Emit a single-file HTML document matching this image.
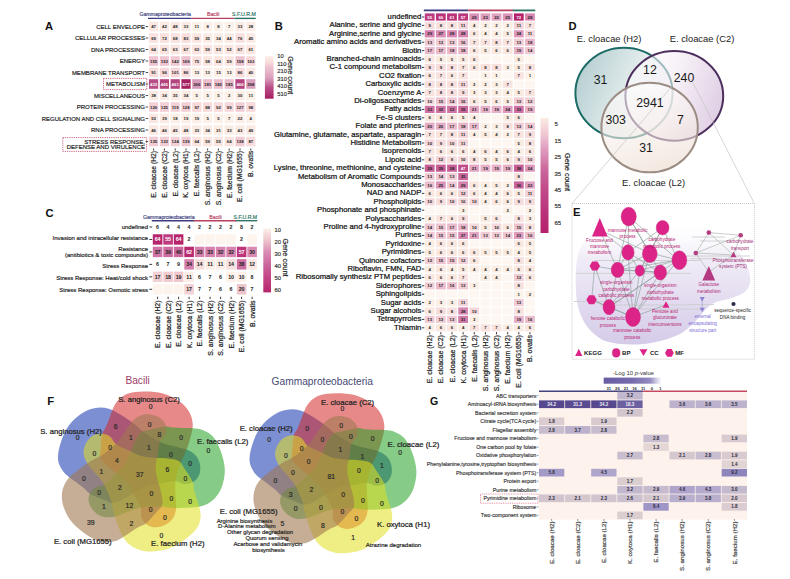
<!DOCTYPE html>
<html><head><meta charset="utf-8"><title>Figure</title>
<style>
html,body{margin:0;padding:0;background:#fff;}
body{width:790px;height:579px;overflow:hidden;}
svg{display:block;font-family:"Liberation Sans", Arial, sans-serif;}
</style></head>
<body>
<svg width="790" height="579" viewBox="0 0 790 579">
<rect width="790" height="579" fill="#fff"/>
<text x="45.00" y="30.03" font-size="11.2" text-anchor="start" fill="#111" font-weight="bold">A</text>
<line x1="148.00" y1="18.40" x2="191.00" y2="18.40" stroke="#3b3d7e" stroke-width="1.4"/>
<text x="165.20" y="16.17" font-size="5.2" text-anchor="middle" fill="#3b3d7e" stroke="#3b3d7e" stroke-width="0.16">Gammaproteobacteria</text>
<line x1="191.20" y1="18.40" x2="234.20" y2="18.40" stroke="#b8405f" stroke-width="1.4"/>
<text x="213.20" y="16.17" font-size="5.2" text-anchor="middle" fill="#b8405f" stroke="#b8405f" stroke-width="0.16">Bacili</text>
<line x1="234.40" y1="18.40" x2="255.80" y2="18.40" stroke="#2e7466" stroke-width="1.4"/>
<text x="243.90" y="16.17" font-size="5.2" text-anchor="middle" fill="#2e7466" stroke="#2e7466" stroke-width="0.16">S.F.U.R.M</text>
<text x="145.00" y="28.66" font-size="6" text-anchor="end" fill="#222" stroke="#222" stroke-width="0.18">CELL ENVELOPE</text>
<line x1="145.60" y1="26.50" x2="148.20" y2="26.50" stroke="#222" stroke-width="0.8"/>
<rect x="149.00" y="21.70" width="9.20" height="9.60" fill="#fbe8e2"/>
<text x="153.60" y="28.05" font-size="4.3" text-anchor="middle" fill="#222" font-weight="bold">47</text>
<rect x="159.80" y="21.70" width="9.20" height="9.60" fill="#fbe9e3"/>
<text x="164.40" y="28.05" font-size="4.3" text-anchor="middle" fill="#222" font-weight="bold">42</text>
<rect x="170.60" y="21.70" width="9.20" height="9.60" fill="#fae8e2"/>
<text x="175.20" y="28.05" font-size="4.3" text-anchor="middle" fill="#222" font-weight="bold">48</text>
<rect x="181.40" y="21.70" width="9.20" height="9.60" fill="#fbebe5"/>
<text x="186.00" y="28.05" font-size="4.3" text-anchor="middle" fill="#222" font-weight="bold">33</text>
<rect x="192.20" y="21.70" width="9.20" height="9.60" fill="#fcf1e9"/>
<text x="196.80" y="28.05" font-size="4.3" text-anchor="middle" fill="#222" font-weight="bold">11</text>
<rect x="203.00" y="21.70" width="9.20" height="9.60" fill="#fcf1e9"/>
<text x="207.60" y="28.05" font-size="4.3" text-anchor="middle" fill="#222" font-weight="bold">8</text>
<rect x="213.80" y="21.70" width="9.20" height="9.60" fill="#fcf1e9"/>
<text x="218.40" y="28.05" font-size="4.3" text-anchor="middle" fill="#222" font-weight="bold">8</text>
<rect x="224.60" y="21.70" width="9.20" height="9.60" fill="#fcf1e9"/>
<text x="229.20" y="28.05" font-size="4.3" text-anchor="middle" fill="#222" font-weight="bold">7</text>
<rect x="235.40" y="21.70" width="9.20" height="9.60" fill="#fbebe5"/>
<text x="240.00" y="28.05" font-size="4.3" text-anchor="middle" fill="#222" font-weight="bold">33</text>
<rect x="246.20" y="21.70" width="9.20" height="9.60" fill="#fbede6"/>
<text x="250.80" y="28.05" font-size="4.3" text-anchor="middle" fill="#222" font-weight="bold">28</text>
<text x="145.00" y="40.16" font-size="6" text-anchor="end" fill="#222" stroke="#222" stroke-width="0.18">CELLULAR PROCESSES</text>
<line x1="145.60" y1="38.00" x2="148.20" y2="38.00" stroke="#222" stroke-width="0.8"/>
<rect x="149.00" y="33.20" width="9.20" height="9.60" fill="#f9e2df"/>
<text x="153.60" y="39.55" font-size="4.3" text-anchor="middle" fill="#222" font-weight="bold">69</text>
<rect x="159.80" y="33.20" width="9.20" height="9.60" fill="#f9e1de"/>
<text x="164.40" y="39.55" font-size="4.3" text-anchor="middle" fill="#222" font-weight="bold">72</text>
<rect x="170.60" y="33.20" width="9.20" height="9.60" fill="#f9e2df"/>
<text x="175.20" y="39.55" font-size="4.3" text-anchor="middle" fill="#222" font-weight="bold">68</text>
<rect x="181.40" y="33.20" width="9.20" height="9.60" fill="#f8dedd"/>
<text x="186.00" y="39.55" font-size="4.3" text-anchor="middle" fill="#222" font-weight="bold">83</text>
<rect x="192.20" y="33.20" width="9.20" height="9.60" fill="#fae5e0"/>
<text x="196.80" y="39.55" font-size="4.3" text-anchor="middle" fill="#222" font-weight="bold">59</text>
<rect x="203.00" y="33.20" width="9.20" height="9.60" fill="#fbebe4"/>
<text x="207.60" y="39.55" font-size="4.3" text-anchor="middle" fill="#222" font-weight="bold">35</text>
<rect x="213.80" y="33.20" width="9.20" height="9.60" fill="#fbebe5"/>
<text x="218.40" y="39.55" font-size="4.3" text-anchor="middle" fill="#222" font-weight="bold">34</text>
<rect x="224.60" y="33.20" width="9.20" height="9.60" fill="#fbe9e3"/>
<text x="229.20" y="39.55" font-size="4.3" text-anchor="middle" fill="#222" font-weight="bold">44</text>
<rect x="235.40" y="33.20" width="9.20" height="9.60" fill="#f9e0de"/>
<text x="240.00" y="39.55" font-size="4.3" text-anchor="middle" fill="#222" font-weight="bold">76</text>
<rect x="246.20" y="33.20" width="9.20" height="9.60" fill="#fbe9e3"/>
<text x="250.80" y="39.55" font-size="4.3" text-anchor="middle" fill="#222" font-weight="bold">45</text>
<text x="145.00" y="51.66" font-size="6" text-anchor="end" fill="#222" stroke="#222" stroke-width="0.18">DNA PROCESSING</text>
<line x1="145.60" y1="49.50" x2="148.20" y2="49.50" stroke="#222" stroke-width="0.8"/>
<rect x="149.00" y="44.70" width="9.20" height="9.60" fill="#fae4df"/>
<text x="153.60" y="51.05" font-size="4.3" text-anchor="middle" fill="#222" font-weight="bold">64</text>
<rect x="159.80" y="44.70" width="9.20" height="9.60" fill="#fae3df"/>
<text x="164.40" y="51.05" font-size="4.3" text-anchor="middle" fill="#222" font-weight="bold">65</text>
<rect x="170.60" y="44.70" width="9.20" height="9.60" fill="#fae4e0"/>
<text x="175.20" y="51.05" font-size="4.3" text-anchor="middle" fill="#222" font-weight="bold">63</text>
<rect x="181.40" y="44.70" width="9.20" height="9.60" fill="#f9e3df"/>
<text x="186.00" y="51.05" font-size="4.3" text-anchor="middle" fill="#222" font-weight="bold">67</text>
<rect x="192.20" y="44.70" width="9.20" height="9.60" fill="#fae4e0"/>
<text x="196.80" y="51.05" font-size="4.3" text-anchor="middle" fill="#222" font-weight="bold">63</text>
<rect x="203.00" y="44.70" width="9.20" height="9.60" fill="#fae5e0"/>
<text x="207.60" y="51.05" font-size="4.3" text-anchor="middle" fill="#222" font-weight="bold">59</text>
<rect x="213.80" y="44.70" width="9.20" height="9.60" fill="#fae7e1"/>
<text x="218.40" y="51.05" font-size="4.3" text-anchor="middle" fill="#222" font-weight="bold">53</text>
<rect x="224.60" y="44.70" width="9.20" height="9.60" fill="#fae7e1"/>
<text x="229.20" y="51.05" font-size="4.3" text-anchor="middle" fill="#222" font-weight="bold">52</text>
<rect x="235.40" y="44.70" width="9.20" height="9.60" fill="#f9e3df"/>
<text x="240.00" y="51.05" font-size="4.3" text-anchor="middle" fill="#222" font-weight="bold">67</text>
<rect x="246.20" y="44.70" width="9.20" height="9.60" fill="#fae5e0"/>
<text x="250.80" y="51.05" font-size="4.3" text-anchor="middle" fill="#222" font-weight="bold">61</text>
<text x="145.00" y="63.16" font-size="6" text-anchor="end" fill="#222" stroke="#222" stroke-width="0.18">ENERGY</text>
<line x1="145.60" y1="61.00" x2="148.20" y2="61.00" stroke="#222" stroke-width="0.8"/>
<rect x="149.00" y="56.20" width="9.20" height="9.60" fill="#efc4d1"/>
<text x="153.60" y="62.55" font-size="4.3" text-anchor="middle" fill="#222" font-weight="bold">155</text>
<rect x="159.80" y="56.20" width="9.20" height="9.60" fill="#efc5d1"/>
<text x="164.40" y="62.55" font-size="4.3" text-anchor="middle" fill="#222" font-weight="bold">153</text>
<rect x="170.60" y="56.20" width="9.20" height="9.60" fill="#f1c9d3"/>
<text x="175.20" y="62.55" font-size="4.3" text-anchor="middle" fill="#222" font-weight="bold">142</text>
<rect x="181.40" y="56.20" width="9.20" height="9.60" fill="#edc0cf"/>
<text x="186.00" y="62.55" font-size="4.3" text-anchor="middle" fill="#222" font-weight="bold">169</text>
<rect x="192.20" y="56.20" width="9.20" height="9.60" fill="#f9e0de"/>
<text x="196.80" y="62.55" font-size="4.3" text-anchor="middle" fill="#222" font-weight="bold">75</text>
<rect x="203.00" y="56.20" width="9.20" height="9.60" fill="#fae5e0"/>
<text x="207.60" y="62.55" font-size="4.3" text-anchor="middle" fill="#222" font-weight="bold">58</text>
<rect x="213.80" y="56.20" width="9.20" height="9.60" fill="#fae4df"/>
<text x="218.40" y="62.55" font-size="4.3" text-anchor="middle" fill="#222" font-weight="bold">64</text>
<rect x="224.60" y="56.20" width="9.20" height="9.60" fill="#fae5e0"/>
<text x="229.20" y="62.55" font-size="4.3" text-anchor="middle" fill="#222" font-weight="bold">59</text>
<rect x="235.40" y="56.20" width="9.20" height="9.60" fill="#eec3d0"/>
<text x="240.00" y="62.55" font-size="4.3" text-anchor="middle" fill="#222" font-weight="bold">158</text>
<rect x="246.20" y="56.20" width="9.20" height="9.60" fill="#f7d7da"/>
<text x="250.80" y="62.55" font-size="4.3" text-anchor="middle" fill="#222" font-weight="bold">103</text>
<text x="145.00" y="74.66" font-size="6" text-anchor="end" fill="#222" stroke="#222" stroke-width="0.18">MEMBRANE TRANSPORT</text>
<line x1="145.60" y1="72.50" x2="148.20" y2="72.50" stroke="#222" stroke-width="0.8"/>
<rect x="149.00" y="67.70" width="9.20" height="9.60" fill="#f8dbdb"/>
<text x="153.60" y="74.05" font-size="4.3" text-anchor="middle" fill="#222" font-weight="bold">91</text>
<rect x="159.80" y="67.70" width="9.20" height="9.60" fill="#f7d9db"/>
<text x="164.40" y="74.05" font-size="4.3" text-anchor="middle" fill="#222" font-weight="bold">96</text>
<rect x="170.60" y="67.70" width="9.20" height="9.60" fill="#f7d8da"/>
<text x="175.20" y="74.05" font-size="4.3" text-anchor="middle" fill="#222" font-weight="bold">101</text>
<rect x="181.40" y="67.70" width="9.20" height="9.60" fill="#f8dddc"/>
<text x="186.00" y="74.05" font-size="4.3" text-anchor="middle" fill="#222" font-weight="bold">86</text>
<rect x="192.20" y="67.70" width="9.20" height="9.60" fill="#fcf0e8"/>
<text x="196.80" y="74.05" font-size="4.3" text-anchor="middle" fill="#222" font-weight="bold">13</text>
<rect x="203.00" y="67.70" width="9.20" height="9.60" fill="#fcf0e8"/>
<text x="207.60" y="74.05" font-size="4.3" text-anchor="middle" fill="#222" font-weight="bold">13</text>
<rect x="213.80" y="67.70" width="9.20" height="9.60" fill="#fcf0e8"/>
<text x="218.40" y="74.05" font-size="4.3" text-anchor="middle" fill="#222" font-weight="bold">15</text>
<rect x="224.60" y="67.70" width="9.20" height="9.60" fill="#fcf0e8"/>
<text x="229.20" y="74.05" font-size="4.3" text-anchor="middle" fill="#222" font-weight="bold">13</text>
<rect x="235.40" y="67.70" width="9.20" height="9.60" fill="#f8dddc"/>
<text x="240.00" y="74.05" font-size="4.3" text-anchor="middle" fill="#222" font-weight="bold">86</text>
<rect x="246.20" y="67.70" width="9.20" height="9.60" fill="#fbeae4"/>
<text x="250.80" y="74.05" font-size="4.3" text-anchor="middle" fill="#222" font-weight="bold">40</text>
<text x="145.00" y="86.16" font-size="6" text-anchor="end" fill="#222" stroke="#222" stroke-width="0.18">METABOLISM</text>
<line x1="145.60" y1="84.00" x2="148.20" y2="84.00" stroke="#222" stroke-width="0.8"/>
<rect x="149.00" y="79.20" width="9.20" height="9.60" fill="#b84d87"/>
<text x="153.60" y="85.55" font-size="4.3" text-anchor="middle" fill="#fff" font-weight="bold">433</text>
<rect x="159.80" y="79.20" width="9.20" height="9.60" fill="#b4437e"/>
<text x="164.40" y="85.55" font-size="4.3" text-anchor="middle" fill="#fff" font-weight="bold">465</text>
<rect x="170.60" y="79.20" width="9.20" height="9.60" fill="#b44480"/>
<text x="175.20" y="85.55" font-size="4.3" text-anchor="middle" fill="#fff" font-weight="bold">461</text>
<rect x="181.40" y="79.20" width="9.20" height="9.60" fill="#a61e60"/>
<text x="186.00" y="85.55" font-size="4.3" text-anchor="middle" fill="#fff" font-weight="bold">577</text>
<rect x="192.20" y="79.20" width="9.20" height="9.60" fill="#d89cbc"/>
<text x="196.80" y="85.55" font-size="4.3" text-anchor="middle" fill="#222" font-weight="bold">306</text>
<rect x="203.00" y="79.20" width="9.20" height="9.60" fill="#ebbdcd"/>
<text x="207.60" y="85.55" font-size="4.3" text-anchor="middle" fill="#222" font-weight="bold">181</text>
<rect x="213.80" y="79.20" width="9.20" height="9.60" fill="#ebbdcd"/>
<text x="218.40" y="85.55" font-size="4.3" text-anchor="middle" fill="#222" font-weight="bold">182</text>
<rect x="224.60" y="79.20" width="9.20" height="9.60" fill="#eabccd"/>
<text x="229.20" y="85.55" font-size="4.3" text-anchor="middle" fill="#222" font-weight="bold">185</text>
<rect x="235.40" y="79.20" width="9.20" height="9.60" fill="#b4427e"/>
<text x="240.00" y="85.55" font-size="4.3" text-anchor="middle" fill="#fff" font-weight="bold">466</text>
<rect x="246.20" y="79.20" width="9.20" height="9.60" fill="#daa0be"/>
<text x="250.80" y="85.55" font-size="4.3" text-anchor="middle" fill="#222" font-weight="bold">298</text>
<text x="145.00" y="97.66" font-size="6" text-anchor="end" fill="#222" stroke="#222" stroke-width="0.18">MISCELLANEOUS</text>
<line x1="145.60" y1="95.50" x2="148.20" y2="95.50" stroke="#222" stroke-width="0.8"/>
<rect x="149.00" y="90.70" width="9.20" height="9.60" fill="#fbeae4"/>
<text x="153.60" y="97.05" font-size="4.3" text-anchor="middle" fill="#222" font-weight="bold">38</text>
<rect x="159.80" y="90.70" width="9.20" height="9.60" fill="#fbebe5"/>
<text x="164.40" y="97.05" font-size="4.3" text-anchor="middle" fill="#222" font-weight="bold">34</text>
<rect x="170.60" y="90.70" width="9.20" height="9.60" fill="#fbebe4"/>
<text x="175.20" y="97.05" font-size="4.3" text-anchor="middle" fill="#222" font-weight="bold">35</text>
<rect x="181.40" y="90.70" width="9.20" height="9.60" fill="#fbebe5"/>
<text x="186.00" y="97.05" font-size="4.3" text-anchor="middle" fill="#222" font-weight="bold">34</text>
<rect x="192.20" y="90.70" width="9.20" height="9.60" fill="#fcf1e9"/>
<text x="196.80" y="97.05" font-size="4.3" text-anchor="middle" fill="#222" font-weight="bold">5</text>
<rect x="203.00" y="90.70" width="9.20" height="9.60" fill="#fcf1e9"/>
<text x="207.60" y="97.05" font-size="4.3" text-anchor="middle" fill="#222" font-weight="bold">5</text>
<rect x="213.80" y="90.70" width="9.20" height="9.60" fill="#fcf1e9"/>
<text x="218.40" y="97.05" font-size="4.3" text-anchor="middle" fill="#222" font-weight="bold">5</text>
<rect x="224.60" y="90.70" width="9.20" height="9.60" fill="#fcf1e9"/>
<text x="229.20" y="97.05" font-size="4.3" text-anchor="middle" fill="#222" font-weight="bold">2</text>
<rect x="235.40" y="90.70" width="9.20" height="9.60" fill="#fbece5"/>
<text x="240.00" y="97.05" font-size="4.3" text-anchor="middle" fill="#222" font-weight="bold">30</text>
<rect x="246.20" y="90.70" width="9.20" height="9.60" fill="#fcf1e9"/>
<text x="250.80" y="97.05" font-size="4.3" text-anchor="middle" fill="#222" font-weight="bold">11</text>
<text x="145.00" y="109.16" font-size="6" text-anchor="end" fill="#222" stroke="#222" stroke-width="0.18">PROTEIN PROCESSING</text>
<line x1="145.60" y1="107.00" x2="148.20" y2="107.00" stroke="#222" stroke-width="0.8"/>
<rect x="149.00" y="102.20" width="9.20" height="9.60" fill="#f4d1d7"/>
<text x="153.60" y="108.55" font-size="4.3" text-anchor="middle" fill="#222" font-weight="bold">120</text>
<rect x="159.80" y="102.20" width="9.20" height="9.60" fill="#f3cfd6"/>
<text x="164.40" y="108.55" font-size="4.3" text-anchor="middle" fill="#222" font-weight="bold">125</text>
<rect x="170.60" y="102.20" width="9.20" height="9.60" fill="#f4d1d7"/>
<text x="175.20" y="108.55" font-size="4.3" text-anchor="middle" fill="#222" font-weight="bold">119</text>
<rect x="181.40" y="102.20" width="9.20" height="9.60" fill="#f3ced5"/>
<text x="186.00" y="108.55" font-size="4.3" text-anchor="middle" fill="#222" font-weight="bold">128</text>
<rect x="192.20" y="102.20" width="9.20" height="9.60" fill="#f7d9da"/>
<text x="196.80" y="108.55" font-size="4.3" text-anchor="middle" fill="#222" font-weight="bold">97</text>
<rect x="203.00" y="102.20" width="9.20" height="9.60" fill="#f8dcdc"/>
<text x="207.60" y="108.55" font-size="4.3" text-anchor="middle" fill="#222" font-weight="bold">88</text>
<rect x="213.80" y="102.20" width="9.20" height="9.60" fill="#f8dbdb"/>
<text x="218.40" y="108.55" font-size="4.3" text-anchor="middle" fill="#222" font-weight="bold">92</text>
<rect x="224.60" y="102.20" width="9.20" height="9.60" fill="#f7d8da"/>
<text x="229.20" y="108.55" font-size="4.3" text-anchor="middle" fill="#222" font-weight="bold">99</text>
<rect x="235.40" y="102.20" width="9.20" height="9.60" fill="#f3ced6"/>
<text x="240.00" y="108.55" font-size="4.3" text-anchor="middle" fill="#222" font-weight="bold">127</text>
<rect x="246.20" y="102.20" width="9.20" height="9.60" fill="#f7d9da"/>
<text x="250.80" y="108.55" font-size="4.3" text-anchor="middle" fill="#222" font-weight="bold">98</text>
<text x="145.00" y="120.66" font-size="6" text-anchor="end" fill="#222" stroke="#222" stroke-width="0.18">REGULATION AND CELL SIGNALING</text>
<line x1="145.60" y1="118.50" x2="148.20" y2="118.50" stroke="#222" stroke-width="0.8"/>
<rect x="149.00" y="113.70" width="9.20" height="9.60" fill="#fae7e1"/>
<text x="153.60" y="120.05" font-size="4.3" text-anchor="middle" fill="#222" font-weight="bold">53</text>
<rect x="159.80" y="113.70" width="9.20" height="9.60" fill="#fbeae4"/>
<text x="164.40" y="120.05" font-size="4.3" text-anchor="middle" fill="#222" font-weight="bold">39</text>
<rect x="170.60" y="113.70" width="9.20" height="9.60" fill="#fcefe8"/>
<text x="175.20" y="120.05" font-size="4.3" text-anchor="middle" fill="#222" font-weight="bold">18</text>
<rect x="181.40" y="113.70" width="9.20" height="9.60" fill="#fcefe7"/>
<text x="186.00" y="120.05" font-size="4.3" text-anchor="middle" fill="#222" font-weight="bold">19</text>
<rect x="192.20" y="113.70" width="9.20" height="9.60" fill="#fcefe7"/>
<text x="196.80" y="120.05" font-size="4.3" text-anchor="middle" fill="#222" font-weight="bold">19</text>
<rect x="203.00" y="113.70" width="9.20" height="9.60" fill="#fcf1e9"/>
<text x="207.60" y="120.05" font-size="4.3" text-anchor="middle" fill="#222" font-weight="bold">5</text>
<rect x="213.80" y="113.70" width="9.20" height="9.60" fill="#fcf1e9"/>
<text x="218.40" y="120.05" font-size="4.3" text-anchor="middle" fill="#222" font-weight="bold">5</text>
<rect x="224.60" y="113.70" width="9.20" height="9.60" fill="#fcf1e9"/>
<text x="229.20" y="120.05" font-size="4.3" text-anchor="middle" fill="#222" font-weight="bold">7</text>
<rect x="235.40" y="113.70" width="9.20" height="9.60" fill="#fceee7"/>
<text x="240.00" y="120.05" font-size="4.3" text-anchor="middle" fill="#222" font-weight="bold">22</text>
<rect x="246.20" y="113.70" width="9.20" height="9.60" fill="#fcf1e9"/>
<text x="250.80" y="120.05" font-size="4.3" text-anchor="middle" fill="#222" font-weight="bold">4</text>
<text x="145.00" y="132.16" font-size="6" text-anchor="end" fill="#222" stroke="#222" stroke-width="0.18">RNA PROCESSING</text>
<line x1="145.60" y1="130.00" x2="148.20" y2="130.00" stroke="#222" stroke-width="0.8"/>
<rect x="149.00" y="125.20" width="9.20" height="9.60" fill="#fbe8e3"/>
<text x="153.60" y="131.55" font-size="4.3" text-anchor="middle" fill="#222" font-weight="bold">46</text>
<rect x="159.80" y="125.20" width="9.20" height="9.60" fill="#fbe8e3"/>
<text x="164.40" y="131.55" font-size="4.3" text-anchor="middle" fill="#222" font-weight="bold">46</text>
<rect x="170.60" y="125.20" width="9.20" height="9.60" fill="#fbe9e3"/>
<text x="175.20" y="131.55" font-size="4.3" text-anchor="middle" fill="#222" font-weight="bold">45</text>
<rect x="181.40" y="125.20" width="9.20" height="9.60" fill="#fae8e2"/>
<text x="186.00" y="131.55" font-size="4.3" text-anchor="middle" fill="#222" font-weight="bold">48</text>
<rect x="192.20" y="125.20" width="9.20" height="9.60" fill="#fbebe5"/>
<text x="196.80" y="131.55" font-size="4.3" text-anchor="middle" fill="#222" font-weight="bold">33</text>
<rect x="203.00" y="125.20" width="9.20" height="9.60" fill="#fbebe5"/>
<text x="207.60" y="131.55" font-size="4.3" text-anchor="middle" fill="#222" font-weight="bold">34</text>
<rect x="213.80" y="125.20" width="9.20" height="9.60" fill="#fbece5"/>
<text x="218.40" y="131.55" font-size="4.3" text-anchor="middle" fill="#222" font-weight="bold">31</text>
<rect x="224.60" y="125.20" width="9.20" height="9.60" fill="#fbebe5"/>
<text x="229.20" y="131.55" font-size="4.3" text-anchor="middle" fill="#222" font-weight="bold">33</text>
<rect x="235.40" y="125.20" width="9.20" height="9.60" fill="#fbe9e3"/>
<text x="240.00" y="131.55" font-size="4.3" text-anchor="middle" fill="#222" font-weight="bold">43</text>
<rect x="246.20" y="125.20" width="9.20" height="9.60" fill="#fae8e2"/>
<text x="250.80" y="131.55" font-size="4.3" text-anchor="middle" fill="#222" font-weight="bold">49</text>
<text x="145.00" y="143.86" font-size="6" text-anchor="end" fill="#222" stroke="#222" stroke-width="0.18">STRESS RESPONSE,</text>
<text x="145.00" y="149.16" font-size="6" text-anchor="end" fill="#222" stroke="#222" stroke-width="0.18">DEFENSE AND VIRULENCE</text>
<line x1="145.60" y1="141.50" x2="148.20" y2="141.50" stroke="#222" stroke-width="0.8"/>
<rect x="149.00" y="136.70" width="9.20" height="9.60" fill="#f2cbd4"/>
<text x="153.60" y="143.05" font-size="4.3" text-anchor="middle" fill="#222" font-weight="bold">135</text>
<rect x="159.80" y="136.70" width="9.20" height="9.60" fill="#f2ccd4"/>
<text x="164.40" y="143.05" font-size="4.3" text-anchor="middle" fill="#222" font-weight="bold">133</text>
<rect x="170.60" y="136.70" width="9.20" height="9.60" fill="#f3cfd6"/>
<text x="175.20" y="143.05" font-size="4.3" text-anchor="middle" fill="#222" font-weight="bold">124</text>
<rect x="181.40" y="136.70" width="9.20" height="9.60" fill="#f1cad4"/>
<text x="186.00" y="143.05" font-size="4.3" text-anchor="middle" fill="#222" font-weight="bold">139</text>
<rect x="192.20" y="136.70" width="9.20" height="9.60" fill="#fae4df"/>
<text x="196.80" y="143.05" font-size="4.3" text-anchor="middle" fill="#222" font-weight="bold">64</text>
<rect x="203.00" y="136.70" width="9.20" height="9.60" fill="#fae5e0"/>
<text x="207.60" y="143.05" font-size="4.3" text-anchor="middle" fill="#222" font-weight="bold">59</text>
<rect x="213.80" y="136.70" width="9.20" height="9.60" fill="#fae6e1"/>
<text x="218.40" y="143.05" font-size="4.3" text-anchor="middle" fill="#222" font-weight="bold">55</text>
<rect x="224.60" y="136.70" width="9.20" height="9.60" fill="#fae4df"/>
<text x="229.20" y="143.05" font-size="4.3" text-anchor="middle" fill="#222" font-weight="bold">64</text>
<rect x="235.40" y="136.70" width="9.20" height="9.60" fill="#f1cad4"/>
<text x="240.00" y="143.05" font-size="4.3" text-anchor="middle" fill="#222" font-weight="bold">138</text>
<rect x="246.20" y="136.70" width="9.20" height="9.60" fill="#f8dcdc"/>
<text x="250.80" y="143.05" font-size="4.3" text-anchor="middle" fill="#222" font-weight="bold">87</text>
<rect x="103.5" y="78.40" width="43.3" height="11.2" fill="none" stroke="#c04060" stroke-width="0.8" stroke-dasharray="1.2,1"/>
<rect x="62.8" y="137.60" width="83.8" height="13.8" fill="none" stroke="#c04060" stroke-width="0.8" stroke-dasharray="1.2,1"/>
<line x1="153.60" y1="148.50" x2="153.60" y2="150.50" stroke="#222" stroke-width="0.9"/>
<text transform="translate(153.60,150.90) rotate(-90)" x="0" y="2.45" font-size="6.8" text-anchor="end" fill="#222" stroke="#222" stroke-width="0.20">E. cloacae (H2)</text>
<line x1="164.40" y1="148.50" x2="164.40" y2="150.50" stroke="#222" stroke-width="0.9"/>
<text transform="translate(164.40,150.90) rotate(-90)" x="0" y="2.45" font-size="6.8" text-anchor="end" fill="#222" stroke="#222" stroke-width="0.20">E. cloacae (C2)</text>
<line x1="175.20" y1="148.50" x2="175.20" y2="150.50" stroke="#222" stroke-width="0.9"/>
<text transform="translate(175.20,150.90) rotate(-90)" x="0" y="2.45" font-size="6.8" text-anchor="end" fill="#222" stroke="#222" stroke-width="0.20">E. cloacae (L2)</text>
<line x1="186.00" y1="148.50" x2="186.00" y2="150.50" stroke="#222" stroke-width="0.9"/>
<text transform="translate(186.00,150.90) rotate(-90)" x="0" y="2.45" font-size="6.8" text-anchor="end" fill="#222" stroke="#222" stroke-width="0.20">K. oxytoca (H1)</text>
<line x1="196.80" y1="148.50" x2="196.80" y2="150.50" stroke="#222" stroke-width="0.9"/>
<text transform="translate(196.80,150.90) rotate(-90)" x="0" y="2.45" font-size="6.8" text-anchor="end" fill="#222" stroke="#222" stroke-width="0.20">E. faecalis (L2)</text>
<line x1="207.60" y1="148.50" x2="207.60" y2="150.50" stroke="#222" stroke-width="0.9"/>
<text transform="translate(207.60,150.90) rotate(-90)" x="0" y="2.45" font-size="6.8" text-anchor="end" fill="#222" stroke="#222" stroke-width="0.20">S. anginosus (H2)</text>
<line x1="218.40" y1="148.50" x2="218.40" y2="150.50" stroke="#222" stroke-width="0.9"/>
<text transform="translate(218.40,150.90) rotate(-90)" x="0" y="2.45" font-size="6.8" text-anchor="end" fill="#222" stroke="#222" stroke-width="0.20">S. anginosus (C2)</text>
<line x1="229.20" y1="148.50" x2="229.20" y2="150.50" stroke="#222" stroke-width="0.9"/>
<text transform="translate(229.20,150.90) rotate(-90)" x="0" y="2.45" font-size="6.8" text-anchor="end" fill="#222" stroke="#222" stroke-width="0.20">E. faecium (H2)</text>
<line x1="240.00" y1="148.50" x2="240.00" y2="150.50" stroke="#222" stroke-width="0.9"/>
<text transform="translate(240.00,150.90) rotate(-90)" x="0" y="2.45" font-size="6.8" text-anchor="end" fill="#222" stroke="#222" stroke-width="0.20">E. coli (MG1655)</text>
<line x1="250.80" y1="148.50" x2="250.80" y2="150.50" stroke="#222" stroke-width="0.9"/>
<text transform="translate(250.80,150.90) rotate(-90)" x="0" y="2.45" font-size="6.8" text-anchor="end" fill="#222" stroke="#222" stroke-width="0.20">B. ovatis</text>
<defs><linearGradient id="gA" x1="0" y1="0" x2="0" y2="1">
<stop offset="0.000" stop-color="#fcf1e9"/>
<stop offset="0.088" stop-color="#fae5e0"/>
<stop offset="0.159" stop-color="#f7d8da"/>
<stop offset="0.265" stop-color="#eec2d0"/>
<stop offset="0.511" stop-color="#daa0be"/>
<stop offset="0.741" stop-color="#b84e88"/>
<stop offset="1.000" stop-color="#a61e60"/>
</linearGradient></defs>
<rect x="264.90" y="56.00" width="8.70" height="42.70" fill="url(#gA)"/>
<text x="277.30" y="58.39" font-size="5.8" text-anchor="start" fill="#333" stroke="#333" stroke-width="0.17">10</text>
<text x="277.30" y="65.91" font-size="5.8" text-anchor="start" fill="#333" stroke="#333" stroke-width="0.17">110</text>
<text x="277.30" y="73.43" font-size="5.8" text-anchor="start" fill="#333" stroke="#333" stroke-width="0.17">210</text>
<text x="277.30" y="80.95" font-size="5.8" text-anchor="start" fill="#333" stroke="#333" stroke-width="0.17">310</text>
<text x="277.30" y="88.47" font-size="5.8" text-anchor="start" fill="#333" stroke="#333" stroke-width="0.17">410</text>
<text x="277.30" y="95.99" font-size="5.8" text-anchor="start" fill="#333" stroke="#333" stroke-width="0.17">510</text>
<text transform="translate(291.00,75.30) rotate(90)" x="0" y="2.66" font-size="7.4" text-anchor="middle" fill="#222" stroke="#222" stroke-width="0.22">Gene count</text>
<text x="274.70" y="30.23" font-size="11.2" text-anchor="start" fill="#111" font-weight="bold">B</text>
<line x1="423.80" y1="10.40" x2="468.42" y2="10.40" stroke="#3b3d7e" stroke-width="1.8"/>
<line x1="468.36" y1="10.40" x2="512.98" y2="10.40" stroke="#b8405f" stroke-width="1.8"/>
<line x1="512.92" y1="10.40" x2="535.26" y2="10.40" stroke="#2e7466" stroke-width="1.8"/>
<text x="421.40" y="18.97" font-size="7.7" text-anchor="end" fill="#111" stroke="#111" stroke-width="0.23">undefined</text>
<line x1="421.90" y1="17.00" x2="424.30" y2="17.00" stroke="#222" stroke-width="0.9"/>
<rect x="424.80" y="13.40" width="9.80" height="7.20" fill="#bd3a80"/>
<text x="429.70" y="18.55" font-size="4.3" text-anchor="middle" fill="#fff" font-weight="bold">55</text>
<rect x="435.94" y="13.40" width="9.80" height="7.20" fill="#bb317a"/>
<text x="440.84" y="18.55" font-size="4.3" text-anchor="middle" fill="#fff" font-weight="bold">60</text>
<rect x="447.08" y="13.40" width="9.80" height="7.20" fill="#ba3079"/>
<text x="451.98" y="18.55" font-size="4.3" text-anchor="middle" fill="#fff" font-weight="bold">61</text>
<rect x="458.22" y="13.40" width="9.80" height="7.20" fill="#bc367d"/>
<text x="463.12" y="18.55" font-size="4.3" text-anchor="middle" fill="#fff" font-weight="bold">57</text>
<rect x="469.36" y="13.40" width="9.80" height="7.20" fill="#da90b7"/>
<text x="474.26" y="18.55" font-size="4.3" text-anchor="middle" fill="#222" font-weight="bold">26</text>
<rect x="480.50" y="13.40" width="9.80" height="7.20" fill="#e09ebf"/>
<text x="485.40" y="18.55" font-size="4.3" text-anchor="middle" fill="#222" font-weight="bold">23</text>
<rect x="491.64" y="13.40" width="9.80" height="7.20" fill="#e1a2c1"/>
<text x="496.54" y="18.55" font-size="4.3" text-anchor="middle" fill="#222" font-weight="bold">22</text>
<rect x="502.78" y="13.40" width="9.80" height="7.20" fill="#dc94ba"/>
<text x="507.68" y="18.55" font-size="4.3" text-anchor="middle" fill="#222" font-weight="bold">25</text>
<rect x="513.92" y="13.40" width="9.80" height="7.20" fill="#b4226c"/>
<text x="518.82" y="18.55" font-size="4.3" text-anchor="middle" fill="#fff" font-weight="bold">72</text>
<rect x="525.06" y="13.40" width="9.80" height="7.20" fill="#d787b1"/>
<text x="529.96" y="18.55" font-size="4.3" text-anchor="middle" fill="#222" font-weight="bold">28</text>
<text x="421.40" y="27.37" font-size="7.7" text-anchor="end" fill="#111" stroke="#111" stroke-width="0.23">Alanine, serine and glycine</text>
<line x1="421.90" y1="25.40" x2="424.30" y2="25.40" stroke="#222" stroke-width="0.9"/>
<rect x="424.80" y="21.80" width="9.80" height="7.20" fill="#f6dcdc"/>
<text x="429.70" y="26.95" font-size="4.3" text-anchor="middle" fill="#222" font-weight="bold">9</text>
<rect x="435.94" y="21.80" width="9.80" height="7.20" fill="#f7e0dd"/>
<text x="440.84" y="26.95" font-size="4.3" text-anchor="middle" fill="#222" font-weight="bold">8</text>
<rect x="447.08" y="21.80" width="9.80" height="7.20" fill="#f7e0dd"/>
<text x="451.98" y="26.95" font-size="4.3" text-anchor="middle" fill="#222" font-weight="bold">8</text>
<rect x="458.22" y="21.80" width="9.80" height="7.20" fill="#f4d4d9"/>
<text x="463.12" y="26.95" font-size="4.3" text-anchor="middle" fill="#222" font-weight="bold">11</text>
<rect x="469.36" y="21.80" width="9.80" height="7.20" fill="#faede3"/>
<text x="474.26" y="26.95" font-size="4.3" text-anchor="middle" fill="#222" font-weight="bold">4</text>
<rect x="480.50" y="21.80" width="9.80" height="7.20" fill="#fcf0e6"/>
<text x="485.40" y="26.95" font-size="4.3" text-anchor="middle" fill="#222" font-weight="bold">2</text>
<rect x="491.64" y="21.80" width="9.80" height="7.20" fill="#fcf0e6"/>
<text x="496.54" y="26.95" font-size="4.3" text-anchor="middle" fill="#222" font-weight="bold">2</text>
<rect x="502.78" y="21.80" width="9.80" height="7.20" fill="#fcf0e6"/>
<text x="507.68" y="26.95" font-size="4.3" text-anchor="middle" fill="#222" font-weight="bold">2</text>
<rect x="513.92" y="21.80" width="9.80" height="7.20" fill="#f4d4d9"/>
<text x="518.82" y="26.95" font-size="4.3" text-anchor="middle" fill="#222" font-weight="bold">11</text>
<rect x="525.06" y="21.80" width="9.80" height="7.20" fill="#f8e3df"/>
<text x="529.96" y="26.95" font-size="4.3" text-anchor="middle" fill="#222" font-weight="bold">7</text>
<text x="421.40" y="35.77" font-size="7.7" text-anchor="end" fill="#111" stroke="#111" stroke-width="0.23">Arginine,serine and glycine</text>
<line x1="421.90" y1="33.80" x2="424.30" y2="33.80" stroke="#222" stroke-width="0.9"/>
<rect x="424.80" y="30.20" width="9.80" height="7.20" fill="#d582ae"/>
<text x="429.70" y="35.35" font-size="4.3" text-anchor="middle" fill="#222" font-weight="bold">29</text>
<rect x="435.94" y="30.20" width="9.80" height="7.20" fill="#d88bb4"/>
<text x="440.84" y="35.35" font-size="4.3" text-anchor="middle" fill="#222" font-weight="bold">27</text>
<rect x="447.08" y="30.20" width="9.80" height="7.20" fill="#d787b1"/>
<text x="451.98" y="35.35" font-size="4.3" text-anchor="middle" fill="#222" font-weight="bold">28</text>
<rect x="458.22" y="30.20" width="9.80" height="7.20" fill="#d787b1"/>
<text x="463.12" y="35.35" font-size="4.3" text-anchor="middle" fill="#222" font-weight="bold">28</text>
<rect x="469.36" y="30.20" width="9.80" height="7.20" fill="#f9e7e0"/>
<text x="474.26" y="35.35" font-size="4.3" text-anchor="middle" fill="#222" font-weight="bold">6</text>
<rect x="480.50" y="30.20" width="9.80" height="7.20" fill="#faede3"/>
<text x="485.40" y="35.35" font-size="4.3" text-anchor="middle" fill="#222" font-weight="bold">4</text>
<rect x="491.64" y="30.20" width="9.80" height="7.20" fill="#faede3"/>
<text x="496.54" y="35.35" font-size="4.3" text-anchor="middle" fill="#222" font-weight="bold">4</text>
<rect x="502.78" y="30.20" width="9.80" height="7.20" fill="#faebe1"/>
<text x="507.68" y="35.35" font-size="4.3" text-anchor="middle" fill="#222" font-weight="bold">5</text>
<rect x="513.92" y="30.20" width="9.80" height="7.20" fill="#de99bc"/>
<text x="518.82" y="35.35" font-size="4.3" text-anchor="middle" fill="#222" font-weight="bold">24</text>
<rect x="525.06" y="30.20" width="9.80" height="7.20" fill="#f4d4d9"/>
<text x="529.96" y="35.35" font-size="4.3" text-anchor="middle" fill="#222" font-weight="bold">11</text>
<text x="421.40" y="44.17" font-size="7.7" text-anchor="end" fill="#111" stroke="#111" stroke-width="0.23">Aromatic amino acids and derivatives</text>
<line x1="421.90" y1="42.20" x2="424.30" y2="42.20" stroke="#222" stroke-width="0.9"/>
<rect x="424.80" y="38.60" width="9.80" height="7.20" fill="#f1ccd5"/>
<text x="429.70" y="43.75" font-size="4.3" text-anchor="middle" fill="#222" font-weight="bold">13</text>
<rect x="435.94" y="38.60" width="9.80" height="7.20" fill="#f1ccd5"/>
<text x="440.84" y="43.75" font-size="4.3" text-anchor="middle" fill="#222" font-weight="bold">13</text>
<rect x="447.08" y="38.60" width="9.80" height="7.20" fill="#f1ccd5"/>
<text x="451.98" y="43.75" font-size="4.3" text-anchor="middle" fill="#222" font-weight="bold">13</text>
<rect x="458.22" y="38.60" width="9.80" height="7.20" fill="#ecbfcf"/>
<text x="463.12" y="43.75" font-size="4.3" text-anchor="middle" fill="#222" font-weight="bold">16</text>
<rect x="469.36" y="38.60" width="9.80" height="7.20" fill="#f8e3df"/>
<text x="474.26" y="43.75" font-size="4.3" text-anchor="middle" fill="#222" font-weight="bold">7</text>
<rect x="480.50" y="38.60" width="9.80" height="7.20" fill="#f8e3df"/>
<text x="485.40" y="43.75" font-size="4.3" text-anchor="middle" fill="#222" font-weight="bold">7</text>
<rect x="491.64" y="38.60" width="9.80" height="7.20" fill="#f7e0dd"/>
<text x="496.54" y="43.75" font-size="4.3" text-anchor="middle" fill="#222" font-weight="bold">8</text>
<rect x="502.78" y="38.60" width="9.80" height="7.20" fill="#f8e3df"/>
<text x="507.68" y="43.75" font-size="4.3" text-anchor="middle" fill="#222" font-weight="bold">7</text>
<rect x="513.92" y="38.60" width="9.80" height="7.20" fill="#f1ccd5"/>
<text x="518.82" y="43.75" font-size="4.3" text-anchor="middle" fill="#222" font-weight="bold">13</text>
<rect x="525.06" y="38.60" width="9.80" height="7.20" fill="#e9b6ca"/>
<text x="529.96" y="43.75" font-size="4.3" text-anchor="middle" fill="#222" font-weight="bold">18</text>
<text x="421.40" y="52.57" font-size="7.7" text-anchor="end" fill="#111" stroke="#111" stroke-width="0.23">Biotin</text>
<line x1="421.90" y1="50.60" x2="424.30" y2="50.60" stroke="#222" stroke-width="0.9"/>
<rect x="424.80" y="47.00" width="9.80" height="7.20" fill="#eabacd"/>
<text x="429.70" y="52.15" font-size="4.3" text-anchor="middle" fill="#222" font-weight="bold">17</text>
<rect x="435.94" y="47.00" width="9.80" height="7.20" fill="#eabacd"/>
<text x="440.84" y="52.15" font-size="4.3" text-anchor="middle" fill="#222" font-weight="bold">17</text>
<rect x="447.08" y="47.00" width="9.80" height="7.20" fill="#e9b6ca"/>
<text x="451.98" y="52.15" font-size="4.3" text-anchor="middle" fill="#222" font-weight="bold">18</text>
<rect x="458.22" y="47.00" width="9.80" height="7.20" fill="#e9b6ca"/>
<text x="463.12" y="52.15" font-size="4.3" text-anchor="middle" fill="#222" font-weight="bold">18</text>
<rect x="469.36" y="47.00" width="9.80" height="7.20" fill="#f9e7e0"/>
<text x="474.26" y="52.15" font-size="4.3" text-anchor="middle" fill="#222" font-weight="bold">6</text>
<rect x="480.50" y="47.00" width="9.80" height="7.20" fill="#faebe1"/>
<text x="485.40" y="52.15" font-size="4.3" text-anchor="middle" fill="#222" font-weight="bold">5</text>
<rect x="491.64" y="47.00" width="9.80" height="7.20" fill="#f9e7e0"/>
<text x="496.54" y="52.15" font-size="4.3" text-anchor="middle" fill="#222" font-weight="bold">6</text>
<rect x="502.78" y="47.00" width="9.80" height="7.20" fill="#f9e7e0"/>
<text x="507.68" y="52.15" font-size="4.3" text-anchor="middle" fill="#222" font-weight="bold">6</text>
<rect x="513.92" y="47.00" width="9.80" height="7.20" fill="#e7b1c8"/>
<text x="518.82" y="52.15" font-size="4.3" text-anchor="middle" fill="#222" font-weight="bold">19</text>
<rect x="525.06" y="47.00" width="9.80" height="7.20" fill="#efc8d3"/>
<text x="529.96" y="52.15" font-size="4.3" text-anchor="middle" fill="#222" font-weight="bold">14</text>
<text x="421.40" y="60.97" font-size="7.7" text-anchor="end" fill="#111" stroke="#111" stroke-width="0.23">Branched-chain aminoacids</text>
<line x1="421.90" y1="59.00" x2="424.30" y2="59.00" stroke="#222" stroke-width="0.9"/>
<rect x="424.80" y="55.40" width="9.80" height="7.20" fill="#f9e7e0"/>
<text x="429.70" y="60.55" font-size="4.3" text-anchor="middle" fill="#222" font-weight="bold">6</text>
<rect x="435.94" y="55.40" width="9.80" height="7.20" fill="#faebe1"/>
<text x="440.84" y="60.55" font-size="4.3" text-anchor="middle" fill="#222" font-weight="bold">5</text>
<rect x="447.08" y="55.40" width="9.80" height="7.20" fill="#faebe1"/>
<text x="451.98" y="60.55" font-size="4.3" text-anchor="middle" fill="#222" font-weight="bold">5</text>
<rect x="458.22" y="55.40" width="9.80" height="7.20" fill="#faebe1"/>
<text x="463.12" y="60.55" font-size="4.3" text-anchor="middle" fill="#222" font-weight="bold">5</text>
<rect x="469.36" y="55.40" width="9.80" height="7.20" fill="#f9e7e0"/>
<text x="474.26" y="60.55" font-size="4.3" text-anchor="middle" fill="#222" font-weight="bold">6</text>
<rect x="480.50" y="55.40" width="9.80" height="7.20" fill="#fdf6f1"/>
<rect x="491.64" y="55.40" width="9.80" height="7.20" fill="#fdf6f1"/>
<rect x="502.78" y="55.40" width="9.80" height="7.20" fill="#fdf6f1"/>
<rect x="513.92" y="55.40" width="9.80" height="7.20" fill="#faebe1"/>
<text x="518.82" y="60.55" font-size="4.3" text-anchor="middle" fill="#222" font-weight="bold">5</text>
<rect x="525.06" y="55.40" width="9.80" height="7.20" fill="#fdf6f1"/>
<text x="421.40" y="69.37" font-size="7.7" text-anchor="end" fill="#111" stroke="#111" stroke-width="0.23">C-1 compound metabolism</text>
<line x1="421.90" y1="67.40" x2="424.30" y2="67.40" stroke="#222" stroke-width="0.9"/>
<rect x="424.80" y="63.80" width="9.80" height="7.20" fill="#f6dcdc"/>
<text x="429.70" y="68.95" font-size="4.3" text-anchor="middle" fill="#222" font-weight="bold">9</text>
<rect x="435.94" y="63.80" width="9.80" height="7.20" fill="#f6dcdc"/>
<text x="440.84" y="68.95" font-size="4.3" text-anchor="middle" fill="#222" font-weight="bold">9</text>
<rect x="447.08" y="63.80" width="9.80" height="7.20" fill="#f7e0dd"/>
<text x="451.98" y="68.95" font-size="4.3" text-anchor="middle" fill="#222" font-weight="bold">8</text>
<rect x="458.22" y="63.80" width="9.80" height="7.20" fill="#f8e3df"/>
<text x="463.12" y="68.95" font-size="4.3" text-anchor="middle" fill="#222" font-weight="bold">7</text>
<rect x="469.36" y="63.80" width="9.80" height="7.20" fill="#f9e7e0"/>
<text x="474.26" y="68.95" font-size="4.3" text-anchor="middle" fill="#222" font-weight="bold">6</text>
<rect x="480.50" y="63.80" width="9.80" height="7.20" fill="#f7e0dd"/>
<text x="485.40" y="68.95" font-size="4.3" text-anchor="middle" fill="#222" font-weight="bold">8</text>
<rect x="491.64" y="63.80" width="9.80" height="7.20" fill="#f7e0dd"/>
<text x="496.54" y="68.95" font-size="4.3" text-anchor="middle" fill="#222" font-weight="bold">8</text>
<rect x="502.78" y="63.80" width="9.80" height="7.20" fill="#fbeee4"/>
<text x="507.68" y="68.95" font-size="4.3" text-anchor="middle" fill="#222" font-weight="bold">3</text>
<rect x="513.92" y="63.80" width="9.80" height="7.20" fill="#faebe1"/>
<text x="518.82" y="68.95" font-size="4.3" text-anchor="middle" fill="#222" font-weight="bold">5</text>
<rect x="525.06" y="63.80" width="9.80" height="7.20" fill="#f7e0dd"/>
<text x="529.96" y="68.95" font-size="4.3" text-anchor="middle" fill="#222" font-weight="bold">8</text>
<text x="421.40" y="77.77" font-size="7.7" text-anchor="end" fill="#111" stroke="#111" stroke-width="0.23">CO2 fixation</text>
<line x1="421.90" y1="75.80" x2="424.30" y2="75.80" stroke="#222" stroke-width="0.9"/>
<rect x="424.80" y="72.20" width="9.80" height="7.20" fill="#f9e7e0"/>
<text x="429.70" y="77.35" font-size="4.3" text-anchor="middle" fill="#222" font-weight="bold">6</text>
<rect x="435.94" y="72.20" width="9.80" height="7.20" fill="#f8e3df"/>
<text x="440.84" y="77.35" font-size="4.3" text-anchor="middle" fill="#222" font-weight="bold">7</text>
<rect x="447.08" y="72.20" width="9.80" height="7.20" fill="#f9e7e0"/>
<text x="451.98" y="77.35" font-size="4.3" text-anchor="middle" fill="#222" font-weight="bold">6</text>
<rect x="458.22" y="72.20" width="9.80" height="7.20" fill="#f8e3df"/>
<text x="463.12" y="77.35" font-size="4.3" text-anchor="middle" fill="#222" font-weight="bold">7</text>
<rect x="469.36" y="72.20" width="9.80" height="7.20" fill="#fdf6f1"/>
<rect x="480.50" y="72.20" width="9.80" height="7.20" fill="#fcf2e8"/>
<text x="485.40" y="77.35" font-size="4.3" text-anchor="middle" fill="#222" font-weight="bold">1</text>
<rect x="491.64" y="72.20" width="9.80" height="7.20" fill="#fcf2e8"/>
<text x="496.54" y="77.35" font-size="4.3" text-anchor="middle" fill="#222" font-weight="bold">1</text>
<rect x="502.78" y="72.20" width="9.80" height="7.20" fill="#fdf6f1"/>
<rect x="513.92" y="72.20" width="9.80" height="7.20" fill="#f8e3df"/>
<text x="518.82" y="77.35" font-size="4.3" text-anchor="middle" fill="#222" font-weight="bold">7</text>
<rect x="525.06" y="72.20" width="9.80" height="7.20" fill="#fcf2e8"/>
<text x="529.96" y="77.35" font-size="4.3" text-anchor="middle" fill="#222" font-weight="bold">1</text>
<text x="421.40" y="86.17" font-size="7.7" text-anchor="end" fill="#111" stroke="#111" stroke-width="0.23">Carboxylic acids</text>
<line x1="421.90" y1="84.20" x2="424.30" y2="84.20" stroke="#222" stroke-width="0.9"/>
<rect x="424.80" y="80.60" width="9.80" height="7.20" fill="#f7e0dd"/>
<text x="429.70" y="85.75" font-size="4.3" text-anchor="middle" fill="#222" font-weight="bold">8</text>
<rect x="435.94" y="80.60" width="9.80" height="7.20" fill="#f7e0dd"/>
<text x="440.84" y="85.75" font-size="4.3" text-anchor="middle" fill="#222" font-weight="bold">8</text>
<rect x="447.08" y="80.60" width="9.80" height="7.20" fill="#f7e0dd"/>
<text x="451.98" y="85.75" font-size="4.3" text-anchor="middle" fill="#222" font-weight="bold">8</text>
<rect x="458.22" y="80.60" width="9.80" height="7.20" fill="#f4d4d9"/>
<text x="463.12" y="85.75" font-size="4.3" text-anchor="middle" fill="#222" font-weight="bold">11</text>
<rect x="469.36" y="80.60" width="9.80" height="7.20" fill="#fcf0e6"/>
<text x="474.26" y="85.75" font-size="4.3" text-anchor="middle" fill="#222" font-weight="bold">2</text>
<rect x="480.50" y="80.60" width="9.80" height="7.20" fill="#fcf0e6"/>
<text x="485.40" y="85.75" font-size="4.3" text-anchor="middle" fill="#222" font-weight="bold">2</text>
<rect x="491.64" y="80.60" width="9.80" height="7.20" fill="#fbeee4"/>
<text x="496.54" y="85.75" font-size="4.3" text-anchor="middle" fill="#222" font-weight="bold">3</text>
<rect x="502.78" y="80.60" width="9.80" height="7.20" fill="#f8e3df"/>
<text x="507.68" y="85.75" font-size="4.3" text-anchor="middle" fill="#222" font-weight="bold">7</text>
<rect x="513.92" y="80.60" width="9.80" height="7.20" fill="#fdf6f1"/>
<rect x="525.06" y="80.60" width="9.80" height="7.20" fill="#fdf6f1"/>
<text x="421.40" y="94.57" font-size="7.7" text-anchor="end" fill="#111" stroke="#111" stroke-width="0.23">Coenzyme A</text>
<line x1="421.90" y1="92.60" x2="424.30" y2="92.60" stroke="#222" stroke-width="0.9"/>
<rect x="424.80" y="89.00" width="9.80" height="7.20" fill="#f8e3df"/>
<text x="429.70" y="94.15" font-size="4.3" text-anchor="middle" fill="#222" font-weight="bold">7</text>
<rect x="435.94" y="89.00" width="9.80" height="7.20" fill="#f7e0dd"/>
<text x="440.84" y="94.15" font-size="4.3" text-anchor="middle" fill="#222" font-weight="bold">8</text>
<rect x="447.08" y="89.00" width="9.80" height="7.20" fill="#f7e0dd"/>
<text x="451.98" y="94.15" font-size="4.3" text-anchor="middle" fill="#222" font-weight="bold">8</text>
<rect x="458.22" y="89.00" width="9.80" height="7.20" fill="#f6dcdc"/>
<text x="463.12" y="94.15" font-size="4.3" text-anchor="middle" fill="#222" font-weight="bold">9</text>
<rect x="469.36" y="89.00" width="9.80" height="7.20" fill="#fbeee4"/>
<text x="474.26" y="94.15" font-size="4.3" text-anchor="middle" fill="#222" font-weight="bold">3</text>
<rect x="480.50" y="89.00" width="9.80" height="7.20" fill="#fbeee4"/>
<text x="485.40" y="94.15" font-size="4.3" text-anchor="middle" fill="#222" font-weight="bold">3</text>
<rect x="491.64" y="89.00" width="9.80" height="7.20" fill="#fbeee4"/>
<text x="496.54" y="94.15" font-size="4.3" text-anchor="middle" fill="#222" font-weight="bold">3</text>
<rect x="502.78" y="89.00" width="9.80" height="7.20" fill="#faede3"/>
<text x="507.68" y="94.15" font-size="4.3" text-anchor="middle" fill="#222" font-weight="bold">4</text>
<rect x="513.92" y="89.00" width="9.80" height="7.20" fill="#faebe1"/>
<text x="518.82" y="94.15" font-size="4.3" text-anchor="middle" fill="#222" font-weight="bold">5</text>
<rect x="525.06" y="89.00" width="9.80" height="7.20" fill="#f8e3df"/>
<text x="529.96" y="94.15" font-size="4.3" text-anchor="middle" fill="#222" font-weight="bold">7</text>
<text x="421.40" y="102.97" font-size="7.7" text-anchor="end" fill="#111" stroke="#111" stroke-width="0.23">Di-oligosaccharides</text>
<line x1="421.90" y1="101.00" x2="424.30" y2="101.00" stroke="#222" stroke-width="0.9"/>
<rect x="424.80" y="97.40" width="9.80" height="7.20" fill="#f5d8db"/>
<text x="429.70" y="102.55" font-size="4.3" text-anchor="middle" fill="#222" font-weight="bold">10</text>
<rect x="435.94" y="97.40" width="9.80" height="7.20" fill="#eec4d1"/>
<text x="440.84" y="102.55" font-size="4.3" text-anchor="middle" fill="#222" font-weight="bold">15</text>
<rect x="447.08" y="97.40" width="9.80" height="7.20" fill="#efc8d3"/>
<text x="451.98" y="102.55" font-size="4.3" text-anchor="middle" fill="#222" font-weight="bold">14</text>
<rect x="458.22" y="97.40" width="9.80" height="7.20" fill="#ecbfcf"/>
<text x="463.12" y="102.55" font-size="4.3" text-anchor="middle" fill="#222" font-weight="bold">16</text>
<rect x="469.36" y="97.40" width="9.80" height="7.20" fill="#f9e7e0"/>
<text x="474.26" y="102.55" font-size="4.3" text-anchor="middle" fill="#222" font-weight="bold">6</text>
<rect x="480.50" y="97.40" width="9.80" height="7.20" fill="#faebe1"/>
<text x="485.40" y="102.55" font-size="4.3" text-anchor="middle" fill="#222" font-weight="bold">5</text>
<rect x="491.64" y="97.40" width="9.80" height="7.20" fill="#f9e7e0"/>
<text x="496.54" y="102.55" font-size="4.3" text-anchor="middle" fill="#222" font-weight="bold">6</text>
<rect x="502.78" y="97.40" width="9.80" height="7.20" fill="#faebe1"/>
<text x="507.68" y="102.55" font-size="4.3" text-anchor="middle" fill="#222" font-weight="bold">5</text>
<rect x="513.92" y="97.40" width="9.80" height="7.20" fill="#f1ccd5"/>
<text x="518.82" y="102.55" font-size="4.3" text-anchor="middle" fill="#222" font-weight="bold">13</text>
<rect x="525.06" y="97.40" width="9.80" height="7.20" fill="#f2d0d7"/>
<text x="529.96" y="102.55" font-size="4.3" text-anchor="middle" fill="#222" font-weight="bold">12</text>
<text x="421.40" y="111.37" font-size="7.7" text-anchor="end" fill="#111" stroke="#111" stroke-width="0.23">Fatty acids</text>
<line x1="421.90" y1="109.40" x2="424.30" y2="109.40" stroke="#222" stroke-width="0.9"/>
<rect x="424.80" y="105.80" width="9.80" height="7.20" fill="#ce71a2"/>
<text x="429.70" y="110.95" font-size="4.3" text-anchor="middle" fill="#222" font-weight="bold">33</text>
<rect x="435.94" y="105.80" width="9.80" height="7.20" fill="#cf75a5"/>
<text x="440.84" y="110.95" font-size="4.3" text-anchor="middle" fill="#222" font-weight="bold">32</text>
<rect x="447.08" y="105.80" width="9.80" height="7.20" fill="#cf75a5"/>
<text x="451.98" y="110.95" font-size="4.3" text-anchor="middle" fill="#222" font-weight="bold">32</text>
<rect x="458.22" y="105.80" width="9.80" height="7.20" fill="#ca689c"/>
<text x="463.12" y="110.95" font-size="4.3" text-anchor="middle" fill="#222" font-weight="bold">35</text>
<rect x="469.36" y="105.80" width="9.80" height="7.20" fill="#e3a7c4"/>
<text x="474.26" y="110.95" font-size="4.3" text-anchor="middle" fill="#222" font-weight="bold">21</text>
<rect x="480.50" y="105.80" width="9.80" height="7.20" fill="#e7b1c8"/>
<text x="485.40" y="110.95" font-size="4.3" text-anchor="middle" fill="#222" font-weight="bold">19</text>
<rect x="491.64" y="105.80" width="9.80" height="7.20" fill="#e7b1c8"/>
<text x="496.54" y="110.95" font-size="4.3" text-anchor="middle" fill="#222" font-weight="bold">19</text>
<rect x="502.78" y="105.80" width="9.80" height="7.20" fill="#de99bc"/>
<text x="507.68" y="110.95" font-size="4.3" text-anchor="middle" fill="#222" font-weight="bold">24</text>
<rect x="513.92" y="105.80" width="9.80" height="7.20" fill="#ce71a2"/>
<text x="518.82" y="110.95" font-size="4.3" text-anchor="middle" fill="#222" font-weight="bold">33</text>
<rect x="525.06" y="105.80" width="9.80" height="7.20" fill="#e7b1c8"/>
<text x="529.96" y="110.95" font-size="4.3" text-anchor="middle" fill="#222" font-weight="bold">19</text>
<text x="421.40" y="119.77" font-size="7.7" text-anchor="end" fill="#111" stroke="#111" stroke-width="0.23">Fe-S clusters</text>
<line x1="421.90" y1="117.80" x2="424.30" y2="117.80" stroke="#222" stroke-width="0.9"/>
<rect x="424.80" y="114.20" width="9.80" height="7.20" fill="#f9e7e0"/>
<text x="429.70" y="119.35" font-size="4.3" text-anchor="middle" fill="#222" font-weight="bold">6</text>
<rect x="435.94" y="114.20" width="9.80" height="7.20" fill="#f9e7e0"/>
<text x="440.84" y="119.35" font-size="4.3" text-anchor="middle" fill="#222" font-weight="bold">6</text>
<rect x="447.08" y="114.20" width="9.80" height="7.20" fill="#f9e7e0"/>
<text x="451.98" y="119.35" font-size="4.3" text-anchor="middle" fill="#222" font-weight="bold">6</text>
<rect x="458.22" y="114.20" width="9.80" height="7.20" fill="#faebe1"/>
<text x="463.12" y="119.35" font-size="4.3" text-anchor="middle" fill="#222" font-weight="bold">5</text>
<rect x="469.36" y="114.20" width="9.80" height="7.20" fill="#faede3"/>
<text x="474.26" y="119.35" font-size="4.3" text-anchor="middle" fill="#222" font-weight="bold">4</text>
<rect x="480.50" y="114.20" width="9.80" height="7.20" fill="#fdf6f1"/>
<rect x="491.64" y="114.20" width="9.80" height="7.20" fill="#fdf6f1"/>
<rect x="502.78" y="114.20" width="9.80" height="7.20" fill="#faebe1"/>
<text x="507.68" y="119.35" font-size="4.3" text-anchor="middle" fill="#222" font-weight="bold">5</text>
<rect x="513.92" y="114.20" width="9.80" height="7.20" fill="#f9e7e0"/>
<text x="518.82" y="119.35" font-size="4.3" text-anchor="middle" fill="#222" font-weight="bold">6</text>
<rect x="525.06" y="114.20" width="9.80" height="7.20" fill="#fdf6f1"/>
<text x="421.40" y="128.17" font-size="7.7" text-anchor="end" fill="#111" stroke="#111" stroke-width="0.23">Folate and pterines</text>
<line x1="421.90" y1="126.20" x2="424.30" y2="126.20" stroke="#222" stroke-width="0.9"/>
<rect x="424.80" y="122.60" width="9.80" height="7.20" fill="#e5acc6"/>
<text x="429.70" y="127.75" font-size="4.3" text-anchor="middle" fill="#222" font-weight="bold">20</text>
<rect x="435.94" y="122.60" width="9.80" height="7.20" fill="#e5acc6"/>
<text x="440.84" y="127.75" font-size="4.3" text-anchor="middle" fill="#222" font-weight="bold">20</text>
<rect x="447.08" y="122.60" width="9.80" height="7.20" fill="#eabacd"/>
<text x="451.98" y="127.75" font-size="4.3" text-anchor="middle" fill="#222" font-weight="bold">17</text>
<rect x="458.22" y="122.60" width="9.80" height="7.20" fill="#e9b6ca"/>
<text x="463.12" y="127.75" font-size="4.3" text-anchor="middle" fill="#222" font-weight="bold">18</text>
<rect x="469.36" y="122.60" width="9.80" height="7.20" fill="#eabacd"/>
<text x="474.26" y="127.75" font-size="4.3" text-anchor="middle" fill="#222" font-weight="bold">17</text>
<rect x="480.50" y="122.60" width="9.80" height="7.20" fill="#fcf0e6"/>
<text x="485.40" y="127.75" font-size="4.3" text-anchor="middle" fill="#222" font-weight="bold">2</text>
<rect x="491.64" y="122.60" width="9.80" height="7.20" fill="#fbeee4"/>
<text x="496.54" y="127.75" font-size="4.3" text-anchor="middle" fill="#222" font-weight="bold">3</text>
<rect x="502.78" y="122.60" width="9.80" height="7.20" fill="#f7e0dd"/>
<text x="507.68" y="127.75" font-size="4.3" text-anchor="middle" fill="#222" font-weight="bold">8</text>
<rect x="513.92" y="122.60" width="9.80" height="7.20" fill="#f1ccd5"/>
<text x="518.82" y="127.75" font-size="4.3" text-anchor="middle" fill="#222" font-weight="bold">13</text>
<rect x="525.06" y="122.60" width="9.80" height="7.20" fill="#efc8d3"/>
<text x="529.96" y="127.75" font-size="4.3" text-anchor="middle" fill="#222" font-weight="bold">14</text>
<text x="421.40" y="136.57" font-size="7.7" text-anchor="end" fill="#111" stroke="#111" stroke-width="0.23">Glutamine, glutamate, aspartate, asparagin</text>
<line x1="421.90" y1="134.60" x2="424.30" y2="134.60" stroke="#222" stroke-width="0.9"/>
<rect x="424.80" y="131.00" width="9.80" height="7.20" fill="#f8e3df"/>
<text x="429.70" y="136.15" font-size="4.3" text-anchor="middle" fill="#222" font-weight="bold">7</text>
<rect x="435.94" y="131.00" width="9.80" height="7.20" fill="#f8e3df"/>
<text x="440.84" y="136.15" font-size="4.3" text-anchor="middle" fill="#222" font-weight="bold">7</text>
<rect x="447.08" y="131.00" width="9.80" height="7.20" fill="#f7e0dd"/>
<text x="451.98" y="136.15" font-size="4.3" text-anchor="middle" fill="#222" font-weight="bold">8</text>
<rect x="458.22" y="131.00" width="9.80" height="7.20" fill="#f4d4d9"/>
<text x="463.12" y="136.15" font-size="4.3" text-anchor="middle" fill="#222" font-weight="bold">11</text>
<rect x="469.36" y="131.00" width="9.80" height="7.20" fill="#faede3"/>
<text x="474.26" y="136.15" font-size="4.3" text-anchor="middle" fill="#222" font-weight="bold">4</text>
<rect x="480.50" y="131.00" width="9.80" height="7.20" fill="#faebe1"/>
<text x="485.40" y="136.15" font-size="4.3" text-anchor="middle" fill="#222" font-weight="bold">5</text>
<rect x="491.64" y="131.00" width="9.80" height="7.20" fill="#faede3"/>
<text x="496.54" y="136.15" font-size="4.3" text-anchor="middle" fill="#222" font-weight="bold">4</text>
<rect x="502.78" y="131.00" width="9.80" height="7.20" fill="#fcf0e6"/>
<text x="507.68" y="136.15" font-size="4.3" text-anchor="middle" fill="#222" font-weight="bold">2</text>
<rect x="513.92" y="131.00" width="9.80" height="7.20" fill="#f8e3df"/>
<text x="518.82" y="136.15" font-size="4.3" text-anchor="middle" fill="#222" font-weight="bold">7</text>
<rect x="525.06" y="131.00" width="9.80" height="7.20" fill="#f6dcdc"/>
<text x="529.96" y="136.15" font-size="4.3" text-anchor="middle" fill="#222" font-weight="bold">9</text>
<text x="421.40" y="144.97" font-size="7.7" text-anchor="end" fill="#111" stroke="#111" stroke-width="0.23">Histidine Metabolism</text>
<line x1="421.90" y1="143.00" x2="424.30" y2="143.00" stroke="#222" stroke-width="0.9"/>
<rect x="424.80" y="139.40" width="9.80" height="7.20" fill="#f5d8db"/>
<text x="429.70" y="144.55" font-size="4.3" text-anchor="middle" fill="#222" font-weight="bold">10</text>
<rect x="435.94" y="139.40" width="9.80" height="7.20" fill="#f6dcdc"/>
<text x="440.84" y="144.55" font-size="4.3" text-anchor="middle" fill="#222" font-weight="bold">9</text>
<rect x="447.08" y="139.40" width="9.80" height="7.20" fill="#f5d8db"/>
<text x="451.98" y="144.55" font-size="4.3" text-anchor="middle" fill="#222" font-weight="bold">10</text>
<rect x="458.22" y="139.40" width="9.80" height="7.20" fill="#f4d4d9"/>
<text x="463.12" y="144.55" font-size="4.3" text-anchor="middle" fill="#222" font-weight="bold">11</text>
<rect x="469.36" y="139.40" width="9.80" height="7.20" fill="#fdf6f1"/>
<rect x="480.50" y="139.40" width="9.80" height="7.20" fill="#fdf6f1"/>
<rect x="491.64" y="139.40" width="9.80" height="7.20" fill="#fdf6f1"/>
<rect x="502.78" y="139.40" width="9.80" height="7.20" fill="#fdf6f1"/>
<rect x="513.92" y="139.40" width="9.80" height="7.20" fill="#faebe1"/>
<text x="518.82" y="144.55" font-size="4.3" text-anchor="middle" fill="#222" font-weight="bold">5</text>
<rect x="525.06" y="139.40" width="9.80" height="7.20" fill="#f7e0dd"/>
<text x="529.96" y="144.55" font-size="4.3" text-anchor="middle" fill="#222" font-weight="bold">8</text>
<text x="421.40" y="153.37" font-size="7.7" text-anchor="end" fill="#111" stroke="#111" stroke-width="0.23">Isoprenoids</text>
<line x1="421.90" y1="151.40" x2="424.30" y2="151.40" stroke="#222" stroke-width="0.9"/>
<rect x="424.80" y="147.80" width="9.80" height="7.20" fill="#f8e3df"/>
<text x="429.70" y="152.95" font-size="4.3" text-anchor="middle" fill="#222" font-weight="bold">7</text>
<rect x="435.94" y="147.80" width="9.80" height="7.20" fill="#f9e7e0"/>
<text x="440.84" y="152.95" font-size="4.3" text-anchor="middle" fill="#222" font-weight="bold">6</text>
<rect x="447.08" y="147.80" width="9.80" height="7.20" fill="#f9e7e0"/>
<text x="451.98" y="152.95" font-size="4.3" text-anchor="middle" fill="#222" font-weight="bold">6</text>
<rect x="458.22" y="147.80" width="9.80" height="7.20" fill="#f9e7e0"/>
<text x="463.12" y="152.95" font-size="4.3" text-anchor="middle" fill="#222" font-weight="bold">6</text>
<rect x="469.36" y="147.80" width="9.80" height="7.20" fill="#faede3"/>
<text x="474.26" y="152.95" font-size="4.3" text-anchor="middle" fill="#222" font-weight="bold">4</text>
<rect x="480.50" y="147.80" width="9.80" height="7.20" fill="#f9e7e0"/>
<text x="485.40" y="152.95" font-size="4.3" text-anchor="middle" fill="#222" font-weight="bold">6</text>
<rect x="491.64" y="147.80" width="9.80" height="7.20" fill="#faede3"/>
<text x="496.54" y="152.95" font-size="4.3" text-anchor="middle" fill="#222" font-weight="bold">4</text>
<rect x="502.78" y="147.80" width="9.80" height="7.20" fill="#f9e7e0"/>
<text x="507.68" y="152.95" font-size="4.3" text-anchor="middle" fill="#222" font-weight="bold">6</text>
<rect x="513.92" y="147.80" width="9.80" height="7.20" fill="#faede3"/>
<text x="518.82" y="152.95" font-size="4.3" text-anchor="middle" fill="#222" font-weight="bold">4</text>
<rect x="525.06" y="147.80" width="9.80" height="7.20" fill="#f9e7e0"/>
<text x="529.96" y="152.95" font-size="4.3" text-anchor="middle" fill="#222" font-weight="bold">6</text>
<text x="421.40" y="161.77" font-size="7.7" text-anchor="end" fill="#111" stroke="#111" stroke-width="0.23">Lipoic acid</text>
<line x1="421.90" y1="159.80" x2="424.30" y2="159.80" stroke="#222" stroke-width="0.9"/>
<rect x="424.80" y="156.20" width="9.80" height="7.20" fill="#f7e0dd"/>
<text x="429.70" y="161.35" font-size="4.3" text-anchor="middle" fill="#222" font-weight="bold">8</text>
<rect x="435.94" y="156.20" width="9.80" height="7.20" fill="#f2d0d7"/>
<text x="440.84" y="161.35" font-size="4.3" text-anchor="middle" fill="#222" font-weight="bold">12</text>
<rect x="447.08" y="156.20" width="9.80" height="7.20" fill="#f6dcdc"/>
<text x="451.98" y="161.35" font-size="4.3" text-anchor="middle" fill="#222" font-weight="bold">9</text>
<rect x="458.22" y="156.20" width="9.80" height="7.20" fill="#f5d8db"/>
<text x="463.12" y="161.35" font-size="4.3" text-anchor="middle" fill="#222" font-weight="bold">10</text>
<rect x="469.36" y="156.20" width="9.80" height="7.20" fill="#f7e0dd"/>
<text x="474.26" y="161.35" font-size="4.3" text-anchor="middle" fill="#222" font-weight="bold">8</text>
<rect x="480.50" y="156.20" width="9.80" height="7.20" fill="#faebe1"/>
<text x="485.40" y="161.35" font-size="4.3" text-anchor="middle" fill="#222" font-weight="bold">5</text>
<rect x="491.64" y="156.20" width="9.80" height="7.20" fill="#faebe1"/>
<text x="496.54" y="161.35" font-size="4.3" text-anchor="middle" fill="#222" font-weight="bold">5</text>
<rect x="502.78" y="156.20" width="9.80" height="7.20" fill="#f9e7e0"/>
<text x="507.68" y="161.35" font-size="4.3" text-anchor="middle" fill="#222" font-weight="bold">6</text>
<rect x="513.92" y="156.20" width="9.80" height="7.20" fill="#f6dcdc"/>
<text x="518.82" y="161.35" font-size="4.3" text-anchor="middle" fill="#222" font-weight="bold">9</text>
<rect x="525.06" y="156.20" width="9.80" height="7.20" fill="#f5d8db"/>
<text x="529.96" y="161.35" font-size="4.3" text-anchor="middle" fill="#222" font-weight="bold">10</text>
<text x="421.40" y="170.17" font-size="7.7" text-anchor="end" fill="#111" stroke="#111" stroke-width="0.23">Lysine, threonine, methionine, and cysteine</text>
<line x1="421.90" y1="168.20" x2="424.30" y2="168.20" stroke="#222" stroke-width="0.9"/>
<rect x="424.80" y="164.60" width="9.80" height="7.20" fill="#c75e96"/>
<text x="429.70" y="169.75" font-size="4.3" text-anchor="middle" fill="#222" font-weight="bold">39</text>
<rect x="435.94" y="164.60" width="9.80" height="7.20" fill="#c75e96"/>
<text x="440.84" y="169.75" font-size="4.3" text-anchor="middle" fill="#222" font-weight="bold">39</text>
<rect x="447.08" y="164.60" width="9.80" height="7.20" fill="#c86097"/>
<text x="451.98" y="169.75" font-size="4.3" text-anchor="middle" fill="#222" font-weight="bold">38</text>
<rect x="458.22" y="164.60" width="9.80" height="7.20" fill="#c14a8a"/>
<text x="463.12" y="169.75" font-size="4.3" text-anchor="middle" fill="#fff" font-weight="bold">47</text>
<rect x="469.36" y="164.60" width="9.80" height="7.20" fill="#e3a7c4"/>
<text x="474.26" y="169.75" font-size="4.3" text-anchor="middle" fill="#222" font-weight="bold">21</text>
<rect x="480.50" y="164.60" width="9.80" height="7.20" fill="#e7b1c8"/>
<text x="485.40" y="169.75" font-size="4.3" text-anchor="middle" fill="#222" font-weight="bold">19</text>
<rect x="491.64" y="164.60" width="9.80" height="7.20" fill="#e7b1c8"/>
<text x="496.54" y="169.75" font-size="4.3" text-anchor="middle" fill="#222" font-weight="bold">19</text>
<rect x="502.78" y="164.60" width="9.80" height="7.20" fill="#e7b1c8"/>
<text x="507.68" y="169.75" font-size="4.3" text-anchor="middle" fill="#222" font-weight="bold">19</text>
<rect x="513.92" y="164.60" width="9.80" height="7.20" fill="#c86097"/>
<text x="518.82" y="169.75" font-size="4.3" text-anchor="middle" fill="#222" font-weight="bold">38</text>
<rect x="525.06" y="164.60" width="9.80" height="7.20" fill="#de99bc"/>
<text x="529.96" y="169.75" font-size="4.3" text-anchor="middle" fill="#222" font-weight="bold">24</text>
<text x="421.40" y="178.57" font-size="7.7" text-anchor="end" fill="#111" stroke="#111" stroke-width="0.23">Metabolism of Aromatic Compounds</text>
<line x1="421.90" y1="176.60" x2="424.30" y2="176.60" stroke="#222" stroke-width="0.9"/>
<rect x="424.80" y="173.00" width="9.80" height="7.20" fill="#f1ccd5"/>
<text x="429.70" y="178.15" font-size="4.3" text-anchor="middle" fill="#222" font-weight="bold">13</text>
<rect x="435.94" y="173.00" width="9.80" height="7.20" fill="#efc8d3"/>
<text x="440.84" y="178.15" font-size="4.3" text-anchor="middle" fill="#222" font-weight="bold">14</text>
<rect x="447.08" y="173.00" width="9.80" height="7.20" fill="#f1ccd5"/>
<text x="451.98" y="178.15" font-size="4.3" text-anchor="middle" fill="#222" font-weight="bold">13</text>
<rect x="458.22" y="173.00" width="9.80" height="7.20" fill="#ca689c"/>
<text x="463.12" y="178.15" font-size="4.3" text-anchor="middle" fill="#222" font-weight="bold">35</text>
<rect x="469.36" y="173.00" width="9.80" height="7.20" fill="#fdf6f1"/>
<rect x="480.50" y="173.00" width="9.80" height="7.20" fill="#fdf6f1"/>
<rect x="491.64" y="173.00" width="9.80" height="7.20" fill="#fdf6f1"/>
<rect x="502.78" y="173.00" width="9.80" height="7.20" fill="#fdf6f1"/>
<rect x="513.92" y="173.00" width="9.80" height="7.20" fill="#f7e0dd"/>
<text x="518.82" y="178.15" font-size="4.3" text-anchor="middle" fill="#222" font-weight="bold">8</text>
<rect x="525.06" y="173.00" width="9.80" height="7.20" fill="#fdf6f1"/>
<text x="421.40" y="186.97" font-size="7.7" text-anchor="end" fill="#111" stroke="#111" stroke-width="0.23">Monosaccharides</text>
<line x1="421.90" y1="185.00" x2="424.30" y2="185.00" stroke="#222" stroke-width="0.9"/>
<rect x="424.80" y="181.40" width="9.80" height="7.20" fill="#ecbfcf"/>
<text x="429.70" y="186.55" font-size="4.3" text-anchor="middle" fill="#222" font-weight="bold">16</text>
<rect x="435.94" y="181.40" width="9.80" height="7.20" fill="#dc94ba"/>
<text x="440.84" y="186.55" font-size="4.3" text-anchor="middle" fill="#222" font-weight="bold">25</text>
<rect x="447.08" y="181.40" width="9.80" height="7.20" fill="#efc8d3"/>
<text x="451.98" y="186.55" font-size="4.3" text-anchor="middle" fill="#222" font-weight="bold">14</text>
<rect x="458.22" y="181.40" width="9.80" height="7.20" fill="#d582ae"/>
<text x="463.12" y="186.55" font-size="4.3" text-anchor="middle" fill="#222" font-weight="bold">29</text>
<rect x="469.36" y="181.40" width="9.80" height="7.20" fill="#f9e7e0"/>
<text x="474.26" y="186.55" font-size="4.3" text-anchor="middle" fill="#222" font-weight="bold">6</text>
<rect x="480.50" y="181.40" width="9.80" height="7.20" fill="#faede3"/>
<text x="485.40" y="186.55" font-size="4.3" text-anchor="middle" fill="#222" font-weight="bold">4</text>
<rect x="491.64" y="181.40" width="9.80" height="7.20" fill="#faebe1"/>
<text x="496.54" y="186.55" font-size="4.3" text-anchor="middle" fill="#222" font-weight="bold">5</text>
<rect x="502.78" y="181.40" width="9.80" height="7.20" fill="#fcf0e6"/>
<text x="507.68" y="186.55" font-size="4.3" text-anchor="middle" fill="#222" font-weight="bold">2</text>
<rect x="513.92" y="181.40" width="9.80" height="7.20" fill="#c9659a"/>
<text x="518.82" y="186.55" font-size="4.3" text-anchor="middle" fill="#222" font-weight="bold">36</text>
<rect x="525.06" y="181.40" width="9.80" height="7.20" fill="#e1a2c1"/>
<text x="529.96" y="186.55" font-size="4.3" text-anchor="middle" fill="#222" font-weight="bold">22</text>
<text x="421.40" y="195.37" font-size="7.7" text-anchor="end" fill="#111" stroke="#111" stroke-width="0.23">NAD and NADP</text>
<line x1="421.90" y1="193.40" x2="424.30" y2="193.40" stroke="#222" stroke-width="0.9"/>
<rect x="424.80" y="189.80" width="9.80" height="7.20" fill="#f9e7e0"/>
<text x="429.70" y="194.95" font-size="4.3" text-anchor="middle" fill="#222" font-weight="bold">6</text>
<rect x="435.94" y="189.80" width="9.80" height="7.20" fill="#f9e7e0"/>
<text x="440.84" y="194.95" font-size="4.3" text-anchor="middle" fill="#222" font-weight="bold">6</text>
<rect x="447.08" y="189.80" width="9.80" height="7.20" fill="#f9e7e0"/>
<text x="451.98" y="194.95" font-size="4.3" text-anchor="middle" fill="#222" font-weight="bold">6</text>
<rect x="458.22" y="189.80" width="9.80" height="7.20" fill="#f2d0d7"/>
<text x="463.12" y="194.95" font-size="4.3" text-anchor="middle" fill="#222" font-weight="bold">12</text>
<rect x="469.36" y="189.80" width="9.80" height="7.20" fill="#f9e7e0"/>
<text x="474.26" y="194.95" font-size="4.3" text-anchor="middle" fill="#222" font-weight="bold">6</text>
<rect x="480.50" y="189.80" width="9.80" height="7.20" fill="#faede3"/>
<text x="485.40" y="194.95" font-size="4.3" text-anchor="middle" fill="#222" font-weight="bold">4</text>
<rect x="491.64" y="189.80" width="9.80" height="7.20" fill="#faede3"/>
<text x="496.54" y="194.95" font-size="4.3" text-anchor="middle" fill="#222" font-weight="bold">4</text>
<rect x="502.78" y="189.80" width="9.80" height="7.20" fill="#f9e7e0"/>
<text x="507.68" y="194.95" font-size="4.3" text-anchor="middle" fill="#222" font-weight="bold">6</text>
<rect x="513.92" y="189.80" width="9.80" height="7.20" fill="#faebe1"/>
<text x="518.82" y="194.95" font-size="4.3" text-anchor="middle" fill="#222" font-weight="bold">5</text>
<rect x="525.06" y="189.80" width="9.80" height="7.20" fill="#f4d4d9"/>
<text x="529.96" y="194.95" font-size="4.3" text-anchor="middle" fill="#222" font-weight="bold">11</text>
<text x="421.40" y="203.77" font-size="7.7" text-anchor="end" fill="#111" stroke="#111" stroke-width="0.23">Phospholipids</text>
<line x1="421.90" y1="201.80" x2="424.30" y2="201.80" stroke="#222" stroke-width="0.9"/>
<rect x="424.80" y="198.20" width="9.80" height="7.20" fill="#f5d8db"/>
<text x="429.70" y="203.35" font-size="4.3" text-anchor="middle" fill="#222" font-weight="bold">10</text>
<rect x="435.94" y="198.20" width="9.80" height="7.20" fill="#f6dcdc"/>
<text x="440.84" y="203.35" font-size="4.3" text-anchor="middle" fill="#222" font-weight="bold">9</text>
<rect x="447.08" y="198.20" width="9.80" height="7.20" fill="#f5d8db"/>
<text x="451.98" y="203.35" font-size="4.3" text-anchor="middle" fill="#222" font-weight="bold">10</text>
<rect x="458.22" y="198.20" width="9.80" height="7.20" fill="#f5d8db"/>
<text x="463.12" y="203.35" font-size="4.3" text-anchor="middle" fill="#222" font-weight="bold">10</text>
<rect x="469.36" y="198.20" width="9.80" height="7.20" fill="#f5d8db"/>
<text x="474.26" y="203.35" font-size="4.3" text-anchor="middle" fill="#222" font-weight="bold">10</text>
<rect x="480.50" y="198.20" width="9.80" height="7.20" fill="#faede3"/>
<text x="485.40" y="203.35" font-size="4.3" text-anchor="middle" fill="#222" font-weight="bold">4</text>
<rect x="491.64" y="198.20" width="9.80" height="7.20" fill="#f9e7e0"/>
<text x="496.54" y="203.35" font-size="4.3" text-anchor="middle" fill="#222" font-weight="bold">6</text>
<rect x="502.78" y="198.20" width="9.80" height="7.20" fill="#f9e7e0"/>
<text x="507.68" y="203.35" font-size="4.3" text-anchor="middle" fill="#222" font-weight="bold">6</text>
<rect x="513.92" y="198.20" width="9.80" height="7.20" fill="#f6dcdc"/>
<text x="518.82" y="203.35" font-size="4.3" text-anchor="middle" fill="#222" font-weight="bold">9</text>
<rect x="525.06" y="198.20" width="9.80" height="7.20" fill="#f6dcdc"/>
<text x="529.96" y="203.35" font-size="4.3" text-anchor="middle" fill="#222" font-weight="bold">9</text>
<text x="421.40" y="212.17" font-size="7.7" text-anchor="end" fill="#111" stroke="#111" stroke-width="0.23">Phosphonate and phosphinate</text>
<line x1="421.90" y1="210.20" x2="424.30" y2="210.20" stroke="#222" stroke-width="0.9"/>
<rect x="424.80" y="206.60" width="9.80" height="7.20" fill="#fdf6f1"/>
<rect x="435.94" y="206.60" width="9.80" height="7.20" fill="#fdf6f1"/>
<rect x="447.08" y="206.60" width="9.80" height="7.20" fill="#fdf6f1"/>
<rect x="458.22" y="206.60" width="9.80" height="7.20" fill="#fbeee4"/>
<text x="463.12" y="211.75" font-size="4.3" text-anchor="middle" fill="#222" font-weight="bold">3</text>
<rect x="469.36" y="206.60" width="9.80" height="7.20" fill="#fdf6f1"/>
<rect x="480.50" y="206.60" width="9.80" height="7.20" fill="#fdf6f1"/>
<rect x="491.64" y="206.60" width="9.80" height="7.20" fill="#fdf6f1"/>
<rect x="502.78" y="206.60" width="9.80" height="7.20" fill="#fcf0e6"/>
<text x="507.68" y="211.75" font-size="4.3" text-anchor="middle" fill="#222" font-weight="bold">2</text>
<rect x="513.92" y="206.60" width="9.80" height="7.20" fill="#fdf6f1"/>
<rect x="525.06" y="206.60" width="9.80" height="7.20" fill="#fcf0e6"/>
<text x="529.96" y="211.75" font-size="4.3" text-anchor="middle" fill="#222" font-weight="bold">2</text>
<text x="421.40" y="220.57" font-size="7.7" text-anchor="end" fill="#111" stroke="#111" stroke-width="0.23">Polysaccharides</text>
<line x1="421.90" y1="218.60" x2="424.30" y2="218.60" stroke="#222" stroke-width="0.9"/>
<rect x="424.80" y="215.00" width="9.80" height="7.20" fill="#faede3"/>
<text x="429.70" y="220.15" font-size="4.3" text-anchor="middle" fill="#222" font-weight="bold">4</text>
<rect x="435.94" y="215.00" width="9.80" height="7.20" fill="#f8e3df"/>
<text x="440.84" y="220.15" font-size="4.3" text-anchor="middle" fill="#222" font-weight="bold">7</text>
<rect x="447.08" y="215.00" width="9.80" height="7.20" fill="#f9e7e0"/>
<text x="451.98" y="220.15" font-size="4.3" text-anchor="middle" fill="#222" font-weight="bold">6</text>
<rect x="458.22" y="215.00" width="9.80" height="7.20" fill="#f6dcdc"/>
<text x="463.12" y="220.15" font-size="4.3" text-anchor="middle" fill="#222" font-weight="bold">9</text>
<rect x="469.36" y="215.00" width="9.80" height="7.20" fill="#fdf6f1"/>
<rect x="480.50" y="215.00" width="9.80" height="7.20" fill="#faebe1"/>
<text x="485.40" y="220.15" font-size="4.3" text-anchor="middle" fill="#222" font-weight="bold">5</text>
<rect x="491.64" y="215.00" width="9.80" height="7.20" fill="#f9e7e0"/>
<text x="496.54" y="220.15" font-size="4.3" text-anchor="middle" fill="#222" font-weight="bold">6</text>
<rect x="502.78" y="215.00" width="9.80" height="7.20" fill="#fdf6f1"/>
<rect x="513.92" y="215.00" width="9.80" height="7.20" fill="#f7e0dd"/>
<text x="518.82" y="220.15" font-size="4.3" text-anchor="middle" fill="#222" font-weight="bold">8</text>
<rect x="525.06" y="215.00" width="9.80" height="7.20" fill="#fbeee4"/>
<text x="529.96" y="220.15" font-size="4.3" text-anchor="middle" fill="#222" font-weight="bold">3</text>
<text x="421.40" y="228.97" font-size="7.7" text-anchor="end" fill="#111" stroke="#111" stroke-width="0.23">Proline and 4-hydroxyproline</text>
<line x1="421.90" y1="227.00" x2="424.30" y2="227.00" stroke="#222" stroke-width="0.9"/>
<rect x="424.80" y="223.40" width="9.80" height="7.20" fill="#efc8d3"/>
<text x="429.70" y="228.55" font-size="4.3" text-anchor="middle" fill="#222" font-weight="bold">14</text>
<rect x="435.94" y="223.40" width="9.80" height="7.20" fill="#eec4d1"/>
<text x="440.84" y="228.55" font-size="4.3" text-anchor="middle" fill="#222" font-weight="bold">15</text>
<rect x="447.08" y="223.40" width="9.80" height="7.20" fill="#eabacd"/>
<text x="451.98" y="228.55" font-size="4.3" text-anchor="middle" fill="#222" font-weight="bold">17</text>
<rect x="458.22" y="223.40" width="9.80" height="7.20" fill="#e9b6ca"/>
<text x="463.12" y="228.55" font-size="4.3" text-anchor="middle" fill="#222" font-weight="bold">18</text>
<rect x="469.36" y="223.40" width="9.80" height="7.20" fill="#f5d8db"/>
<text x="474.26" y="228.55" font-size="4.3" text-anchor="middle" fill="#222" font-weight="bold">10</text>
<rect x="480.50" y="223.40" width="9.80" height="7.20" fill="#faebe1"/>
<text x="485.40" y="228.55" font-size="4.3" text-anchor="middle" fill="#222" font-weight="bold">5</text>
<rect x="491.64" y="223.40" width="9.80" height="7.20" fill="#f5d8db"/>
<text x="496.54" y="228.55" font-size="4.3" text-anchor="middle" fill="#222" font-weight="bold">10</text>
<rect x="502.78" y="223.40" width="9.80" height="7.20" fill="#f9e7e0"/>
<text x="507.68" y="228.55" font-size="4.3" text-anchor="middle" fill="#222" font-weight="bold">6</text>
<rect x="513.92" y="223.40" width="9.80" height="7.20" fill="#eec4d1"/>
<text x="518.82" y="228.55" font-size="4.3" text-anchor="middle" fill="#222" font-weight="bold">15</text>
<rect x="525.06" y="223.40" width="9.80" height="7.20" fill="#f7e0dd"/>
<text x="529.96" y="228.55" font-size="4.3" text-anchor="middle" fill="#222" font-weight="bold">8</text>
<text x="421.40" y="237.37" font-size="7.7" text-anchor="end" fill="#111" stroke="#111" stroke-width="0.23">Purines</text>
<line x1="421.90" y1="235.40" x2="424.30" y2="235.40" stroke="#222" stroke-width="0.9"/>
<rect x="424.80" y="231.80" width="9.80" height="7.20" fill="#efc8d3"/>
<text x="429.70" y="236.95" font-size="4.3" text-anchor="middle" fill="#222" font-weight="bold">14</text>
<rect x="435.94" y="231.80" width="9.80" height="7.20" fill="#eec4d1"/>
<text x="440.84" y="236.95" font-size="4.3" text-anchor="middle" fill="#222" font-weight="bold">15</text>
<rect x="447.08" y="231.80" width="9.80" height="7.20" fill="#eec4d1"/>
<text x="451.98" y="236.95" font-size="4.3" text-anchor="middle" fill="#222" font-weight="bold">15</text>
<rect x="458.22" y="231.80" width="9.80" height="7.20" fill="#d88bb4"/>
<text x="463.12" y="236.95" font-size="4.3" text-anchor="middle" fill="#222" font-weight="bold">27</text>
<rect x="469.36" y="231.80" width="9.80" height="7.20" fill="#e3a7c4"/>
<text x="474.26" y="236.95" font-size="4.3" text-anchor="middle" fill="#222" font-weight="bold">21</text>
<rect x="480.50" y="231.80" width="9.80" height="7.20" fill="#f1ccd5"/>
<text x="485.40" y="236.95" font-size="4.3" text-anchor="middle" fill="#222" font-weight="bold">13</text>
<rect x="491.64" y="231.80" width="9.80" height="7.20" fill="#f1ccd5"/>
<text x="496.54" y="236.95" font-size="4.3" text-anchor="middle" fill="#222" font-weight="bold">13</text>
<rect x="502.78" y="231.80" width="9.80" height="7.20" fill="#efc8d3"/>
<text x="507.68" y="236.95" font-size="4.3" text-anchor="middle" fill="#222" font-weight="bold">14</text>
<rect x="513.92" y="231.80" width="9.80" height="7.20" fill="#e09ebf"/>
<text x="518.82" y="236.95" font-size="4.3" text-anchor="middle" fill="#222" font-weight="bold">23</text>
<rect x="525.06" y="231.80" width="9.80" height="7.20" fill="#ecbfcf"/>
<text x="529.96" y="236.95" font-size="4.3" text-anchor="middle" fill="#222" font-weight="bold">16</text>
<text x="421.40" y="245.77" font-size="7.7" text-anchor="end" fill="#111" stroke="#111" stroke-width="0.23">Pyridoxine</text>
<line x1="421.90" y1="243.80" x2="424.30" y2="243.80" stroke="#222" stroke-width="0.9"/>
<rect x="424.80" y="240.20" width="9.80" height="7.20" fill="#faede3"/>
<text x="429.70" y="245.35" font-size="4.3" text-anchor="middle" fill="#222" font-weight="bold">4</text>
<rect x="435.94" y="240.20" width="9.80" height="7.20" fill="#f9e7e0"/>
<text x="440.84" y="245.35" font-size="4.3" text-anchor="middle" fill="#222" font-weight="bold">6</text>
<rect x="447.08" y="240.20" width="9.80" height="7.20" fill="#f9e7e0"/>
<text x="451.98" y="245.35" font-size="4.3" text-anchor="middle" fill="#222" font-weight="bold">6</text>
<rect x="458.22" y="240.20" width="9.80" height="7.20" fill="#f9e7e0"/>
<text x="463.12" y="245.35" font-size="4.3" text-anchor="middle" fill="#222" font-weight="bold">6</text>
<rect x="469.36" y="240.20" width="9.80" height="7.20" fill="#fdf6f1"/>
<rect x="480.50" y="240.20" width="9.80" height="7.20" fill="#fdf6f1"/>
<rect x="491.64" y="240.20" width="9.80" height="7.20" fill="#fdf6f1"/>
<rect x="502.78" y="240.20" width="9.80" height="7.20" fill="#fdf6f1"/>
<rect x="513.92" y="240.20" width="9.80" height="7.20" fill="#f9e7e0"/>
<text x="518.82" y="245.35" font-size="4.3" text-anchor="middle" fill="#222" font-weight="bold">6</text>
<rect x="525.06" y="240.20" width="9.80" height="7.20" fill="#faebe1"/>
<text x="529.96" y="245.35" font-size="4.3" text-anchor="middle" fill="#222" font-weight="bold">5</text>
<text x="421.40" y="254.17" font-size="7.7" text-anchor="end" fill="#111" stroke="#111" stroke-width="0.23">Pyrimidines</text>
<line x1="421.90" y1="252.20" x2="424.30" y2="252.20" stroke="#222" stroke-width="0.9"/>
<rect x="424.80" y="248.60" width="9.80" height="7.20" fill="#faebe1"/>
<text x="429.70" y="253.75" font-size="4.3" text-anchor="middle" fill="#222" font-weight="bold">5</text>
<rect x="435.94" y="248.60" width="9.80" height="7.20" fill="#f9e7e0"/>
<text x="440.84" y="253.75" font-size="4.3" text-anchor="middle" fill="#222" font-weight="bold">6</text>
<rect x="447.08" y="248.60" width="9.80" height="7.20" fill="#f9e7e0"/>
<text x="451.98" y="253.75" font-size="4.3" text-anchor="middle" fill="#222" font-weight="bold">6</text>
<rect x="458.22" y="248.60" width="9.80" height="7.20" fill="#f9e7e0"/>
<text x="463.12" y="253.75" font-size="4.3" text-anchor="middle" fill="#222" font-weight="bold">6</text>
<rect x="469.36" y="248.60" width="9.80" height="7.20" fill="#f9e7e0"/>
<text x="474.26" y="253.75" font-size="4.3" text-anchor="middle" fill="#222" font-weight="bold">6</text>
<rect x="480.50" y="248.60" width="9.80" height="7.20" fill="#faebe1"/>
<text x="485.40" y="253.75" font-size="4.3" text-anchor="middle" fill="#222" font-weight="bold">5</text>
<rect x="491.64" y="248.60" width="9.80" height="7.20" fill="#faebe1"/>
<text x="496.54" y="253.75" font-size="4.3" text-anchor="middle" fill="#222" font-weight="bold">5</text>
<rect x="502.78" y="248.60" width="9.80" height="7.20" fill="#faebe1"/>
<text x="507.68" y="253.75" font-size="4.3" text-anchor="middle" fill="#222" font-weight="bold">5</text>
<rect x="513.92" y="248.60" width="9.80" height="7.20" fill="#faede3"/>
<text x="518.82" y="253.75" font-size="4.3" text-anchor="middle" fill="#222" font-weight="bold">4</text>
<rect x="525.06" y="248.60" width="9.80" height="7.20" fill="#faebe1"/>
<text x="529.96" y="253.75" font-size="4.3" text-anchor="middle" fill="#222" font-weight="bold">5</text>
<text x="421.40" y="262.57" font-size="7.7" text-anchor="end" fill="#111" stroke="#111" stroke-width="0.23">Quinone cofactors</text>
<line x1="421.90" y1="260.60" x2="424.30" y2="260.60" stroke="#222" stroke-width="0.9"/>
<rect x="424.80" y="257.00" width="9.80" height="7.20" fill="#f2d0d7"/>
<text x="429.70" y="262.15" font-size="4.3" text-anchor="middle" fill="#222" font-weight="bold">12</text>
<rect x="435.94" y="257.00" width="9.80" height="7.20" fill="#eec4d1"/>
<text x="440.84" y="262.15" font-size="4.3" text-anchor="middle" fill="#222" font-weight="bold">15</text>
<rect x="447.08" y="257.00" width="9.80" height="7.20" fill="#eec4d1"/>
<text x="451.98" y="262.15" font-size="4.3" text-anchor="middle" fill="#222" font-weight="bold">15</text>
<rect x="458.22" y="257.00" width="9.80" height="7.20" fill="#f2d0d7"/>
<text x="463.12" y="262.15" font-size="4.3" text-anchor="middle" fill="#222" font-weight="bold">12</text>
<rect x="469.36" y="257.00" width="9.80" height="7.20" fill="#f9e7e0"/>
<text x="474.26" y="262.15" font-size="4.3" text-anchor="middle" fill="#222" font-weight="bold">6</text>
<rect x="480.50" y="257.00" width="9.80" height="7.20" fill="#fdf6f1"/>
<rect x="491.64" y="257.00" width="9.80" height="7.20" fill="#fdf6f1"/>
<rect x="502.78" y="257.00" width="9.80" height="7.20" fill="#fdf6f1"/>
<rect x="513.92" y="257.00" width="9.80" height="7.20" fill="#f7e0dd"/>
<text x="518.82" y="262.15" font-size="4.3" text-anchor="middle" fill="#222" font-weight="bold">8</text>
<rect x="525.06" y="257.00" width="9.80" height="7.20" fill="#faede3"/>
<text x="529.96" y="262.15" font-size="4.3" text-anchor="middle" fill="#222" font-weight="bold">4</text>
<text x="421.40" y="270.97" font-size="7.7" text-anchor="end" fill="#111" stroke="#111" stroke-width="0.23">Riboflavin, FMN, FAD</text>
<line x1="421.90" y1="269.00" x2="424.30" y2="269.00" stroke="#222" stroke-width="0.9"/>
<rect x="424.80" y="265.40" width="9.80" height="7.20" fill="#faede3"/>
<text x="429.70" y="270.55" font-size="4.3" text-anchor="middle" fill="#222" font-weight="bold">4</text>
<rect x="435.94" y="265.40" width="9.80" height="7.20" fill="#f9e7e0"/>
<text x="440.84" y="270.55" font-size="4.3" text-anchor="middle" fill="#222" font-weight="bold">6</text>
<rect x="447.08" y="265.40" width="9.80" height="7.20" fill="#faede3"/>
<text x="451.98" y="270.55" font-size="4.3" text-anchor="middle" fill="#222" font-weight="bold">4</text>
<rect x="458.22" y="265.40" width="9.80" height="7.20" fill="#faebe1"/>
<text x="463.12" y="270.55" font-size="4.3" text-anchor="middle" fill="#222" font-weight="bold">5</text>
<rect x="469.36" y="265.40" width="9.80" height="7.20" fill="#faede3"/>
<text x="474.26" y="270.55" font-size="4.3" text-anchor="middle" fill="#222" font-weight="bold">4</text>
<rect x="480.50" y="265.40" width="9.80" height="7.20" fill="#faede3"/>
<text x="485.40" y="270.55" font-size="4.3" text-anchor="middle" fill="#222" font-weight="bold">4</text>
<rect x="491.64" y="265.40" width="9.80" height="7.20" fill="#faede3"/>
<text x="496.54" y="270.55" font-size="4.3" text-anchor="middle" fill="#222" font-weight="bold">4</text>
<rect x="502.78" y="265.40" width="9.80" height="7.20" fill="#faede3"/>
<text x="507.68" y="270.55" font-size="4.3" text-anchor="middle" fill="#222" font-weight="bold">4</text>
<rect x="513.92" y="265.40" width="9.80" height="7.20" fill="#f9e7e0"/>
<text x="518.82" y="270.55" font-size="4.3" text-anchor="middle" fill="#222" font-weight="bold">6</text>
<rect x="525.06" y="265.40" width="9.80" height="7.20" fill="#f9e7e0"/>
<text x="529.96" y="270.55" font-size="4.3" text-anchor="middle" fill="#222" font-weight="bold">6</text>
<text x="421.40" y="279.37" font-size="7.7" text-anchor="end" fill="#111" stroke="#111" stroke-width="0.23">Ribosomally synthesiz PTM peptides</text>
<line x1="421.90" y1="277.40" x2="424.30" y2="277.40" stroke="#222" stroke-width="0.9"/>
<rect x="424.80" y="273.80" width="9.80" height="7.20" fill="#f9e7e0"/>
<text x="429.70" y="278.95" font-size="4.3" text-anchor="middle" fill="#222" font-weight="bold">6</text>
<rect x="435.94" y="273.80" width="9.80" height="7.20" fill="#f9e7e0"/>
<text x="440.84" y="278.95" font-size="4.3" text-anchor="middle" fill="#222" font-weight="bold">6</text>
<rect x="447.08" y="273.80" width="9.80" height="7.20" fill="#f9e7e0"/>
<text x="451.98" y="278.95" font-size="4.3" text-anchor="middle" fill="#222" font-weight="bold">6</text>
<rect x="458.22" y="273.80" width="9.80" height="7.20" fill="#f8e3df"/>
<text x="463.12" y="278.95" font-size="4.3" text-anchor="middle" fill="#222" font-weight="bold">7</text>
<rect x="469.36" y="273.80" width="9.80" height="7.20" fill="#fdf6f1"/>
<rect x="480.50" y="273.80" width="9.80" height="7.20" fill="#faede3"/>
<text x="485.40" y="278.95" font-size="4.3" text-anchor="middle" fill="#222" font-weight="bold">4</text>
<rect x="491.64" y="273.80" width="9.80" height="7.20" fill="#faede3"/>
<text x="496.54" y="278.95" font-size="4.3" text-anchor="middle" fill="#222" font-weight="bold">4</text>
<rect x="502.78" y="273.80" width="9.80" height="7.20" fill="#fdf6f1"/>
<rect x="513.92" y="273.80" width="9.80" height="7.20" fill="#f1ccd5"/>
<text x="518.82" y="278.95" font-size="4.3" text-anchor="middle" fill="#222" font-weight="bold">13</text>
<rect x="525.06" y="273.80" width="9.80" height="7.20" fill="#f9e7e0"/>
<text x="529.96" y="278.95" font-size="4.3" text-anchor="middle" fill="#222" font-weight="bold">6</text>
<text x="421.40" y="287.77" font-size="7.7" text-anchor="end" fill="#111" stroke="#111" stroke-width="0.23">Siderophores</text>
<line x1="421.90" y1="285.80" x2="424.30" y2="285.80" stroke="#222" stroke-width="0.9"/>
<rect x="424.80" y="282.20" width="9.80" height="7.20" fill="#f2d0d7"/>
<text x="429.70" y="287.35" font-size="4.3" text-anchor="middle" fill="#222" font-weight="bold">12</text>
<rect x="435.94" y="282.20" width="9.80" height="7.20" fill="#eabacd"/>
<text x="440.84" y="287.35" font-size="4.3" text-anchor="middle" fill="#222" font-weight="bold">17</text>
<rect x="447.08" y="282.20" width="9.80" height="7.20" fill="#ecbfcf"/>
<text x="451.98" y="287.35" font-size="4.3" text-anchor="middle" fill="#222" font-weight="bold">16</text>
<rect x="458.22" y="282.20" width="9.80" height="7.20" fill="#f1ccd5"/>
<text x="463.12" y="287.35" font-size="4.3" text-anchor="middle" fill="#222" font-weight="bold">13</text>
<rect x="469.36" y="282.20" width="9.80" height="7.20" fill="#fbeee4"/>
<text x="474.26" y="287.35" font-size="4.3" text-anchor="middle" fill="#222" font-weight="bold">3</text>
<rect x="480.50" y="282.20" width="9.80" height="7.20" fill="#fdf6f1"/>
<rect x="491.64" y="282.20" width="9.80" height="7.20" fill="#fdf6f1"/>
<rect x="502.78" y="282.20" width="9.80" height="7.20" fill="#fdf6f1"/>
<rect x="513.92" y="282.20" width="9.80" height="7.20" fill="#f7e0dd"/>
<text x="518.82" y="287.35" font-size="4.3" text-anchor="middle" fill="#222" font-weight="bold">8</text>
<rect x="525.06" y="282.20" width="9.80" height="7.20" fill="#fdf6f1"/>
<text x="421.40" y="296.17" font-size="7.7" text-anchor="end" fill="#111" stroke="#111" stroke-width="0.23">Sphingolipids</text>
<line x1="421.90" y1="294.20" x2="424.30" y2="294.20" stroke="#222" stroke-width="0.9"/>
<rect x="424.80" y="290.60" width="9.80" height="7.20" fill="#fdf6f1"/>
<rect x="435.94" y="290.60" width="9.80" height="7.20" fill="#fdf6f1"/>
<rect x="447.08" y="290.60" width="9.80" height="7.20" fill="#fdf6f1"/>
<rect x="458.22" y="290.60" width="9.80" height="7.20" fill="#fdf6f1"/>
<rect x="469.36" y="290.60" width="9.80" height="7.20" fill="#fdf6f1"/>
<rect x="480.50" y="290.60" width="9.80" height="7.20" fill="#fdf6f1"/>
<rect x="491.64" y="290.60" width="9.80" height="7.20" fill="#fdf6f1"/>
<rect x="502.78" y="290.60" width="9.80" height="7.20" fill="#fdf6f1"/>
<rect x="513.92" y="290.60" width="9.80" height="7.20" fill="#fcf2e8"/>
<text x="518.82" y="295.75" font-size="4.3" text-anchor="middle" fill="#222" font-weight="bold">1</text>
<rect x="525.06" y="290.60" width="9.80" height="7.20" fill="#fcf0e6"/>
<text x="529.96" y="295.75" font-size="4.3" text-anchor="middle" fill="#222" font-weight="bold">2</text>
<text x="421.40" y="304.57" font-size="7.7" text-anchor="end" fill="#111" stroke="#111" stroke-width="0.23">Sugar acids</text>
<line x1="421.90" y1="302.60" x2="424.30" y2="302.60" stroke="#222" stroke-width="0.9"/>
<rect x="424.80" y="299.00" width="9.80" height="7.20" fill="#fcf0e6"/>
<text x="429.70" y="304.15" font-size="4.3" text-anchor="middle" fill="#222" font-weight="bold">2</text>
<rect x="435.94" y="299.00" width="9.80" height="7.20" fill="#fbeee4"/>
<text x="440.84" y="304.15" font-size="4.3" text-anchor="middle" fill="#222" font-weight="bold">3</text>
<rect x="447.08" y="299.00" width="9.80" height="7.20" fill="#fbeee4"/>
<text x="451.98" y="304.15" font-size="4.3" text-anchor="middle" fill="#222" font-weight="bold">3</text>
<rect x="458.22" y="299.00" width="9.80" height="7.20" fill="#f4d4d9"/>
<text x="463.12" y="304.15" font-size="4.3" text-anchor="middle" fill="#222" font-weight="bold">11</text>
<rect x="469.36" y="299.00" width="9.80" height="7.20" fill="#fdf6f1"/>
<rect x="480.50" y="299.00" width="9.80" height="7.20" fill="#fdf6f1"/>
<rect x="491.64" y="299.00" width="9.80" height="7.20" fill="#fdf6f1"/>
<rect x="502.78" y="299.00" width="9.80" height="7.20" fill="#fdf6f1"/>
<rect x="513.92" y="299.00" width="9.80" height="7.20" fill="#f1ccd5"/>
<text x="518.82" y="304.15" font-size="4.3" text-anchor="middle" fill="#222" font-weight="bold">13</text>
<rect x="525.06" y="299.00" width="9.80" height="7.20" fill="#fdf6f1"/>
<text x="421.40" y="312.97" font-size="7.7" text-anchor="end" fill="#111" stroke="#111" stroke-width="0.23">Sugar alcohols</text>
<line x1="421.90" y1="311.00" x2="424.30" y2="311.00" stroke="#222" stroke-width="0.9"/>
<rect x="424.80" y="307.40" width="9.80" height="7.20" fill="#f9e7e0"/>
<text x="429.70" y="312.55" font-size="4.3" text-anchor="middle" fill="#222" font-weight="bold">6</text>
<rect x="435.94" y="307.40" width="9.80" height="7.20" fill="#f6dcdc"/>
<text x="440.84" y="312.55" font-size="4.3" text-anchor="middle" fill="#222" font-weight="bold">9</text>
<rect x="447.08" y="307.40" width="9.80" height="7.20" fill="#f7e0dd"/>
<text x="451.98" y="312.55" font-size="4.3" text-anchor="middle" fill="#222" font-weight="bold">8</text>
<rect x="458.22" y="307.40" width="9.80" height="7.20" fill="#d787b1"/>
<text x="463.12" y="312.55" font-size="4.3" text-anchor="middle" fill="#222" font-weight="bold">28</text>
<rect x="469.36" y="307.40" width="9.80" height="7.20" fill="#f5d8db"/>
<text x="474.26" y="312.55" font-size="4.3" text-anchor="middle" fill="#222" font-weight="bold">10</text>
<rect x="480.50" y="307.40" width="9.80" height="7.20" fill="#fdf6f1"/>
<rect x="491.64" y="307.40" width="9.80" height="7.20" fill="#fdf6f1"/>
<rect x="502.78" y="307.40" width="9.80" height="7.20" fill="#fdf6f1"/>
<rect x="513.92" y="307.40" width="9.80" height="7.20" fill="#f7e0dd"/>
<text x="518.82" y="312.55" font-size="4.3" text-anchor="middle" fill="#222" font-weight="bold">8</text>
<rect x="525.06" y="307.40" width="9.80" height="7.20" fill="#fdf6f1"/>
<text x="421.40" y="321.37" font-size="7.7" text-anchor="end" fill="#111" stroke="#111" stroke-width="0.23">Tetrapyrroles</text>
<line x1="421.90" y1="319.40" x2="424.30" y2="319.40" stroke="#222" stroke-width="0.9"/>
<rect x="424.80" y="315.80" width="9.80" height="7.20" fill="#f1ccd5"/>
<text x="429.70" y="320.95" font-size="4.3" text-anchor="middle" fill="#222" font-weight="bold">13</text>
<rect x="435.94" y="315.80" width="9.80" height="7.20" fill="#f1ccd5"/>
<text x="440.84" y="320.95" font-size="4.3" text-anchor="middle" fill="#222" font-weight="bold">13</text>
<rect x="447.08" y="315.80" width="9.80" height="7.20" fill="#f1ccd5"/>
<text x="451.98" y="320.95" font-size="4.3" text-anchor="middle" fill="#222" font-weight="bold">13</text>
<rect x="458.22" y="315.80" width="9.80" height="7.20" fill="#d17aa8"/>
<text x="463.12" y="320.95" font-size="4.3" text-anchor="middle" fill="#222" font-weight="bold">31</text>
<rect x="469.36" y="315.80" width="9.80" height="7.20" fill="#fbeee4"/>
<text x="474.26" y="320.95" font-size="4.3" text-anchor="middle" fill="#222" font-weight="bold">3</text>
<rect x="480.50" y="315.80" width="9.80" height="7.20" fill="#fdf6f1"/>
<rect x="491.64" y="315.80" width="9.80" height="7.20" fill="#fdf6f1"/>
<rect x="502.78" y="315.80" width="9.80" height="7.20" fill="#fdf6f1"/>
<rect x="513.92" y="315.80" width="9.80" height="7.20" fill="#e7b1c8"/>
<text x="518.82" y="320.95" font-size="4.3" text-anchor="middle" fill="#222" font-weight="bold">19</text>
<rect x="525.06" y="315.80" width="9.80" height="7.20" fill="#ecbfcf"/>
<text x="529.96" y="320.95" font-size="4.3" text-anchor="middle" fill="#222" font-weight="bold">16</text>
<text x="421.40" y="329.77" font-size="7.7" text-anchor="end" fill="#111" stroke="#111" stroke-width="0.23">Thiamin</text>
<line x1="421.90" y1="327.80" x2="424.30" y2="327.80" stroke="#222" stroke-width="0.9"/>
<rect x="424.80" y="324.20" width="9.80" height="7.20" fill="#faede3"/>
<text x="429.70" y="329.35" font-size="4.3" text-anchor="middle" fill="#222" font-weight="bold">4</text>
<rect x="435.94" y="324.20" width="9.80" height="7.20" fill="#f9e7e0"/>
<text x="440.84" y="329.35" font-size="4.3" text-anchor="middle" fill="#222" font-weight="bold">6</text>
<rect x="447.08" y="324.20" width="9.80" height="7.20" fill="#f9e7e0"/>
<text x="451.98" y="329.35" font-size="4.3" text-anchor="middle" fill="#222" font-weight="bold">6</text>
<rect x="458.22" y="324.20" width="9.80" height="7.20" fill="#faede3"/>
<text x="463.12" y="329.35" font-size="4.3" text-anchor="middle" fill="#222" font-weight="bold">4</text>
<rect x="469.36" y="324.20" width="9.80" height="7.20" fill="#f8e3df"/>
<text x="474.26" y="329.35" font-size="4.3" text-anchor="middle" fill="#222" font-weight="bold">7</text>
<rect x="480.50" y="324.20" width="9.80" height="7.20" fill="#f8e3df"/>
<text x="485.40" y="329.35" font-size="4.3" text-anchor="middle" fill="#222" font-weight="bold">7</text>
<rect x="491.64" y="324.20" width="9.80" height="7.20" fill="#f8e3df"/>
<text x="496.54" y="329.35" font-size="4.3" text-anchor="middle" fill="#222" font-weight="bold">7</text>
<rect x="502.78" y="324.20" width="9.80" height="7.20" fill="#faede3"/>
<text x="507.68" y="329.35" font-size="4.3" text-anchor="middle" fill="#222" font-weight="bold">4</text>
<rect x="513.92" y="324.20" width="9.80" height="7.20" fill="#faede3"/>
<text x="518.82" y="329.35" font-size="4.3" text-anchor="middle" fill="#222" font-weight="bold">4</text>
<rect x="525.06" y="324.20" width="9.80" height="7.20" fill="#f9e7e0"/>
<text x="529.96" y="329.35" font-size="4.3" text-anchor="middle" fill="#222" font-weight="bold">6</text>
<line x1="429.70" y1="332.10" x2="429.70" y2="334.40" stroke="#222" stroke-width="0.9"/>
<text transform="translate(429.70,335.10) rotate(-90)" x="0" y="2.52" font-size="7.0" text-anchor="end" fill="#222" stroke="#222" stroke-width="0.21">E. cloacae (H2)</text>
<line x1="440.84" y1="332.10" x2="440.84" y2="334.40" stroke="#222" stroke-width="0.9"/>
<text transform="translate(440.84,335.10) rotate(-90)" x="0" y="2.52" font-size="7.0" text-anchor="end" fill="#222" stroke="#222" stroke-width="0.21">E. cloacae (C2)</text>
<line x1="451.98" y1="332.10" x2="451.98" y2="334.40" stroke="#222" stroke-width="0.9"/>
<text transform="translate(451.98,335.10) rotate(-90)" x="0" y="2.52" font-size="7.0" text-anchor="end" fill="#222" stroke="#222" stroke-width="0.21">E. cloacae (L2)</text>
<line x1="463.12" y1="332.10" x2="463.12" y2="334.40" stroke="#222" stroke-width="0.9"/>
<text transform="translate(463.12,335.10) rotate(-90)" x="0" y="2.52" font-size="7.0" text-anchor="end" fill="#222" stroke="#222" stroke-width="0.21">K. oxytoca (H1)</text>
<line x1="474.26" y1="332.10" x2="474.26" y2="334.40" stroke="#222" stroke-width="0.9"/>
<text transform="translate(474.26,335.10) rotate(-90)" x="0" y="2.52" font-size="7.0" text-anchor="end" fill="#222" stroke="#222" stroke-width="0.21">E. faecalis (L2)</text>
<line x1="485.40" y1="332.10" x2="485.40" y2="334.40" stroke="#222" stroke-width="0.9"/>
<text transform="translate(485.40,335.10) rotate(-90)" x="0" y="2.52" font-size="7.0" text-anchor="end" fill="#222" stroke="#222" stroke-width="0.21">S. anginosus (H2)</text>
<line x1="496.54" y1="332.10" x2="496.54" y2="334.40" stroke="#222" stroke-width="0.9"/>
<text transform="translate(496.54,335.10) rotate(-90)" x="0" y="2.52" font-size="7.0" text-anchor="end" fill="#222" stroke="#222" stroke-width="0.21">S. anginosus (C2)</text>
<line x1="507.68" y1="332.10" x2="507.68" y2="334.40" stroke="#222" stroke-width="0.9"/>
<text transform="translate(507.68,335.10) rotate(-90)" x="0" y="2.52" font-size="7.0" text-anchor="end" fill="#222" stroke="#222" stroke-width="0.21">E. faecium (H2)</text>
<line x1="518.82" y1="332.10" x2="518.82" y2="334.40" stroke="#222" stroke-width="0.9"/>
<text transform="translate(518.82,335.10) rotate(-90)" x="0" y="2.52" font-size="7.0" text-anchor="end" fill="#222" stroke="#222" stroke-width="0.21">E. coli (MG1655)</text>
<line x1="529.96" y1="332.10" x2="529.96" y2="334.40" stroke="#222" stroke-width="0.9"/>
<text transform="translate(529.96,335.10) rotate(-90)" x="0" y="2.52" font-size="7.0" text-anchor="end" fill="#222" stroke="#222" stroke-width="0.21">B. ovatis</text>
<defs><linearGradient id="gB" x1="0" y1="0" x2="0" y2="1">
<stop offset="0.000" stop-color="#faebe1"/>
<stop offset="0.075" stop-color="#f5d8db"/>
<stop offset="0.149" stop-color="#eec4d1"/>
<stop offset="0.224" stop-color="#e5acc6"/>
<stop offset="0.299" stop-color="#dc94ba"/>
<stop offset="0.448" stop-color="#ca689c"/>
<stop offset="0.597" stop-color="#c24e8c"/>
<stop offset="0.791" stop-color="#bc347c"/>
<stop offset="1.000" stop-color="#b4226c"/>
</linearGradient></defs>
<rect x="540.50" y="118.00" width="8.00" height="115.00" fill="url(#gB)"/>
<text x="554.50" y="126.16" font-size="6" text-anchor="start" fill="#333" stroke="#333" stroke-width="0.18">5</text>
<text x="554.50" y="142.61" font-size="6" text-anchor="start" fill="#333" stroke="#333" stroke-width="0.18">15</text>
<text x="554.50" y="159.06" font-size="6" text-anchor="start" fill="#333" stroke="#333" stroke-width="0.18">25</text>
<text x="554.50" y="175.51" font-size="6" text-anchor="start" fill="#333" stroke="#333" stroke-width="0.18">35</text>
<text x="554.50" y="191.96" font-size="6" text-anchor="start" fill="#333" stroke="#333" stroke-width="0.18">45</text>
<text x="554.50" y="208.41" font-size="6" text-anchor="start" fill="#333" stroke="#333" stroke-width="0.18">55</text>
<text x="554.50" y="224.86" font-size="6" text-anchor="start" fill="#333" stroke="#333" stroke-width="0.18">65</text>
<text transform="translate(568.00,172.00) rotate(90)" x="0" y="2.66" font-size="7.4" text-anchor="middle" fill="#222" stroke="#222" stroke-width="0.22">Gene count</text>
<text x="45.50" y="216.63" font-size="11.2" text-anchor="start" fill="#111" font-weight="bold">C</text>
<line x1="151.80" y1="220.70" x2="194.30" y2="220.70" stroke="#3b3d7e" stroke-width="1.4"/>
<text x="168.75" y="219.27" font-size="5.2" text-anchor="middle" fill="#3b3d7e" stroke="#3b3d7e" stroke-width="0.16">Gammaproteobacteria</text>
<line x1="193.80" y1="220.70" x2="236.30" y2="220.70" stroke="#b8405f" stroke-width="1.4"/>
<text x="215.55" y="219.27" font-size="5.2" text-anchor="middle" fill="#b8405f" stroke="#b8405f" stroke-width="0.16">Bacili</text>
<line x1="235.80" y1="220.70" x2="257.30" y2="220.70" stroke="#2e7466" stroke-width="1.4"/>
<text x="245.35" y="219.27" font-size="5.2" text-anchor="middle" fill="#2e7466" stroke="#2e7466" stroke-width="0.16">S.F.U.R.M</text>
<text x="148.00" y="229.16" font-size="6" text-anchor="end" fill="#222" stroke="#222" stroke-width="0.18">undefined</text>
<line x1="149.40" y1="227.00" x2="152.20" y2="227.00" stroke="#222" stroke-width="0.9"/>
<text x="157.60" y="228.91" font-size="5.3" text-anchor="middle" fill="#222" font-weight="bold">6</text>
<text x="168.10" y="228.91" font-size="5.3" text-anchor="middle" fill="#222" font-weight="bold">4</text>
<text x="178.60" y="228.91" font-size="5.3" text-anchor="middle" fill="#222" font-weight="bold">4</text>
<text x="189.10" y="228.91" font-size="5.3" text-anchor="middle" fill="#222" font-weight="bold">4</text>
<text x="199.60" y="228.91" font-size="5.3" text-anchor="middle" fill="#222" font-weight="bold">2</text>
<text x="210.10" y="228.91" font-size="5.3" text-anchor="middle" fill="#222" font-weight="bold">2</text>
<text x="220.60" y="228.91" font-size="5.3" text-anchor="middle" fill="#222" font-weight="bold">2</text>
<text x="231.10" y="228.91" font-size="5.3" text-anchor="middle" fill="#222" font-weight="bold">2</text>
<text x="241.60" y="228.91" font-size="5.3" text-anchor="middle" fill="#222" font-weight="bold">8</text>
<text x="252.10" y="228.91" font-size="5.3" text-anchor="middle" fill="#222" font-weight="bold">2</text>
<text x="148.00" y="239.92" font-size="6" text-anchor="end" fill="#222" stroke="#222" stroke-width="0.18">Invasion and intracellular resistance</text>
<line x1="149.40" y1="239.46" x2="152.20" y2="239.46" stroke="#222" stroke-width="0.9"/>
<rect x="152.80" y="234.26" width="9.60" height="10.40" fill="#b6246c"/>
<text x="157.60" y="241.37" font-size="5.3" text-anchor="middle" fill="#fff" font-weight="bold">64</text>
<rect x="163.30" y="234.26" width="9.60" height="10.40" fill="#bf3b7f"/>
<text x="168.10" y="241.37" font-size="5.3" text-anchor="middle" fill="#fff" font-weight="bold">55</text>
<rect x="173.80" y="234.26" width="9.60" height="10.40" fill="#b6246c"/>
<text x="178.60" y="241.37" font-size="5.3" text-anchor="middle" fill="#fff" font-weight="bold">64</text>
<text x="189.10" y="241.37" font-size="5.3" text-anchor="middle" fill="#222" font-weight="bold">2</text>
<rect x="194.80" y="234.26" width="9.60" height="10.40" fill="#fdf4ee"/>
<rect x="205.30" y="234.26" width="9.60" height="10.40" fill="#fdf4ee"/>
<rect x="215.80" y="234.26" width="9.60" height="10.40" fill="#fdf4ee"/>
<rect x="226.30" y="234.26" width="9.60" height="10.40" fill="#fdf4ee"/>
<text x="241.60" y="241.37" font-size="5.3" text-anchor="middle" fill="#222" font-weight="bold">2</text>
<rect x="247.30" y="234.26" width="9.60" height="10.40" fill="#fdf4ee"/>
<text x="148.00" y="251.08" font-size="6" text-anchor="end" fill="#222" stroke="#222" stroke-width="0.18">Resistance</text>
<text x="148.00" y="257.18" font-size="6" text-anchor="end" fill="#222" stroke="#222" stroke-width="0.18">(antibiotics &amp; toxic compounds)</text>
<line x1="149.40" y1="251.92" x2="152.20" y2="251.92" stroke="#222" stroke-width="0.9"/>
<rect x="152.80" y="246.72" width="9.60" height="10.40" fill="#d073a5"/>
<text x="157.60" y="253.83" font-size="5.3" text-anchor="middle" fill="#222" font-weight="bold">37</text>
<rect x="163.30" y="246.72" width="9.60" height="10.40" fill="#cd6ca0"/>
<text x="168.10" y="253.83" font-size="5.3" text-anchor="middle" fill="#222" font-weight="bold">39</text>
<rect x="173.80" y="246.72" width="9.60" height="10.40" fill="#cc689e"/>
<text x="178.60" y="253.83" font-size="5.3" text-anchor="middle" fill="#222" font-weight="bold">40</text>
<rect x="184.30" y="246.72" width="9.60" height="10.40" fill="#b82970"/>
<text x="189.10" y="253.83" font-size="5.3" text-anchor="middle" fill="#fff" font-weight="bold">62</text>
<rect x="194.80" y="246.72" width="9.60" height="10.40" fill="#d481ad"/>
<text x="199.60" y="253.83" font-size="5.3" text-anchor="middle" fill="#222" font-weight="bold">33</text>
<rect x="205.30" y="246.72" width="9.60" height="10.40" fill="#d481ad"/>
<text x="210.10" y="253.83" font-size="5.3" text-anchor="middle" fill="#222" font-weight="bold">33</text>
<rect x="215.80" y="246.72" width="9.60" height="10.40" fill="#d685b0"/>
<text x="220.60" y="253.83" font-size="5.3" text-anchor="middle" fill="#222" font-weight="bold">32</text>
<rect x="226.30" y="246.72" width="9.60" height="10.40" fill="#d685b0"/>
<text x="231.10" y="253.83" font-size="5.3" text-anchor="middle" fill="#222" font-weight="bold">32</text>
<rect x="236.80" y="246.72" width="9.60" height="10.40" fill="#bd367b"/>
<text x="241.60" y="253.83" font-size="5.3" text-anchor="middle" fill="#fff" font-weight="bold">57</text>
<rect x="247.30" y="246.72" width="9.60" height="10.40" fill="#d88cb4"/>
<text x="252.10" y="253.83" font-size="5.3" text-anchor="middle" fill="#222" font-weight="bold">30</text>
<text x="148.00" y="267.54" font-size="6" text-anchor="end" fill="#222" stroke="#222" stroke-width="0.18">Stress Response</text>
<line x1="149.40" y1="264.38" x2="152.20" y2="264.38" stroke="#222" stroke-width="0.9"/>
<text x="157.60" y="266.29" font-size="5.3" text-anchor="middle" fill="#222" font-weight="bold">6</text>
<text x="168.10" y="266.29" font-size="5.3" text-anchor="middle" fill="#222" font-weight="bold">7</text>
<text x="178.60" y="266.29" font-size="5.3" text-anchor="middle" fill="#222" font-weight="bold">9</text>
<rect x="184.30" y="259.18" width="9.60" height="10.40" fill="#d37eab"/>
<text x="189.10" y="266.29" font-size="5.3" text-anchor="middle" fill="#222" font-weight="bold">34</text>
<rect x="194.80" y="259.18" width="9.60" height="10.40" fill="#f6dedd"/>
<text x="199.60" y="266.29" font-size="5.3" text-anchor="middle" fill="#222" font-weight="bold">14</text>
<rect x="205.30" y="259.18" width="9.60" height="10.40" fill="#fbece6"/>
<text x="210.10" y="266.29" font-size="5.3" text-anchor="middle" fill="#222" font-weight="bold">11</text>
<rect x="215.80" y="259.18" width="9.60" height="10.40" fill="#fbece6"/>
<text x="220.60" y="266.29" font-size="5.3" text-anchor="middle" fill="#222" font-weight="bold">11</text>
<rect x="226.30" y="259.18" width="9.60" height="10.40" fill="#f6dedd"/>
<text x="231.10" y="266.29" font-size="5.3" text-anchor="middle" fill="#222" font-weight="bold">14</text>
<rect x="236.80" y="259.18" width="9.60" height="10.40" fill="#ce6fa2"/>
<text x="241.60" y="266.29" font-size="5.3" text-anchor="middle" fill="#222" font-weight="bold">38</text>
<rect x="247.30" y="259.18" width="9.60" height="10.40" fill="#f9e7e3"/>
<text x="252.10" y="266.29" font-size="5.3" text-anchor="middle" fill="#222" font-weight="bold">12</text>
<text x="148.00" y="279.50" font-size="6" text-anchor="end" fill="#222" stroke="#222" stroke-width="0.18">Stress Response: Heat/cold shock</text>
<line x1="149.40" y1="276.84" x2="152.20" y2="276.84" stroke="#222" stroke-width="0.9"/>
<rect x="152.80" y="271.64" width="9.60" height="10.40" fill="#f2d1d5"/>
<text x="157.60" y="278.75" font-size="5.3" text-anchor="middle" fill="#222" font-weight="bold">17</text>
<rect x="163.30" y="271.64" width="9.60" height="10.40" fill="#f1cdd2"/>
<text x="168.10" y="278.75" font-size="5.3" text-anchor="middle" fill="#222" font-weight="bold">18</text>
<rect x="173.80" y="271.64" width="9.60" height="10.40" fill="#efc8cf"/>
<text x="178.60" y="278.75" font-size="5.3" text-anchor="middle" fill="#222" font-weight="bold">19</text>
<rect x="184.30" y="271.64" width="9.60" height="10.40" fill="#fbece6"/>
<text x="189.10" y="278.75" font-size="5.3" text-anchor="middle" fill="#222" font-weight="bold">11</text>
<text x="199.60" y="278.75" font-size="5.3" text-anchor="middle" fill="#222" font-weight="bold">6</text>
<text x="210.10" y="278.75" font-size="5.3" text-anchor="middle" fill="#222" font-weight="bold">7</text>
<text x="220.60" y="278.75" font-size="5.3" text-anchor="middle" fill="#222" font-weight="bold">6</text>
<rect x="226.30" y="271.64" width="9.60" height="10.40" fill="#fcf0e9"/>
<text x="231.10" y="278.75" font-size="5.3" text-anchor="middle" fill="#222" font-weight="bold">10</text>
<rect x="236.80" y="271.64" width="9.60" height="10.40" fill="#fcf0e9"/>
<text x="241.60" y="278.75" font-size="5.3" text-anchor="middle" fill="#222" font-weight="bold">10</text>
<text x="252.10" y="278.75" font-size="5.3" text-anchor="middle" fill="#222" font-weight="bold">8</text>
<text x="148.00" y="291.76" font-size="6" text-anchor="end" fill="#222" stroke="#222" stroke-width="0.18">Stress Response: Osmotic stress</text>
<line x1="149.40" y1="289.30" x2="152.20" y2="289.30" stroke="#222" stroke-width="0.9"/>
<rect x="152.80" y="284.10" width="9.60" height="10.40" fill="#fdf4ee"/>
<rect x="163.30" y="284.10" width="9.60" height="10.40" fill="#fdf4ee"/>
<rect x="173.80" y="284.10" width="9.60" height="10.40" fill="#fdf4ee"/>
<rect x="184.30" y="284.10" width="9.60" height="10.40" fill="#f2d1d5"/>
<text x="189.10" y="291.21" font-size="5.3" text-anchor="middle" fill="#222" font-weight="bold">17</text>
<text x="199.60" y="291.21" font-size="5.3" text-anchor="middle" fill="#222" font-weight="bold">7</text>
<text x="210.10" y="291.21" font-size="5.3" text-anchor="middle" fill="#222" font-weight="bold">7</text>
<text x="220.60" y="291.21" font-size="5.3" text-anchor="middle" fill="#222" font-weight="bold">6</text>
<text x="231.10" y="291.21" font-size="5.3" text-anchor="middle" fill="#222" font-weight="bold">6</text>
<rect x="236.80" y="284.10" width="9.60" height="10.40" fill="#eec4cc"/>
<text x="241.60" y="291.21" font-size="5.3" text-anchor="middle" fill="#222" font-weight="bold">20</text>
<text x="252.10" y="291.21" font-size="5.3" text-anchor="middle" fill="#222" font-weight="bold">7</text>
<line x1="157.60" y1="296.80" x2="157.60" y2="299.10" stroke="#222" stroke-width="0.9"/>
<text transform="translate(157.60,300.50) rotate(-90)" x="0" y="2.48" font-size="6.9" text-anchor="end" fill="#222" stroke="#222" stroke-width="0.21">E. cloacae (H2)</text>
<line x1="168.10" y1="296.80" x2="168.10" y2="299.10" stroke="#222" stroke-width="0.9"/>
<text transform="translate(168.10,300.50) rotate(-90)" x="0" y="2.48" font-size="6.9" text-anchor="end" fill="#222" stroke="#222" stroke-width="0.21">E. cloacae (C2)</text>
<line x1="178.60" y1="296.80" x2="178.60" y2="299.10" stroke="#222" stroke-width="0.9"/>
<text transform="translate(178.60,300.50) rotate(-90)" x="0" y="2.48" font-size="6.9" text-anchor="end" fill="#222" stroke="#222" stroke-width="0.21">E. cloacae (L2)</text>
<line x1="189.10" y1="296.80" x2="189.10" y2="299.10" stroke="#222" stroke-width="0.9"/>
<text transform="translate(189.10,300.50) rotate(-90)" x="0" y="2.48" font-size="6.9" text-anchor="end" fill="#222" stroke="#222" stroke-width="0.21">K. oxytoca (H1)</text>
<line x1="199.60" y1="296.80" x2="199.60" y2="299.10" stroke="#222" stroke-width="0.9"/>
<text transform="translate(199.60,300.50) rotate(-90)" x="0" y="2.48" font-size="6.9" text-anchor="end" fill="#222" stroke="#222" stroke-width="0.21">E. faecalis (L2)</text>
<line x1="210.10" y1="296.80" x2="210.10" y2="299.10" stroke="#222" stroke-width="0.9"/>
<text transform="translate(210.10,300.50) rotate(-90)" x="0" y="2.48" font-size="6.9" text-anchor="end" fill="#222" stroke="#222" stroke-width="0.21">S. anginosus (H2)</text>
<line x1="220.60" y1="296.80" x2="220.60" y2="299.10" stroke="#222" stroke-width="0.9"/>
<text transform="translate(220.60,300.50) rotate(-90)" x="0" y="2.48" font-size="6.9" text-anchor="end" fill="#222" stroke="#222" stroke-width="0.21">S. anginosus (C2)</text>
<line x1="231.10" y1="296.80" x2="231.10" y2="299.10" stroke="#222" stroke-width="0.9"/>
<text transform="translate(231.10,300.50) rotate(-90)" x="0" y="2.48" font-size="6.9" text-anchor="end" fill="#222" stroke="#222" stroke-width="0.21">E. faecium (H2)</text>
<line x1="241.60" y1="296.80" x2="241.60" y2="299.10" stroke="#222" stroke-width="0.9"/>
<text transform="translate(241.60,300.50) rotate(-90)" x="0" y="2.48" font-size="6.9" text-anchor="end" fill="#222" stroke="#222" stroke-width="0.21">E. coli (MG1655)</text>
<line x1="252.10" y1="296.80" x2="252.10" y2="299.10" stroke="#222" stroke-width="0.9"/>
<text transform="translate(252.10,300.50) rotate(-90)" x="0" y="2.48" font-size="6.9" text-anchor="end" fill="#222" stroke="#222" stroke-width="0.21">B. ovatis</text>
<defs><linearGradient id="gC" x1="0" y1="0" x2="0" y2="1">
<stop offset="0.000" stop-color="#fcf0e9"/>
<stop offset="0.185" stop-color="#eec4cc"/>
<stop offset="0.370" stop-color="#d88cb4"/>
<stop offset="0.556" stop-color="#cc689e"/>
<stop offset="0.741" stop-color="#c4488a"/>
<stop offset="1.000" stop-color="#b6246c"/>
</linearGradient></defs>
<rect x="263.30" y="228.50" width="7.70" height="63.90" fill="url(#gC)"/>
<text x="274.50" y="232.29" font-size="5.8" text-anchor="start" fill="#333" stroke="#333" stroke-width="0.17">10</text>
<text x="274.50" y="244.19" font-size="5.8" text-anchor="start" fill="#333" stroke="#333" stroke-width="0.17">20</text>
<text x="274.50" y="256.09" font-size="5.8" text-anchor="start" fill="#333" stroke="#333" stroke-width="0.17">30</text>
<text x="274.50" y="267.99" font-size="5.8" text-anchor="start" fill="#333" stroke="#333" stroke-width="0.17">40</text>
<text x="274.50" y="279.89" font-size="5.8" text-anchor="start" fill="#333" stroke="#333" stroke-width="0.17">50</text>
<text x="274.50" y="291.79" font-size="5.8" text-anchor="start" fill="#333" stroke="#333" stroke-width="0.17">60</text>
<text transform="translate(285.80,257.50) rotate(90)" x="0" y="2.66" font-size="7.4" text-anchor="middle" fill="#222" stroke="#222" stroke-width="0.22">Gene count</text>
<text x="568.50" y="30.23" font-size="11.2" text-anchor="start" fill="#111" font-weight="bold">D</text>
<defs>
<linearGradient id="dH" x1="0" y1="0.3" x2="1" y2="0.7"><stop offset="0" stop-color="#a9c6c9"/><stop offset="0.55" stop-color="#dfe9ea"/><stop offset="1" stop-color="#ffffff"/></linearGradient>
<linearGradient id="dC" x1="0" y1="0.3" x2="1" y2="0.6"><stop offset="0" stop-color="#ffffff"/><stop offset="0.45" stop-color="#f3eaf3"/><stop offset="1" stop-color="#c9aed2"/></linearGradient>
<linearGradient id="dL" x1="0.3" y1="0" x2="0.6" y2="1"><stop offset="0" stop-color="#ffffff"/><stop offset="0.5" stop-color="#f7efea"/><stop offset="1" stop-color="#ead9cc"/></linearGradient>
</defs>
<ellipse cx="624" cy="93" rx="48.6" ry="45.2" fill="url(#dH)" fill-opacity="0.85" stroke="#1d6b66" stroke-width="2"/>
<ellipse cx="674.3" cy="95.9" rx="48.9" ry="44.8" fill="url(#dC)" fill-opacity="0.6" stroke="#4c2f5e" stroke-width="2"/>
<ellipse cx="649.6" cy="127.5" rx="48.2" ry="44.8" fill="url(#dL)" fill-opacity="0.6" stroke="#9c8d84" stroke-width="2"/>
<line x1="673.00" y1="85.00" x2="572.00" y2="203.50" stroke="#c4c4c4" stroke-width="0.7"/>
<line x1="691.00" y1="79.00" x2="754.40" y2="203.50" stroke="#c4c4c4" stroke-width="0.7"/>
<text x="609.10" y="41.98" font-size="9.4" text-anchor="middle" fill="#222">E. cloacae (H2)</text>
<text x="702.00" y="42.08" font-size="9.4" text-anchor="middle" fill="#222">E. cloacae (C2)</text>
<text x="653.60" y="185.68" font-size="9.4" text-anchor="middle" fill="#222">E. cloacae (L2)</text>
<text x="600.50" y="83.83" font-size="12.3" text-anchor="middle" fill="#1a1a1a">31</text>
<text x="649.90" y="74.13" font-size="12.3" text-anchor="middle" fill="#1a1a1a">12</text>
<text x="684.00" y="82.43" font-size="12.3" text-anchor="middle" fill="#1a1a1a">240</text>
<text x="649.90" y="107.13" font-size="12.3" text-anchor="middle" fill="#1a1a1a">2941</text>
<text x="615.70" y="124.33" font-size="12.3" text-anchor="middle" fill="#1a1a1a">303</text>
<text x="680.30" y="124.33" font-size="12.3" text-anchor="middle" fill="#1a1a1a">7</text>
<text x="646.00" y="152.13" font-size="12.3" text-anchor="middle" fill="#1a1a1a">31</text>
<defs><linearGradient id="eBlob" x1="0" y1="0" x2="0" y2="1">
<stop offset="0" stop-color="#ffffff" stop-opacity="0"/><stop offset="0.3" stop-color="#f1edf7"/><stop offset="0.65" stop-color="#e3dcf0"/><stop offset="1" stop-color="#d5cbe9"/></linearGradient></defs>
<rect x="572" y="203.5" width="182.4" height="155.7" fill="none" stroke="#b5b5b5" stroke-width="0.7" stroke-dasharray="1,1"/>
<path d="M585,240 C602,222 660,212 700,226 C735,239 752,264 750,283 C748,296 730,298 716,302 C702,308 700,322 680,334 C655,346 625,347 605,341 C588,333 577,316 576,292 C575,268 576,252 585,240 Z" fill="url(#eBlob)"/>
<text x="573.00" y="216.03" font-size="11.2" text-anchor="start" fill="#111" font-weight="bold">E</text>
<line x1="576.00" y1="273.40" x2="691.00" y2="273.40" stroke="#c9c9c9" stroke-width="0.8"/>
<line x1="690.00" y1="258.70" x2="722.00" y2="258.70" stroke="#c9c9c9" stroke-width="0.8"/>
<line x1="594.00" y1="260.50" x2="700.00" y2="260.50" stroke="#c9c9c9" stroke-width="0.8"/>
<line x1="600.00" y1="305.00" x2="690.00" y2="305.00" stroke="#c9c9c9" stroke-width="0.8"/>
<line x1="676.00" y1="256.00" x2="750.00" y2="256.00" stroke="#c9c9c9" stroke-width="0.8"/>
<line x1="690.00" y1="304.50" x2="714.00" y2="304.50" stroke="#c9c9c9" stroke-width="0.8"/>
<line x1="574.00" y1="301.50" x2="622.00" y2="301.50" stroke="#c9c9c9" stroke-width="0.8"/>
<line x1="640.00" y1="309.00" x2="700.00" y2="309.00" stroke="#c9c9c9" stroke-width="0.8"/>
<line x1="692.00" y1="237.00" x2="725.00" y2="237.00" stroke="#c9c9c9" stroke-width="0.8"/>
<line x1="700.00" y1="241.00" x2="730.00" y2="241.00" stroke="#c9c9c9" stroke-width="0.8"/>
<line x1="599.80" y1="230.00" x2="628.00" y2="252.30" stroke="#839c94" stroke-width="0.6"/>
<line x1="599.80" y1="230.00" x2="617.60" y2="269.90" stroke="#839c94" stroke-width="0.6"/>
<line x1="599.80" y1="230.00" x2="649.70" y2="253.00" stroke="#839c94" stroke-width="0.6"/>
<line x1="628.70" y1="216.60" x2="628.00" y2="252.30" stroke="#839c94" stroke-width="0.6"/>
<line x1="628.70" y1="216.60" x2="649.70" y2="253.00" stroke="#839c94" stroke-width="0.6"/>
<line x1="628.70" y1="216.60" x2="678.00" y2="260.00" stroke="#839c94" stroke-width="0.6"/>
<line x1="628.70" y1="216.60" x2="660.30" y2="272.50" stroke="#839c94" stroke-width="0.6"/>
<line x1="662.60" y1="227.70" x2="649.70" y2="253.00" stroke="#839c94" stroke-width="0.6"/>
<line x1="662.60" y1="227.70" x2="678.00" y2="260.00" stroke="#839c94" stroke-width="0.6"/>
<line x1="662.60" y1="227.70" x2="639.80" y2="270.60" stroke="#839c94" stroke-width="0.6"/>
<line x1="628.00" y1="252.30" x2="617.60" y2="269.90" stroke="#839c94" stroke-width="0.6"/>
<line x1="628.00" y1="252.30" x2="639.80" y2="270.60" stroke="#839c94" stroke-width="0.6"/>
<line x1="628.00" y1="252.30" x2="660.30" y2="272.50" stroke="#839c94" stroke-width="0.6"/>
<line x1="649.70" y1="253.00" x2="617.60" y2="269.90" stroke="#839c94" stroke-width="0.6"/>
<line x1="649.70" y1="253.00" x2="639.80" y2="270.60" stroke="#839c94" stroke-width="0.6"/>
<line x1="649.70" y1="253.00" x2="678.00" y2="260.00" stroke="#839c94" stroke-width="0.6"/>
<line x1="649.70" y1="253.00" x2="633.00" y2="317.00" stroke="#839c94" stroke-width="0.6"/>
<line x1="678.00" y1="260.00" x2="617.60" y2="269.90" stroke="#839c94" stroke-width="0.6"/>
<line x1="678.00" y1="260.00" x2="639.80" y2="270.60" stroke="#839c94" stroke-width="0.6"/>
<line x1="678.00" y1="260.00" x2="609.00" y2="307.10" stroke="#839c94" stroke-width="0.6"/>
<line x1="594.80" y1="266.10" x2="617.60" y2="269.90" stroke="#839c94" stroke-width="0.6"/>
<line x1="594.80" y1="266.10" x2="591.60" y2="299.80" stroke="#839c94" stroke-width="0.6"/>
<line x1="594.80" y1="266.10" x2="609.00" y2="307.10" stroke="#839c94" stroke-width="0.6"/>
<line x1="617.60" y1="269.90" x2="639.80" y2="270.60" stroke="#839c94" stroke-width="0.6"/>
<line x1="617.60" y1="269.90" x2="609.00" y2="307.10" stroke="#839c94" stroke-width="0.6"/>
<line x1="617.60" y1="269.90" x2="633.00" y2="317.00" stroke="#839c94" stroke-width="0.6"/>
<line x1="639.80" y1="270.60" x2="660.30" y2="272.50" stroke="#839c94" stroke-width="0.6"/>
<line x1="639.80" y1="270.60" x2="633.00" y2="317.00" stroke="#839c94" stroke-width="0.6"/>
<line x1="660.30" y1="272.50" x2="609.00" y2="307.10" stroke="#839c94" stroke-width="0.6"/>
<line x1="660.30" y1="272.50" x2="633.00" y2="317.00" stroke="#839c94" stroke-width="0.6"/>
<line x1="617.60" y1="269.90" x2="660.30" y2="272.50" stroke="#839c94" stroke-width="0.6"/>
<line x1="591.60" y1="299.80" x2="609.00" y2="307.10" stroke="#839c94" stroke-width="0.6"/>
<line x1="591.60" y1="299.80" x2="633.00" y2="317.00" stroke="#839c94" stroke-width="0.6"/>
<line x1="609.00" y1="307.10" x2="633.00" y2="317.00" stroke="#839c94" stroke-width="0.6"/>
<line x1="633.00" y1="317.00" x2="666.00" y2="304.80" stroke="#839c94" stroke-width="0.6"/>
<line x1="628.00" y1="252.30" x2="633.00" y2="317.00" stroke="#839c94" stroke-width="0.6"/>
<line x1="628.70" y1="216.60" x2="617.60" y2="269.90" stroke="#839c94" stroke-width="0.6"/>
<line x1="662.60" y1="227.70" x2="628.00" y2="252.30" stroke="#839c94" stroke-width="0.6"/>
<line x1="639.80" y1="270.60" x2="609.00" y2="307.10" stroke="#839c94" stroke-width="0.6"/>
<line x1="678.00" y1="260.00" x2="633.00" y2="317.00" stroke="#839c94" stroke-width="0.6"/>
<line x1="708.80" y1="232.60" x2="740.70" y2="235.30" stroke="#9aa7a2" stroke-width="0.55"/>
<line x1="708.80" y1="232.60" x2="695.80" y2="253.00" stroke="#9aa7a2" stroke-width="0.55"/>
<line x1="708.80" y1="232.60" x2="733.50" y2="255.00" stroke="#9aa7a2" stroke-width="0.55"/>
<line x1="695.80" y1="253.00" x2="740.70" y2="235.30" stroke="#9aa7a2" stroke-width="0.55"/>
<line x1="695.80" y1="253.00" x2="733.50" y2="255.00" stroke="#9aa7a2" stroke-width="0.55"/>
<line x1="695.80" y1="253.00" x2="708.80" y2="272.00" stroke="#9aa7a2" stroke-width="0.55"/>
<line x1="740.70" y1="235.30" x2="733.50" y2="255.00" stroke="#9aa7a2" stroke-width="0.55"/>
<line x1="733.50" y1="255.00" x2="708.80" y2="272.00" stroke="#9aa7a2" stroke-width="0.55"/>
<line x1="702.20" y1="299.20" x2="702.20" y2="309.80" stroke="#9a96c8" stroke-width="0.6"/>
<polygon points="599.8,218.1 592.0,236.4 607.5999999999999,236.4" fill="#dc2488"/>
<ellipse cx="628.7" cy="216.6" rx="7.6" ry="9.4" fill="#dc2488" stroke="#c41a72" stroke-width="0.4"/>
<ellipse cx="662.6" cy="227.7" rx="6.4" ry="7.3" fill="#dc2488" stroke="#c41a72" stroke-width="0.4"/>
<ellipse cx="628" cy="252.3" rx="6.1" ry="7.6" fill="#dc2488" stroke="#c41a72" stroke-width="0.4"/>
<ellipse cx="649.8" cy="253.8" rx="7.4" ry="8.8" fill="#dc2488" stroke="#c41a72" stroke-width="0.4"/>
<ellipse cx="679.4" cy="260.2" rx="7.4" ry="9.4" fill="#dc2488" stroke="#c41a72" stroke-width="0.4"/>
<polygon points="600.00,266.10 597.40,270.60 592.20,270.60 589.60,266.10 592.20,261.60 597.40,261.60" fill="#dc2488"/>
<ellipse cx="617.6" cy="269.9" rx="6.4" ry="7.6" fill="#dc2488" stroke="#c41a72" stroke-width="0.4"/>
<ellipse cx="639.8" cy="270.6" rx="4.6" ry="5.6" fill="#dc2488" stroke="#c41a72" stroke-width="0.4"/>
<ellipse cx="660.3" cy="272.5" rx="6.2" ry="7.5" fill="#dc2488" stroke="#c41a72" stroke-width="0.4"/>
<polygon points="596.80,299.80 594.20,304.30 589.00,304.30 586.40,299.80 589.00,295.30 594.20,295.30" fill="#dc2488"/>
<ellipse cx="609" cy="307.1" rx="6.0" ry="7.6" fill="#dc2488" stroke="#c41a72" stroke-width="0.4"/>
<ellipse cx="633" cy="317" rx="7.5" ry="9.5" fill="#dc2488" stroke="#c41a72" stroke-width="0.4"/>
<polygon points="666,301.3 662.5,307.8 669.5,307.8" fill="#dc2488"/>
<circle cx="708.8" cy="232.6" r="2.3" fill="#b43c80"/>
<circle cx="740.7" cy="235.3" r="2.3" fill="#b43c80"/>
<circle cx="695.8" cy="253" r="2.3" fill="#b43c80"/>
<polygon points="733.5,251.5 730.5,257.3 736.5,257.3" fill="#b43c80"/>
<polygon points="708.8,266.1 702.4,280.5 715.1999999999999,280.5" fill="#b43a82"/>
<polygon points="699.6,297.12 704.8000000000001,297.12 702.2,301.53999999999996" fill="#8c84d2"/>
<polygon points="699.6,307.72 704.8000000000001,307.72 702.2,312.14" fill="#8c84d2"/>
<circle cx="733.5" cy="304" r="2.1" fill="#2b2b4a"/>
<text x="627.60" y="232.36" font-size="4.6" text-anchor="middle" fill="#b81c72">mannose metabolic</text>
<text x="627.60" y="238.46" font-size="4.6" text-anchor="middle" fill="#b81c72">process</text>
<text x="599.50" y="241.86" font-size="4.6" text-anchor="middle" fill="#b81c72">Fructose and</text>
<text x="599.50" y="248.16" font-size="4.6" text-anchor="middle" fill="#b81c72">mannose</text>
<text x="599.50" y="254.26" font-size="4.6" text-anchor="middle" fill="#b81c72">metabolism</text>
<text x="661.80" y="241.06" font-size="4.6" text-anchor="middle" fill="#b81c72">carbohydrate</text>
<text x="661.80" y="247.66" font-size="4.6" text-anchor="middle" fill="#b81c72">metabolic process</text>
<text x="616.20" y="283.66" font-size="4.6" text-anchor="middle" fill="#b81c72">single-organism</text>
<text x="616.20" y="290.56" font-size="4.6" text-anchor="middle" fill="#b81c72">carbohydrate</text>
<text x="616.20" y="297.36" font-size="4.6" text-anchor="middle" fill="#b81c72">catabolic process</text>
<text x="660.30" y="286.66" font-size="4.6" text-anchor="middle" fill="#b81c72">single-organism</text>
<text x="660.30" y="293.66" font-size="4.6" text-anchor="middle" fill="#b81c72">carbohydrate</text>
<text x="660.30" y="300.46" font-size="4.6" text-anchor="middle" fill="#b81c72">metabolic process</text>
<text x="607.90" y="319.66" font-size="4.6" text-anchor="middle" fill="#b81c72">hexose catabolic</text>
<text x="607.90" y="326.66" font-size="4.6" text-anchor="middle" fill="#b81c72">process</text>
<text x="664.90" y="312.66" font-size="4.6" text-anchor="middle" fill="#b81c72">Pentose and</text>
<text x="664.90" y="319.46" font-size="4.6" text-anchor="middle" fill="#b81c72">glucuronate</text>
<text x="664.90" y="325.96" font-size="4.6" text-anchor="middle" fill="#b81c72">interconversions</text>
<text x="632.20" y="331.86" font-size="4.6" text-anchor="middle" fill="#b81c72">mannose catabolic</text>
<text x="632.20" y="339.16" font-size="4.6" text-anchor="middle" fill="#b81c72">process</text>
<text x="740.00" y="243.36" font-size="4.6" text-anchor="middle" fill="#a02a72">carbohydrate</text>
<text x="740.00" y="250.16" font-size="4.6" text-anchor="middle" fill="#a02a72">transport</text>
<text x="733.00" y="261.86" font-size="4.6" text-anchor="middle" fill="#a02a72">Phosphotransferase</text>
<text x="733.00" y="268.36" font-size="4.6" text-anchor="middle" fill="#a02a72">system (PTS)</text>
<text x="708.80" y="285.96" font-size="4.6" text-anchor="middle" fill="#b02a7a">Galactose</text>
<text x="708.80" y="292.86" font-size="4.6" text-anchor="middle" fill="#b02a7a">metabolism</text>
<text x="702.70" y="318.16" font-size="4.6" text-anchor="middle" fill="#7a6ad6">external</text>
<text x="702.70" y="324.66" font-size="4.6" text-anchor="middle" fill="#7a6ad6">encapsulating</text>
<text x="702.70" y="331.66" font-size="4.6" text-anchor="middle" fill="#7a6ad6">structure part</text>
<text x="732.60" y="311.86" font-size="4.6" text-anchor="middle" fill="#222">sequence-specific</text>
<text x="732.60" y="319.06" font-size="4.6" text-anchor="middle" fill="#222">DNA binding</text>
<polygon points="578.8,348.7 575.1999999999999,355.9 582.4,355.9" fill="#dc2488"/>
<text x="584.00" y="355.10" font-size="6.1" text-anchor="start" fill="#222" font-weight="bold">KEGG</text>
<ellipse cx="616.2" cy="352.9" rx="3.9" ry="4.3" fill="#dc2488" stroke="#c41a72" stroke-width="0.4"/>
<text x="622.00" y="355.10" font-size="6.1" text-anchor="start" fill="#222" font-weight="bold">BP</text>
<polygon points="639.5,349.2 647.5,349.2 643.5,356.0" fill="#dc2488"/>
<text x="649.90" y="355.10" font-size="6.1" text-anchor="start" fill="#222" font-weight="bold">CC</text>
<polygon points="673.80,352.90 671.60,356.71 667.20,356.71 665.00,352.90 667.20,349.09 671.60,349.09" fill="#dc2488"/>
<text x="675.20" y="355.10" font-size="6.1" text-anchor="start" fill="#222" font-weight="bold">MF</text>
<text x="47.30" y="404.83" font-size="11.2" text-anchor="start" fill="#111" font-weight="bold">F</text>
<path d="M61.95,469.77 C60.13,466.72 58.14,463.12 57.95,458.58 C57.76,454.04 59.04,447.98 60.80,442.55 C62.56,437.13 65.14,430.80 68.49,426.04 C71.85,421.28 76.61,416.96 80.92,413.99 C85.23,411.01 89.70,409.09 94.34,408.21 C98.97,407.32 103.98,407.39 108.74,408.70 C113.50,410.01 118.43,413.37 122.89,416.08 C127.35,418.79 131.91,422.19 135.48,424.96 C139.05,427.73 140.98,430.23 144.31,432.67 C147.64,435.12 152.12,437.78 155.48,439.62 C158.84,441.46 160.60,442.42 164.50,443.72 C168.40,445.01 174.90,446.28 178.87,447.38 C182.83,448.48 185.45,448.93 188.28,450.30 C191.11,451.68 193.91,453.38 195.84,455.63 C197.76,457.89 199.19,460.82 199.82,463.83 C200.44,466.84 200.47,470.83 199.58,473.71 C198.69,476.58 196.89,479.34 194.47,481.07 C192.06,482.81 188.33,484.09 185.11,484.13 C181.88,484.18 179.06,481.46 175.13,481.33 C171.20,481.21 165.98,482.69 161.53,483.38 C157.07,484.07 152.52,484.19 148.42,485.48 C144.33,486.76 140.63,489.02 136.95,491.06 C133.27,493.10 130.15,495.75 126.36,497.72 C122.56,499.69 117.78,502.52 114.19,502.90 C110.59,503.27 108.78,501.46 104.77,499.97 C100.77,498.48 93.52,495.82 90.17,493.95 C86.81,492.08 86.80,490.58 84.65,488.75 C82.49,486.92 79.87,484.95 77.24,482.97 C74.62,480.99 71.45,479.10 68.90,476.90 C66.35,474.70 63.78,472.82 61.95,469.77 Z" fill="#2444b4" fill-opacity="0.6"/>
<path d="M117.52,400.95 C120.00,398.35 122.97,395.43 127.42,393.85 C131.88,392.28 138.31,391.57 144.25,391.49 C150.19,391.41 157.28,391.81 163.06,393.38 C168.84,394.96 174.61,397.95 178.90,400.95 C183.19,403.95 186.49,407.41 188.80,411.36 C191.11,415.30 192.60,419.87 192.76,424.60 C192.93,429.33 191.11,434.85 189.79,439.74 C188.47,444.62 186.49,449.83 184.84,453.93 C183.19,458.03 181.29,460.55 179.89,464.33 C178.49,468.12 177.22,473.00 176.43,476.63 C175.63,480.26 175.22,482.15 175.14,486.09 C175.06,490.03 175.80,496.34 175.93,500.28 C176.06,504.22 176.43,506.74 175.93,509.74 C175.44,512.74 174.61,515.81 172.96,518.25 C171.31,520.70 168.84,522.91 166.03,524.40 C163.22,525.90 159.26,527.16 156.13,527.24 C153.00,527.32 149.69,526.53 147.22,524.88 C144.75,523.22 142.32,520.22 141.28,517.31 C140.24,514.39 142.07,510.99 140.98,507.38 C139.89,503.76 136.81,499.48 134.75,495.64 C132.68,491.81 131.15,487.71 128.61,484.39 C126.07,481.06 122.67,478.40 119.50,475.68 C116.33,472.97 112.74,470.95 109.60,468.12 C106.47,465.28 102.18,461.81 100.69,458.66 C99.21,455.50 100.44,453.30 100.69,449.20 C100.94,445.10 101.35,437.69 102.18,434.06 C103.00,430.43 104.49,429.96 105.64,427.44 C106.80,424.92 107.95,421.92 109.11,418.92 C110.26,415.93 111.17,412.46 112.57,409.46 C113.97,406.47 115.05,403.55 117.52,400.95 Z" fill="#d42828" fill-opacity="0.55"/>
<path d="M203.19,430.18 C206.54,431.63 210.36,433.42 213.31,436.99 C216.25,440.55 218.95,446.18 220.86,451.55 C222.78,456.92 224.58,463.49 224.79,469.23 C225.01,474.96 223.81,481.14 222.15,485.96 C220.50,490.79 218.06,494.86 214.86,498.18 C211.65,501.49 207.55,504.26 202.90,505.87 C198.24,507.48 192.19,507.53 186.91,507.85 C181.64,508.16 175.85,507.96 171.26,507.73 C166.67,507.50 163.57,506.55 159.38,506.45 C155.18,506.34 149.92,506.70 146.06,507.10 C142.21,507.50 140.20,507.71 136.25,508.85 C132.30,510.00 126.26,512.62 122.37,513.96 C118.49,515.30 116.09,516.41 112.96,516.88 C109.82,517.36 106.51,517.56 103.57,516.81 C100.62,516.07 97.66,514.50 95.30,512.42 C92.95,510.33 90.47,507.12 89.42,504.30 C88.37,501.47 88.14,498.23 89.02,495.47 C89.90,492.71 92.14,489.58 94.72,487.73 C97.30,485.89 101.26,486.50 104.51,484.39 C107.77,482.29 111.08,478.16 114.26,475.10 C117.44,472.04 121.04,469.38 123.57,466.04 C126.09,462.70 127.70,458.79 129.42,455.08 C131.14,451.36 132.03,447.47 133.89,443.74 C135.74,440.01 137.87,435.04 140.55,432.72 C143.23,430.40 145.81,430.84 149.97,429.80 C154.12,428.75 161.63,426.84 165.49,426.47 C169.35,426.10 170.28,427.30 173.15,427.57 C176.02,427.84 179.36,427.96 182.70,428.09 C186.03,428.21 189.77,427.97 193.18,428.31 C196.60,428.66 199.83,428.74 203.19,430.18 Z" fill="#22a022" fill-opacity="0.55"/>
<path d="M200.56,517.07 C200.16,520.56 199.55,524.59 196.92,528.37 C194.28,532.14 189.51,536.33 184.76,539.73 C180.00,543.13 174.02,546.80 168.38,548.77 C162.73,550.74 156.22,551.56 150.91,551.54 C145.59,551.53 140.79,550.57 136.50,548.68 C132.20,546.79 128.19,543.93 125.15,540.19 C122.10,536.46 120.18,530.98 118.24,526.28 C116.30,521.58 114.70,516.26 113.51,512.02 C112.33,507.78 112.31,504.67 111.12,500.82 C109.92,496.97 107.95,492.30 106.36,488.93 C104.77,485.55 103.94,483.78 101.58,480.55 C99.22,477.31 94.74,472.63 92.21,469.51 C89.68,466.40 87.83,464.56 86.39,461.86 C84.95,459.16 83.72,456.21 83.56,453.30 C83.39,450.40 84.03,447.22 85.38,444.44 C86.73,441.65 89.15,438.41 91.64,436.58 C94.13,434.76 97.29,433.54 100.31,433.49 C103.33,433.44 107.13,434.50 109.77,436.28 C112.40,438.05 113.01,441.84 116.12,444.15 C119.22,446.45 124.35,448.19 128.38,450.13 C132.40,452.07 136.17,454.53 140.27,455.79 C144.37,457.06 148.76,457.30 152.99,457.72 C157.22,458.13 161.37,457.74 165.66,458.28 C169.94,458.82 175.54,459.21 178.68,460.93 C181.82,462.65 182.18,465.13 184.50,468.58 C186.82,472.04 191.05,478.26 192.61,481.66 C194.17,485.06 193.26,486.28 193.88,488.96 C194.50,491.65 195.41,494.73 196.32,497.80 C197.22,500.87 198.62,504.19 199.33,507.40 C200.04,510.61 200.97,513.57 200.56,517.07 Z" fill="#e2e020" fill-opacity="0.55"/>
<path d="M113.28,541.53 C109.67,542.25 105.48,542.94 100.90,541.71 C96.33,540.49 90.69,537.45 85.83,534.17 C80.98,530.90 75.48,526.60 71.78,522.08 C68.08,517.56 65.25,511.89 63.62,507.06 C61.99,502.22 61.46,497.57 62.01,493.08 C62.57,488.59 64.18,484.06 66.95,480.14 C69.73,476.22 74.59,472.78 78.67,469.56 C82.74,466.35 87.54,463.25 91.40,460.86 C95.26,458.47 98.34,457.50 101.81,455.22 C105.27,452.95 109.30,449.71 112.17,447.22 C115.05,444.73 116.54,443.43 119.04,440.29 C121.53,437.15 124.81,431.63 127.12,428.37 C129.44,425.10 130.70,422.86 132.94,420.71 C135.19,418.57 137.74,416.54 140.58,415.49 C143.42,414.44 146.78,414.05 149.97,414.41 C153.16,414.77 157.14,415.98 159.73,417.68 C162.31,419.37 164.50,421.86 165.48,424.59 C166.46,427.32 166.58,431.11 165.63,434.05 C164.68,437.00 161.10,438.72 159.76,442.25 C158.42,445.79 158.28,450.99 157.59,455.25 C156.90,459.51 155.62,463.68 155.63,467.80 C155.64,471.92 156.75,475.99 157.65,479.96 C158.54,483.93 160.21,487.59 161.00,491.64 C161.79,495.70 163.13,500.92 162.39,504.30 C161.65,507.69 159.29,508.78 156.57,511.95 C153.85,515.13 148.96,520.89 146.06,523.36 C143.16,525.84 141.67,525.38 139.18,526.78 C136.70,528.17 133.92,529.94 131.14,531.72 C128.36,533.49 125.50,535.79 122.52,537.42 C119.54,539.06 116.88,540.82 113.28,541.53 Z" fill="#a07850" fill-opacity="0.6"/>
<text x="150.70" y="409.25" font-size="6.8" text-anchor="middle" fill="#2a2a2a" stroke="#2a2a2a" stroke-width="0.20">0</text>
<text x="115.60" y="429.45" font-size="6.8" text-anchor="middle" fill="#2a2a2a" stroke="#2a2a2a" stroke-width="0.20">6</text>
<text x="149.60" y="426.65" font-size="6.8" text-anchor="middle" fill="#2a2a2a" stroke="#2a2a2a" stroke-width="0.20">0</text>
<text x="159.30" y="436.85" font-size="6.8" text-anchor="middle" fill="#2a2a2a" stroke="#2a2a2a" stroke-width="0.20">8</text>
<text x="181.10" y="439.65" font-size="6.8" text-anchor="middle" fill="#2a2a2a" stroke="#2a2a2a" stroke-width="0.20">0</text>
<text x="130.80" y="440.45" font-size="6.8" text-anchor="middle" fill="#2a2a2a" stroke="#2a2a2a" stroke-width="0.20">1</text>
<text x="110.10" y="449.55" font-size="6.8" text-anchor="middle" fill="#2a2a2a" stroke="#2a2a2a" stroke-width="0.20">0</text>
<text x="94.40" y="456.45" font-size="6.8" text-anchor="middle" fill="#2a2a2a" stroke="#2a2a2a" stroke-width="0.20">0</text>
<text x="148.80" y="450.15" font-size="6.8" text-anchor="middle" fill="#2a2a2a" stroke="#2a2a2a" stroke-width="0.20">1</text>
<text x="170.90" y="457.05" font-size="6.8" text-anchor="middle" fill="#2a2a2a" stroke="#2a2a2a" stroke-width="0.20">0</text>
<text x="190.20" y="465.85" font-size="6.8" text-anchor="middle" fill="#2a2a2a" stroke="#2a2a2a" stroke-width="0.20">0</text>
<text x="117.00" y="462.55" font-size="6.8" text-anchor="middle" fill="#2a2a2a" stroke="#2a2a2a" stroke-width="0.20">4</text>
<text x="101.30" y="473.65" font-size="6.8" text-anchor="middle" fill="#2a2a2a" stroke="#2a2a2a" stroke-width="0.20">1</text>
<text x="139.70" y="477.25" font-size="6.8" text-anchor="middle" fill="#2a2a2a" stroke="#2a2a2a" stroke-width="0.20">37</text>
<text x="167.30" y="471.65" font-size="6.8" text-anchor="middle" fill="#2a2a2a" stroke="#2a2a2a" stroke-width="0.20">6</text>
<text x="185.50" y="481.05" font-size="6.8" text-anchor="middle" fill="#2a2a2a" stroke="#2a2a2a" stroke-width="0.20">0</text>
<text x="83.90" y="481.35" font-size="6.8" text-anchor="middle" fill="#2a2a2a" stroke="#2a2a2a" stroke-width="0.20">0</text>
<text x="119.80" y="490.15" font-size="6.8" text-anchor="middle" fill="#2a2a2a" stroke="#2a2a2a" stroke-width="0.20">2</text>
<text x="99.10" y="495.15" font-size="6.8" text-anchor="middle" fill="#2a2a2a" stroke="#2a2a2a" stroke-width="0.20">0</text>
<text x="151.50" y="495.75" font-size="6.8" text-anchor="middle" fill="#2a2a2a" stroke="#2a2a2a" stroke-width="0.20">0</text>
<text x="171.40" y="501.25" font-size="6.8" text-anchor="middle" fill="#2a2a2a" stroke="#2a2a2a" stroke-width="0.20">0</text>
<text x="190.20" y="503.95" font-size="6.8" text-anchor="middle" fill="#2a2a2a" stroke="#2a2a2a" stroke-width="0.20">0</text>
<text x="104.00" y="509.45" font-size="6.8" text-anchor="middle" fill="#2a2a2a" stroke="#2a2a2a" stroke-width="0.20">1</text>
<text x="129.40" y="508.15" font-size="6.8" text-anchor="middle" fill="#2a2a2a" stroke="#2a2a2a" stroke-width="0.20">12</text>
<text x="150.70" y="512.25" font-size="6.8" text-anchor="middle" fill="#2a2a2a" stroke="#2a2a2a" stroke-width="0.20">0</text>
<text x="164.80" y="519.75" font-size="6.8" text-anchor="middle" fill="#2a2a2a" stroke="#2a2a2a" stroke-width="0.20">0</text>
<text x="90.80" y="524.75" font-size="6.8" text-anchor="middle" fill="#2a2a2a" stroke="#2a2a2a" stroke-width="0.20">39</text>
<text x="131.40" y="526.05" font-size="6.8" text-anchor="middle" fill="#2a2a2a" stroke="#2a2a2a" stroke-width="0.20">2</text>
<text x="161.50" y="538.45" font-size="6.8" text-anchor="middle" fill="#2a2a2a" stroke="#2a2a2a" stroke-width="0.20">0</text>
<text x="77.60" y="440.25" font-size="6.8" text-anchor="middle" fill="#2a2a2a" stroke="#2a2a2a" stroke-width="0.20">0</text>
<text x="208.50" y="453.45" font-size="6.8" text-anchor="middle" fill="#2a2a2a" stroke="#2a2a2a" stroke-width="0.20">0</text>
<text x="137.60" y="384.27" font-size="10.2" text-anchor="middle" fill="#9c4068">Bacili</text>
<text x="149.00" y="401.87" font-size="7.7" text-anchor="middle" fill="#222" stroke="#222" stroke-width="0.23">S. anginosus (C2)</text>
<text x="71.00" y="433.57" font-size="7.7" text-anchor="middle" fill="#222" stroke="#222" stroke-width="0.23">S. anginosus (H2)</text>
<text x="197.00" y="444.37" font-size="7.7" text-anchor="start" fill="#222" stroke="#222" stroke-width="0.23">E. faecalis (L2)</text>
<text x="82.80" y="543.77" font-size="7.7" text-anchor="middle" fill="#222" stroke="#222" stroke-width="0.23">E. coli (MG1655)</text>
<text x="177.80" y="545.97" font-size="7.7" text-anchor="middle" fill="#222" stroke="#222" stroke-width="0.23">E. faecium (H2)</text>
<path d="M253.55,471.47 C251.73,468.42 249.74,464.82 249.55,460.28 C249.36,455.74 250.64,449.68 252.40,444.25 C254.16,438.83 256.74,432.50 260.09,427.74 C263.45,422.98 268.21,418.66 272.52,415.69 C276.83,412.71 281.30,410.79 285.94,409.91 C290.57,409.02 295.58,409.09 300.34,410.40 C305.10,411.71 310.03,415.07 314.49,417.78 C318.95,420.49 323.51,423.89 327.08,426.66 C330.65,429.43 332.58,431.93 335.91,434.37 C339.24,436.82 343.72,439.48 347.08,441.32 C350.44,443.16 352.20,444.12 356.10,445.42 C360.00,446.71 366.50,447.98 370.47,449.08 C374.43,450.18 377.05,450.63 379.88,452.00 C382.71,453.38 385.51,455.08 387.44,457.33 C389.36,459.59 390.79,462.52 391.42,465.53 C392.04,468.54 392.07,472.53 391.18,475.41 C390.29,478.28 388.49,481.04 386.07,482.77 C383.66,484.51 379.93,485.79 376.71,485.83 C373.48,485.88 370.66,483.16 366.73,483.03 C362.80,482.91 357.58,484.39 353.13,485.08 C348.67,485.77 344.12,485.89 340.02,487.18 C335.93,488.46 332.23,490.72 328.55,492.76 C324.87,494.80 321.75,497.45 317.96,499.42 C314.16,501.39 309.38,504.22 305.79,504.60 C302.19,504.97 300.38,503.16 296.37,501.67 C292.37,500.18 285.12,497.52 281.77,495.65 C278.41,493.78 278.40,492.28 276.25,490.45 C274.09,488.62 271.47,486.65 268.84,484.67 C266.22,482.69 263.05,480.80 260.50,478.60 C257.95,476.40 255.38,474.52 253.55,471.47 Z" fill="#2444b4" fill-opacity="0.6"/>
<path d="M309.12,402.65 C311.60,400.05 314.56,397.13 319.02,395.55 C323.47,393.98 329.91,393.27 335.85,393.19 C341.79,393.11 348.88,393.51 354.66,395.08 C360.43,396.66 366.21,399.65 370.50,402.65 C374.79,405.65 378.09,409.11 380.40,413.06 C382.71,417.00 384.19,421.57 384.36,426.30 C384.52,431.03 382.71,436.55 381.39,441.44 C380.07,446.32 378.09,451.53 376.44,455.63 C374.79,459.73 372.89,462.25 371.49,466.03 C370.09,469.82 368.82,474.70 368.02,478.33 C367.23,481.96 366.82,483.85 366.74,487.79 C366.66,491.73 367.40,498.04 367.53,501.98 C367.66,505.92 368.02,508.44 367.53,511.44 C367.03,514.44 366.21,517.51 364.56,519.95 C362.91,522.40 360.44,524.61 357.63,526.10 C354.82,527.60 350.86,528.86 347.73,528.94 C344.59,529.02 341.29,528.23 338.82,526.58 C336.35,524.92 333.92,521.92 332.88,519.01 C331.84,516.09 333.67,512.69 332.58,509.07 C331.49,505.46 328.41,501.18 326.35,497.34 C324.28,493.51 322.75,489.41 320.21,486.09 C317.67,482.76 314.27,480.10 311.10,477.38 C307.93,474.67 304.33,472.65 301.20,469.82 C298.06,466.98 293.77,463.51 292.29,460.36 C290.80,457.20 292.04,455.00 292.29,450.90 C292.54,446.80 292.95,439.39 293.77,435.76 C294.60,432.13 296.09,431.66 297.24,429.14 C298.39,426.62 299.55,423.62 300.70,420.62 C301.86,417.63 302.77,414.16 304.17,411.16 C305.57,408.17 306.64,405.25 309.12,402.65 Z" fill="#d42828" fill-opacity="0.55"/>
<path d="M394.79,431.88 C398.14,433.33 401.96,435.12 404.91,438.69 C407.85,442.25 410.55,447.88 412.46,453.25 C414.38,458.62 416.18,465.19 416.39,470.93 C416.61,476.66 415.41,482.84 413.75,487.66 C412.10,492.49 409.66,496.56 406.46,499.88 C403.25,503.19 399.15,505.96 394.50,507.57 C389.84,509.18 383.79,509.23 378.51,509.55 C373.24,509.86 367.45,509.66 362.86,509.43 C358.27,509.20 355.17,508.25 350.98,508.15 C346.78,508.04 341.52,508.40 337.66,508.80 C333.81,509.20 331.80,509.41 327.85,510.55 C323.90,511.70 317.86,514.32 313.97,515.66 C310.09,517.00 307.69,518.11 304.56,518.58 C301.42,519.06 298.11,519.26 295.17,518.51 C292.22,517.77 289.26,516.20 286.90,514.12 C284.55,512.03 282.07,508.82 281.02,506.00 C279.97,503.17 279.74,499.93 280.62,497.17 C281.50,494.41 283.74,491.28 286.32,489.43 C288.90,487.59 292.86,488.20 296.11,486.09 C299.37,483.99 302.68,479.86 305.86,476.80 C309.04,473.74 312.64,471.08 315.17,467.74 C317.69,464.40 319.30,460.49 321.02,456.78 C322.74,453.06 323.63,449.17 325.49,445.44 C327.34,441.71 329.47,436.74 332.15,434.42 C334.83,432.10 337.41,432.54 341.57,431.50 C345.72,430.45 353.23,428.54 357.09,428.17 C360.95,427.80 361.88,429.00 364.75,429.27 C367.62,429.54 370.96,429.66 374.30,429.79 C377.63,429.91 381.37,429.67 384.78,430.01 C388.20,430.36 391.43,430.44 394.79,431.88 Z" fill="#22a022" fill-opacity="0.55"/>
<path d="M392.16,518.77 C391.76,522.26 391.15,526.29 388.52,530.07 C385.88,533.84 381.11,538.03 376.36,541.43 C371.60,544.83 365.62,548.50 359.98,550.47 C354.33,552.44 347.82,553.26 342.51,553.24 C337.19,553.23 332.39,552.27 328.10,550.38 C323.80,548.49 319.79,545.63 316.75,541.89 C313.70,538.16 311.78,532.68 309.84,527.98 C307.90,523.28 306.30,517.96 305.11,513.72 C303.93,509.48 303.91,506.37 302.72,502.52 C301.52,498.67 299.55,494.00 297.96,490.63 C296.37,487.25 295.54,485.48 293.18,482.25 C290.82,479.01 286.34,474.33 283.81,471.21 C281.28,468.10 279.43,466.26 277.99,463.56 C276.55,460.86 275.32,457.91 275.16,455.00 C274.99,452.10 275.63,448.92 276.98,446.14 C278.33,443.35 280.75,440.11 283.24,438.28 C285.73,436.46 288.89,435.24 291.91,435.19 C294.93,435.14 298.73,436.20 301.37,437.98 C304.00,439.75 304.61,443.54 307.72,445.85 C310.82,448.15 315.95,449.89 319.98,451.83 C324.00,453.77 327.77,456.23 331.87,457.49 C335.97,458.76 340.36,459.00 344.59,459.42 C348.82,459.83 352.97,459.44 357.26,459.98 C361.54,460.52 367.14,460.91 370.28,462.63 C373.42,464.35 373.78,466.83 376.10,470.28 C378.42,473.74 382.65,479.96 384.21,483.36 C385.77,486.76 384.86,487.98 385.48,490.66 C386.10,493.35 387.01,496.43 387.92,499.50 C388.82,502.57 390.22,505.89 390.93,509.10 C391.64,512.31 392.57,515.27 392.16,518.77 Z" fill="#e2e020" fill-opacity="0.55"/>
<path d="M304.88,543.23 C301.27,543.95 297.08,544.64 292.50,543.41 C287.93,542.19 282.29,539.15 277.43,535.87 C272.58,532.60 267.08,528.30 263.38,523.78 C259.68,519.26 256.85,513.59 255.22,508.76 C253.59,503.92 253.06,499.27 253.61,494.78 C254.17,490.29 255.78,485.76 258.55,481.84 C261.33,477.92 266.19,474.48 270.27,471.26 C274.34,468.05 279.14,464.95 283.00,462.56 C286.86,460.17 289.94,459.20 293.41,456.92 C296.87,454.65 300.90,451.41 303.77,448.92 C306.65,446.43 308.14,445.13 310.64,441.99 C313.13,438.85 316.41,433.33 318.72,430.07 C321.04,426.80 322.30,424.56 324.54,422.41 C326.79,420.27 329.34,418.24 332.18,417.19 C335.02,416.14 338.38,415.75 341.57,416.11 C344.76,416.47 348.74,417.68 351.33,419.38 C353.91,421.07 356.10,423.56 357.08,426.29 C358.06,429.02 358.18,432.81 357.23,435.75 C356.28,438.70 352.70,440.42 351.36,443.95 C350.02,447.49 349.88,452.69 349.19,456.95 C348.50,461.21 347.22,465.38 347.23,469.50 C347.24,473.62 348.35,477.69 349.25,481.66 C350.14,485.63 351.81,489.29 352.60,493.34 C353.39,497.40 354.73,502.62 353.99,506.00 C353.25,509.39 350.89,510.48 348.17,513.65 C345.45,516.83 340.56,522.59 337.66,525.06 C334.76,527.54 333.27,527.08 330.78,528.48 C328.30,529.87 325.52,531.64 322.74,533.42 C319.96,535.19 317.10,537.49 314.12,539.12 C311.14,540.76 308.48,542.52 304.88,543.23 Z" fill="#a07850" fill-opacity="0.6"/>
<text x="342.30" y="410.95" font-size="6.8" text-anchor="middle" fill="#2a2a2a" stroke="#2a2a2a" stroke-width="0.20">0</text>
<text x="307.20" y="431.15" font-size="6.8" text-anchor="middle" fill="#2a2a2a" stroke="#2a2a2a" stroke-width="0.20">0</text>
<text x="341.20" y="428.35" font-size="6.8" text-anchor="middle" fill="#2a2a2a" stroke="#2a2a2a" stroke-width="0.20">0</text>
<text x="350.90" y="438.55" font-size="6.8" text-anchor="middle" fill="#2a2a2a" stroke="#2a2a2a" stroke-width="0.20">0</text>
<text x="372.70" y="441.35" font-size="6.8" text-anchor="middle" fill="#2a2a2a" stroke="#2a2a2a" stroke-width="0.20">0</text>
<text x="322.40" y="442.15" font-size="6.8" text-anchor="middle" fill="#2a2a2a" stroke="#2a2a2a" stroke-width="0.20">0</text>
<text x="301.70" y="451.25" font-size="6.8" text-anchor="middle" fill="#2a2a2a" stroke="#2a2a2a" stroke-width="0.20">0</text>
<text x="286.00" y="458.15" font-size="6.8" text-anchor="middle" fill="#2a2a2a" stroke="#2a2a2a" stroke-width="0.20">0</text>
<text x="340.40" y="451.85" font-size="6.8" text-anchor="middle" fill="#2a2a2a" stroke="#2a2a2a" stroke-width="0.20">1</text>
<text x="362.50" y="458.75" font-size="6.8" text-anchor="middle" fill="#2a2a2a" stroke="#2a2a2a" stroke-width="0.20">1</text>
<text x="381.80" y="467.55" font-size="6.8" text-anchor="middle" fill="#2a2a2a" stroke="#2a2a2a" stroke-width="0.20">1</text>
<text x="308.60" y="464.25" font-size="6.8" text-anchor="middle" fill="#2a2a2a" stroke="#2a2a2a" stroke-width="0.20">0</text>
<text x="292.90" y="475.35" font-size="6.8" text-anchor="middle" fill="#2a2a2a" stroke="#2a2a2a" stroke-width="0.20">0</text>
<text x="331.30" y="478.95" font-size="6.8" text-anchor="middle" fill="#2a2a2a" stroke="#2a2a2a" stroke-width="0.20">81</text>
<text x="358.90" y="473.35" font-size="6.8" text-anchor="middle" fill="#2a2a2a" stroke="#2a2a2a" stroke-width="0.20">0</text>
<text x="377.10" y="482.75" font-size="6.8" text-anchor="middle" fill="#2a2a2a" stroke="#2a2a2a" stroke-width="0.20">0</text>
<text x="275.50" y="483.05" font-size="6.8" text-anchor="middle" fill="#2a2a2a" stroke="#2a2a2a" stroke-width="0.20">0</text>
<text x="311.40" y="491.85" font-size="6.8" text-anchor="middle" fill="#2a2a2a" stroke="#2a2a2a" stroke-width="0.20">2</text>
<text x="290.70" y="496.85" font-size="6.8" text-anchor="middle" fill="#2a2a2a" stroke="#2a2a2a" stroke-width="0.20">3</text>
<text x="343.10" y="497.45" font-size="6.8" text-anchor="middle" fill="#2a2a2a" stroke="#2a2a2a" stroke-width="0.20">0</text>
<text x="363.00" y="502.95" font-size="6.8" text-anchor="middle" fill="#2a2a2a" stroke="#2a2a2a" stroke-width="0.20">0</text>
<text x="381.80" y="505.65" font-size="6.8" text-anchor="middle" fill="#2a2a2a" stroke="#2a2a2a" stroke-width="0.20">0</text>
<text x="295.60" y="511.15" font-size="6.8" text-anchor="middle" fill="#2a2a2a" stroke="#2a2a2a" stroke-width="0.20">0</text>
<text x="321.00" y="509.85" font-size="6.8" text-anchor="middle" fill="#2a2a2a" stroke="#2a2a2a" stroke-width="0.20">0</text>
<text x="342.30" y="513.95" font-size="6.8" text-anchor="middle" fill="#2a2a2a" stroke="#2a2a2a" stroke-width="0.20">0</text>
<text x="356.40" y="521.45" font-size="6.8" text-anchor="middle" fill="#2a2a2a" stroke="#2a2a2a" stroke-width="0.20">0</text>
<text x="282.40" y="526.45" font-size="6.8" text-anchor="middle" fill="#2a2a2a" stroke="#2a2a2a" stroke-width="0.20">5</text>
<text x="323.00" y="527.75" font-size="6.8" text-anchor="middle" fill="#2a2a2a" stroke="#2a2a2a" stroke-width="0.20">8</text>
<text x="353.10" y="540.15" font-size="6.8" text-anchor="middle" fill="#2a2a2a" stroke="#2a2a2a" stroke-width="0.20">1</text>
<text x="269.20" y="441.95" font-size="6.8" text-anchor="middle" fill="#2a2a2a" stroke="#2a2a2a" stroke-width="0.20">0</text>
<text x="400.10" y="455.15" font-size="6.8" text-anchor="middle" fill="#2a2a2a" stroke="#2a2a2a" stroke-width="0.20">0</text>
<text x="322.30" y="385.07" font-size="10.2" text-anchor="middle" fill="#464a74">Gammaproteobacteria</text>
<text x="347.60" y="405.17" font-size="7.7" text-anchor="middle" fill="#222" stroke="#222" stroke-width="0.23">E. cloacae (C2)</text>
<text x="266.20" y="430.77" font-size="7.7" text-anchor="middle" fill="#222" stroke="#222" stroke-width="0.23">E. cloacae (H2)</text>
<text x="387.60" y="446.77" font-size="7.7" text-anchor="start" fill="#222" stroke="#222" stroke-width="0.23">E. cloacae (L2)</text>
<text x="248.70" y="513.97" font-size="7.7" text-anchor="middle" fill="#222" stroke="#222" stroke-width="0.23">E. coli (MG1655)</text>
<text x="403.50" y="527.27" font-size="7.7" text-anchor="middle" fill="#222" stroke="#222" stroke-width="0.23">K. oxytoca (H1)</text>
<text x="393.50" y="546.66" font-size="6.0" text-anchor="middle" fill="#222" stroke="#222" stroke-width="0.18">Atrazine degradation</text>
<text x="244.50" y="523.12" font-size="5.9" text-anchor="middle" fill="#222" stroke="#222" stroke-width="0.18">Arginine biosynthesis</text>
<text x="246.80" y="528.22" font-size="5.9" text-anchor="middle" fill="#222" stroke="#222" stroke-width="0.18">D-Alanine metabolism</text>
<text x="260.00" y="534.02" font-size="5.9" text-anchor="middle" fill="#222" stroke="#222" stroke-width="0.18">Other glycan degradation</text>
<text x="267.00" y="540.12" font-size="5.9" text-anchor="middle" fill="#222" stroke="#222" stroke-width="0.18">Quorum sensing</text>
<text x="267.80" y="546.12" font-size="5.9" text-anchor="middle" fill="#222" stroke="#222" stroke-width="0.18">Acarbose and validamycin</text>
<text x="268.50" y="551.52" font-size="5.9" text-anchor="middle" fill="#222" stroke="#222" stroke-width="0.18">biosynthesis</text>
<text x="430.00" y="405.32" font-size="10.6" text-anchor="start" fill="#111" font-weight="bold">G</text>
<rect x="539.00" y="391.90" width="208.00" height="127.65" fill="#fdf3ec"/>
<line x1="539.00" y1="391.30" x2="643.10" y2="391.30" stroke="#43427f" stroke-width="1.5"/>
<line x1="643.10" y1="391.30" x2="747.00" y2="391.30" stroke="#c44a60" stroke-width="1.5"/>
<text x="536.30" y="397.59" font-size="5.25" text-anchor="end" fill="#3a3a3a" stroke="#3a3a3a" stroke-width="0.16">ABC transporters</text>
<line x1="536.90" y1="395.70" x2="538.40" y2="395.70" stroke="#444" stroke-width="0.6"/>
<rect x="617.30" y="391.85" width="25.30" height="7.70" fill="#c1b7ce"/>
<text x="629.95" y="397.32" font-size="4.5" text-anchor="middle" fill="#2a2a3a" font-weight="bold">3.2</text>
<text x="536.30" y="406.14" font-size="5.25" text-anchor="end" fill="#3a3a3a" stroke="#3a3a3a" stroke-width="0.16">Aminoacyl-tRNA biosynthesis</text>
<line x1="536.90" y1="404.25" x2="538.40" y2="404.25" stroke="#444" stroke-width="0.6"/>
<rect x="539.00" y="400.40" width="25.30" height="7.70" fill="#56488e"/>
<text x="551.65" y="405.87" font-size="4.5" text-anchor="middle" fill="#f4f0f8" font-weight="bold">34.2</text>
<rect x="565.10" y="400.40" width="25.30" height="7.70" fill="#5a4c91"/>
<text x="577.75" y="405.87" font-size="4.5" text-anchor="middle" fill="#f4f0f8" font-weight="bold">31.3</text>
<rect x="591.20" y="400.40" width="25.30" height="7.70" fill="#56488e"/>
<text x="603.85" y="405.87" font-size="4.5" text-anchor="middle" fill="#f4f0f8" font-weight="bold">34.2</text>
<rect x="617.30" y="400.40" width="25.30" height="7.70" fill="#6c60a0"/>
<text x="629.95" y="405.87" font-size="4.5" text-anchor="middle" fill="#f4f0f8" font-weight="bold">18.3</text>
<rect x="669.50" y="400.40" width="25.30" height="7.70" fill="#bcb2cd"/>
<text x="682.15" y="405.87" font-size="4.5" text-anchor="middle" fill="#2a2a3a" font-weight="bold">3.6</text>
<rect x="695.60" y="400.40" width="25.30" height="7.70" fill="#bcb2cd"/>
<text x="708.25" y="405.87" font-size="4.5" text-anchor="middle" fill="#2a2a3a" font-weight="bold">3.6</text>
<rect x="721.70" y="400.40" width="25.30" height="7.70" fill="#bdb3cd"/>
<text x="734.35" y="405.87" font-size="4.5" text-anchor="middle" fill="#2a2a3a" font-weight="bold">3.5</text>
<text x="536.30" y="414.69" font-size="5.25" text-anchor="end" fill="#3a3a3a" stroke="#3a3a3a" stroke-width="0.16">Bacterial secretion system</text>
<line x1="536.90" y1="412.80" x2="538.40" y2="412.80" stroke="#444" stroke-width="0.6"/>
<rect x="617.30" y="408.95" width="25.30" height="7.70" fill="#d2c5ce"/>
<text x="629.95" y="414.42" font-size="4.5" text-anchor="middle" fill="#2a2a3a" font-weight="bold">2.2</text>
<text x="536.30" y="423.24" font-size="5.25" text-anchor="end" fill="#3a3a3a" stroke="#3a3a3a" stroke-width="0.16">Citrate cycle(TCA cycle)</text>
<line x1="536.90" y1="421.35" x2="538.40" y2="421.35" stroke="#444" stroke-width="0.6"/>
<rect x="539.00" y="417.50" width="25.30" height="7.70" fill="#daccd0"/>
<text x="551.65" y="422.97" font-size="4.5" text-anchor="middle" fill="#2a2a3a" font-weight="bold">1.8</text>
<rect x="591.20" y="417.50" width="25.30" height="7.70" fill="#d8cacf"/>
<text x="603.85" y="422.97" font-size="4.5" text-anchor="middle" fill="#2a2a3a" font-weight="bold">1.9</text>
<text x="536.30" y="431.79" font-size="5.25" text-anchor="end" fill="#3a3a3a" stroke="#3a3a3a" stroke-width="0.16">Flagellar assembly</text>
<line x1="536.90" y1="429.90" x2="538.40" y2="429.90" stroke="#444" stroke-width="0.6"/>
<rect x="539.00" y="426.05" width="25.30" height="7.70" fill="#c8bdce"/>
<text x="551.65" y="431.52" font-size="4.5" text-anchor="middle" fill="#2a2a3a" font-weight="bold">2.8</text>
<rect x="565.10" y="426.05" width="25.30" height="7.70" fill="#bbb1cd"/>
<text x="577.75" y="431.52" font-size="4.5" text-anchor="middle" fill="#2a2a3a" font-weight="bold">3.7</text>
<rect x="591.20" y="426.05" width="25.30" height="7.70" fill="#c8bdce"/>
<text x="603.85" y="431.52" font-size="4.5" text-anchor="middle" fill="#2a2a3a" font-weight="bold">2.8</text>
<text x="536.30" y="440.34" font-size="5.25" text-anchor="end" fill="#3a3a3a" stroke="#3a3a3a" stroke-width="0.16">Fructose and mannose metabolism</text>
<line x1="536.90" y1="438.45" x2="538.40" y2="438.45" stroke="#444" stroke-width="0.6"/>
<rect x="643.40" y="434.60" width="25.30" height="7.70" fill="#c8bdce"/>
<text x="656.05" y="440.07" font-size="4.5" text-anchor="middle" fill="#2a2a3a" font-weight="bold">2.8</text>
<rect x="721.70" y="434.60" width="25.30" height="7.70" fill="#d8cacf"/>
<text x="734.35" y="440.07" font-size="4.5" text-anchor="middle" fill="#2a2a3a" font-weight="bold">1.9</text>
<text x="536.30" y="448.89" font-size="5.25" text-anchor="end" fill="#3a3a3a" stroke="#3a3a3a" stroke-width="0.16">One carbon pool by folate</text>
<line x1="536.90" y1="447.00" x2="538.40" y2="447.00" stroke="#444" stroke-width="0.6"/>
<rect x="643.40" y="443.15" width="25.30" height="7.70" fill="#e3d6d5"/>
<text x="656.05" y="448.62" font-size="4.5" text-anchor="middle" fill="#2a2a3a" font-weight="bold">1.3</text>
<text x="536.30" y="457.44" font-size="5.25" text-anchor="end" fill="#3a3a3a" stroke="#3a3a3a" stroke-width="0.16">Oxidative phosphorylation</text>
<line x1="536.90" y1="455.55" x2="538.40" y2="455.55" stroke="#444" stroke-width="0.6"/>
<rect x="617.30" y="451.70" width="25.30" height="7.70" fill="#c9bece"/>
<text x="629.95" y="457.17" font-size="4.5" text-anchor="middle" fill="#2a2a3a" font-weight="bold">2.7</text>
<rect x="669.50" y="451.70" width="25.30" height="7.70" fill="#d4c7ce"/>
<text x="682.15" y="457.17" font-size="4.5" text-anchor="middle" fill="#2a2a3a" font-weight="bold">2.1</text>
<rect x="695.60" y="451.70" width="25.30" height="7.70" fill="#c8bdce"/>
<text x="708.25" y="457.17" font-size="4.5" text-anchor="middle" fill="#2a2a3a" font-weight="bold">2.8</text>
<rect x="721.70" y="451.70" width="25.30" height="7.70" fill="#d8cacf"/>
<text x="734.35" y="457.17" font-size="4.5" text-anchor="middle" fill="#2a2a3a" font-weight="bold">1.9</text>
<text x="536.30" y="465.99" font-size="5.25" text-anchor="end" fill="#3a3a3a" stroke="#3a3a3a" stroke-width="0.16">Phenylalanine,tyrosine,tryptophan biosynthesis</text>
<line x1="536.90" y1="464.10" x2="538.40" y2="464.10" stroke="#444" stroke-width="0.6"/>
<rect x="721.70" y="460.25" width="25.30" height="7.70" fill="#e1d4d4"/>
<text x="734.35" y="465.72" font-size="4.5" text-anchor="middle" fill="#2a2a3a" font-weight="bold">1.4</text>
<text x="536.30" y="474.54" font-size="5.25" text-anchor="end" fill="#3a3a3a" stroke="#3a3a3a" stroke-width="0.16">Phosphotransferase system (PTS)</text>
<line x1="536.90" y1="472.65" x2="538.40" y2="472.65" stroke="#444" stroke-width="0.6"/>
<rect x="539.00" y="468.80" width="25.30" height="7.70" fill="#a49ac8"/>
<text x="551.65" y="474.27" font-size="4.5" text-anchor="middle" fill="#2a2a3a" font-weight="bold">5.8</text>
<rect x="591.20" y="468.80" width="25.30" height="7.70" fill="#b0a6cc"/>
<text x="603.85" y="474.27" font-size="4.5" text-anchor="middle" fill="#2a2a3a" font-weight="bold">4.5</text>
<rect x="721.70" y="468.80" width="25.30" height="7.70" fill="#8f85bd"/>
<text x="734.35" y="474.27" font-size="4.5" text-anchor="middle" fill="#2a2a3a" font-weight="bold">9.2</text>
<text x="536.30" y="483.09" font-size="5.25" text-anchor="end" fill="#3a3a3a" stroke="#3a3a3a" stroke-width="0.16">Protein export</text>
<line x1="536.90" y1="481.20" x2="538.40" y2="481.20" stroke="#444" stroke-width="0.6"/>
<rect x="617.30" y="477.35" width="25.30" height="7.70" fill="#dbced1"/>
<text x="629.95" y="482.82" font-size="4.5" text-anchor="middle" fill="#2a2a3a" font-weight="bold">1.7</text>
<text x="536.30" y="491.64" font-size="5.25" text-anchor="end" fill="#3a3a3a" stroke="#3a3a3a" stroke-width="0.16">Purine metabolism</text>
<line x1="536.90" y1="489.75" x2="538.40" y2="489.75" stroke="#444" stroke-width="0.6"/>
<rect x="617.30" y="485.90" width="25.30" height="7.70" fill="#c1b7ce"/>
<text x="629.95" y="491.37" font-size="4.5" text-anchor="middle" fill="#2a2a3a" font-weight="bold">3.2</text>
<rect x="643.40" y="485.90" width="25.30" height="7.70" fill="#c6bbce"/>
<text x="656.05" y="491.37" font-size="4.5" text-anchor="middle" fill="#2a2a3a" font-weight="bold">2.9</text>
<rect x="669.50" y="485.90" width="25.30" height="7.70" fill="#afa5cc"/>
<text x="682.15" y="491.37" font-size="4.5" text-anchor="middle" fill="#2a2a3a" font-weight="bold">4.6</text>
<rect x="695.60" y="485.90" width="25.30" height="7.70" fill="#b3a9cc"/>
<text x="708.25" y="491.37" font-size="4.5" text-anchor="middle" fill="#2a2a3a" font-weight="bold">4.3</text>
<rect x="721.70" y="485.90" width="25.30" height="7.70" fill="#c4bace"/>
<text x="734.35" y="491.37" font-size="4.5" text-anchor="middle" fill="#2a2a3a" font-weight="bold">3.0</text>
<text x="536.30" y="500.19" font-size="5.25" text-anchor="end" fill="#3a3a3a" stroke="#3a3a3a" stroke-width="0.16">Pyrimidine metabolism</text>
<line x1="536.90" y1="498.30" x2="538.40" y2="498.30" stroke="#444" stroke-width="0.6"/>
<rect x="539.00" y="494.45" width="25.30" height="7.70" fill="#d1c4ce"/>
<text x="551.65" y="499.92" font-size="4.5" text-anchor="middle" fill="#2a2a3a" font-weight="bold">2.3</text>
<rect x="565.10" y="494.45" width="25.30" height="7.70" fill="#d4c7ce"/>
<text x="577.75" y="499.92" font-size="4.5" text-anchor="middle" fill="#2a2a3a" font-weight="bold">2.1</text>
<rect x="591.20" y="494.45" width="25.30" height="7.70" fill="#d1c4ce"/>
<text x="603.85" y="499.92" font-size="4.5" text-anchor="middle" fill="#2a2a3a" font-weight="bold">2.3</text>
<rect x="617.30" y="494.45" width="25.30" height="7.70" fill="#cbc0ce"/>
<text x="629.95" y="499.92" font-size="4.5" text-anchor="middle" fill="#2a2a3a" font-weight="bold">2.6</text>
<rect x="643.40" y="494.45" width="25.30" height="7.70" fill="#d4c7ce"/>
<text x="656.05" y="499.92" font-size="4.5" text-anchor="middle" fill="#2a2a3a" font-weight="bold">2.1</text>
<rect x="669.50" y="494.45" width="25.30" height="7.70" fill="#b8aecd"/>
<text x="682.15" y="499.92" font-size="4.5" text-anchor="middle" fill="#2a2a3a" font-weight="bold">3.9</text>
<rect x="695.60" y="494.45" width="25.30" height="7.70" fill="#b9afcd"/>
<text x="708.25" y="499.92" font-size="4.5" text-anchor="middle" fill="#2a2a3a" font-weight="bold">3.8</text>
<rect x="721.70" y="494.45" width="25.30" height="7.70" fill="#d6c8ce"/>
<text x="734.35" y="499.92" font-size="4.5" text-anchor="middle" fill="#2a2a3a" font-weight="bold">2.0</text>
<text x="536.30" y="508.74" font-size="5.25" text-anchor="end" fill="#3a3a3a" stroke="#3a3a3a" stroke-width="0.16">Ribosome</text>
<line x1="536.90" y1="506.85" x2="538.40" y2="506.85" stroke="#444" stroke-width="0.6"/>
<rect x="643.40" y="503.00" width="25.30" height="7.70" fill="#9f95c6"/>
<text x="656.05" y="508.47" font-size="4.5" text-anchor="middle" fill="#2a2a3a" font-weight="bold">6.4</text>
<rect x="721.70" y="503.00" width="25.30" height="7.70" fill="#daccd0"/>
<text x="734.35" y="508.47" font-size="4.5" text-anchor="middle" fill="#2a2a3a" font-weight="bold">1.8</text>
<text x="536.30" y="517.29" font-size="5.25" text-anchor="end" fill="#3a3a3a" stroke="#3a3a3a" stroke-width="0.16">Two-component system</text>
<line x1="536.90" y1="515.40" x2="538.40" y2="515.40" stroke="#444" stroke-width="0.6"/>
<rect x="617.30" y="511.55" width="25.30" height="7.70" fill="#dbced1"/>
<text x="629.95" y="517.02" font-size="4.5" text-anchor="middle" fill="#2a2a3a" font-weight="bold">1.7</text>
<rect x="480.5" y="494.00" width="57.5" height="9.2" fill="none" stroke="#d04a68" stroke-width="0.6" stroke-dasharray="1,0.8"/>
<line x1="551.65" y1="519.05" x2="551.65" y2="520.85" stroke="#444" stroke-width="0.6"/>
<text transform="translate(551.65,521.45) rotate(-90)" x="0" y="2.23" font-size="6.2" text-anchor="end" fill="#444" stroke="#444" stroke-width="0.19">E. cloacae (H2)</text>
<line x1="577.75" y1="519.05" x2="577.75" y2="520.85" stroke="#444" stroke-width="0.6"/>
<text transform="translate(577.75,521.45) rotate(-90)" x="0" y="2.23" font-size="6.2" text-anchor="end" fill="#444" stroke="#444" stroke-width="0.19">E. cloacae (C2)</text>
<line x1="603.85" y1="519.05" x2="603.85" y2="520.85" stroke="#444" stroke-width="0.6"/>
<text transform="translate(603.85,521.45) rotate(-90)" x="0" y="2.23" font-size="6.2" text-anchor="end" fill="#444" stroke="#444" stroke-width="0.19">E. cloacae (L2)</text>
<line x1="629.95" y1="519.05" x2="629.95" y2="520.85" stroke="#444" stroke-width="0.6"/>
<text transform="translate(629.95,521.45) rotate(-90)" x="0" y="2.23" font-size="6.2" text-anchor="end" fill="#444" stroke="#444" stroke-width="0.19">K. oxytoca (H1)</text>
<line x1="656.05" y1="519.05" x2="656.05" y2="520.85" stroke="#444" stroke-width="0.6"/>
<text transform="translate(656.05,521.45) rotate(-90)" x="0" y="2.23" font-size="6.2" text-anchor="end" fill="#444" stroke="#444" stroke-width="0.19">E. faecalis (L2)</text>
<line x1="682.15" y1="519.05" x2="682.15" y2="520.85" stroke="#444" stroke-width="0.6"/>
<text transform="translate(682.15,521.45) rotate(-90)" x="0" y="2.23" font-size="6.2" text-anchor="end" fill="#444" stroke="#444" stroke-width="0.19">S. anginosus (H2)</text>
<line x1="708.25" y1="519.05" x2="708.25" y2="520.85" stroke="#444" stroke-width="0.6"/>
<text transform="translate(708.25,521.45) rotate(-90)" x="0" y="2.23" font-size="6.2" text-anchor="end" fill="#444" stroke="#444" stroke-width="0.19">S. anginosus (C2)</text>
<line x1="734.35" y1="519.05" x2="734.35" y2="520.85" stroke="#444" stroke-width="0.6"/>
<text transform="translate(734.35,521.45) rotate(-90)" x="0" y="2.23" font-size="6.2" text-anchor="end" fill="#444" stroke="#444" stroke-width="0.19">E. faecium (H2)</text>
<defs><linearGradient id="gG" x1="0" y1="0" x2="1" y2="0">
<stop offset="0" stop-color="#675ba3"/><stop offset="0.5" stop-color="#776dad"/><stop offset="0.8" stop-color="#938bc0"/><stop offset="0.92" stop-color="#d6d2e6"/><stop offset="1" stop-color="#ffffff"/></linearGradient></defs>
<rect x="603.70" y="377.60" width="57.90" height="6.10" fill="url(#gG)"/>
<text x="633.5" y="375.12" font-size="5.9" text-anchor="middle" fill="#333">-Log 10 <tspan font-style="italic">p</tspan>-value</text>
<text x="608.80" y="390.01" font-size="4.2" text-anchor="middle" fill="#2a2a2a" font-weight="bold">31</text>
<text x="617.40" y="390.01" font-size="4.2" text-anchor="middle" fill="#2a2a2a" font-weight="bold">26</text>
<text x="626.00" y="390.01" font-size="4.2" text-anchor="middle" fill="#2a2a2a" font-weight="bold">21</text>
<text x="634.60" y="390.01" font-size="4.2" text-anchor="middle" fill="#2a2a2a" font-weight="bold">16</text>
<text x="643.20" y="390.01" font-size="4.2" text-anchor="middle" fill="#2a2a2a" font-weight="bold">11</text>
<text x="651.80" y="390.01" font-size="4.2" text-anchor="middle" fill="#2a2a2a" font-weight="bold">6</text>
<text x="660.40" y="390.01" font-size="4.2" text-anchor="middle" fill="#2a2a2a" font-weight="bold">1</text>
</svg>
</body></html>
